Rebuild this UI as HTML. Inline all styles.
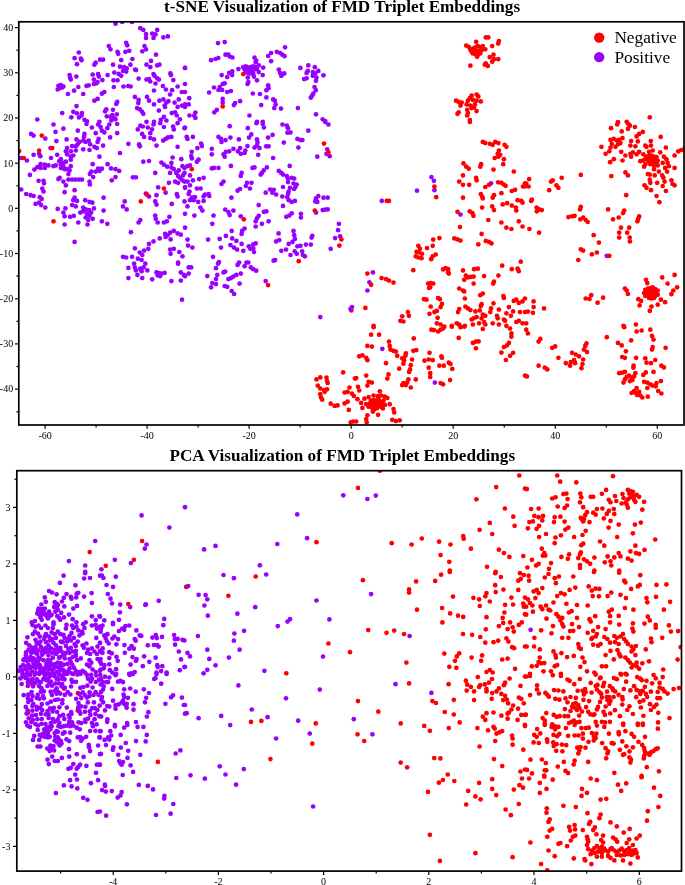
<!DOCTYPE html>
<html><head><meta charset="utf-8"><title>Embeddings</title>
<style>html,body{margin:0;padding:0;background:#fff}body{width:685px;height:885px;overflow:hidden}svg{display:block}text{font-family:"Liberation Serif",serif;fill:#000}.t{font-weight:bold;font-size:17.15px}.k{font-size:10px}.l{font-size:17.3px}</style></head><body>
<svg width="685" height="885" viewBox="0 0 685 885">
<rect width="685" height="885" fill="#fff"/>
<defs><clipPath id="ca"><rect x="18.8" y="21.8" width="665.2" height="403.2"/></clipPath><clipPath id="cb"><rect x="16.8" y="470.7" width="664.7" height="400.4"/></clipPath></defs>
<g clip-path="url(#ca)">
<g fill="#ff0000">
<circle cx="351.3" cy="310.4" r="2.35"/>
</g>
<g fill="#9800ff">
<circle cx="115.5" cy="23.7" r="2.35"/><circle cx="122.2" cy="22.0" r="2.35"/><circle cx="132.1" cy="22.0" r="2.35"/><circle cx="140.3" cy="28.2" r="2.35"/><circle cx="143.3" cy="29.9" r="2.35"/><circle cx="146.0" cy="34.1" r="2.35"/><circle cx="146.0" cy="37.9" r="2.35"/><circle cx="152.2" cy="33.6" r="2.35"/><circle cx="157.2" cy="29.9" r="2.35"/><circle cx="155.5" cy="34.4" r="2.35"/><circle cx="153.5" cy="37.9" r="2.35"/><circle cx="163.4" cy="37.4" r="2.35"/><circle cx="167.9" cy="36.4" r="2.35"/><circle cx="108.8" cy="46.1" r="2.35"/><circle cx="110.5" cy="49.3" r="2.35"/><circle cx="126.2" cy="42.8" r="2.35"/><circle cx="127.2" cy="45.3" r="2.35"/><circle cx="144.5" cy="46.1" r="2.35"/><circle cx="146.0" cy="49.3" r="2.35"/><circle cx="142.3" cy="51.3" r="2.35"/><circle cx="156.0" cy="54.7" r="2.35"/><circle cx="117.5" cy="51.8" r="2.35"/><circle cx="118.2" cy="53.8" r="2.35"/><circle cx="125.4" cy="51.8" r="2.35"/><circle cx="129.2" cy="50.8" r="2.35"/><circle cx="78.8" cy="52.5" r="2.35"/><circle cx="74.6" cy="58.2" r="2.35"/><circle cx="80.8" cy="58.5" r="2.35"/><circle cx="81.5" cy="60.2" r="2.35"/><circle cx="77.0" cy="64.2" r="2.35"/><circle cx="100.1" cy="59.7" r="2.35"/><circle cx="103.1" cy="59.7" r="2.35"/><circle cx="95.7" cy="62.7" r="2.35"/><circle cx="94.4" cy="64.7" r="2.35"/><circle cx="121.2" cy="60.2" r="2.35"/><circle cx="132.4" cy="59.0" r="2.35"/><circle cx="113.0" cy="64.7" r="2.35"/><circle cx="120.0" cy="66.7" r="2.35"/><circle cx="124.2" cy="67.2" r="2.35"/><circle cx="126.7" cy="68.4" r="2.35"/><circle cx="130.4" cy="64.7" r="2.35"/><circle cx="126.2" cy="71.6" r="2.35"/><circle cx="123.0" cy="70.9" r="2.35"/><circle cx="136.1" cy="70.1" r="2.35"/><circle cx="135.1" cy="69.6" r="2.35"/><circle cx="151.0" cy="60.9" r="2.35"/><circle cx="146.5" cy="64.7" r="2.35"/><circle cx="150.3" cy="67.2" r="2.35"/><circle cx="157.2" cy="65.4" r="2.35"/><circle cx="159.4" cy="64.7" r="2.35"/><circle cx="185.0" cy="67.9" r="2.35"/><circle cx="69.6" cy="75.1" r="2.35"/><circle cx="70.8" cy="79.6" r="2.35"/><circle cx="76.3" cy="76.6" r="2.35"/><circle cx="70.1" cy="77.6" r="2.35"/><circle cx="92.7" cy="74.6" r="2.35"/><circle cx="98.1" cy="74.1" r="2.35"/><circle cx="98.9" cy="76.6" r="2.35"/><circle cx="107.6" cy="75.1" r="2.35"/><circle cx="114.3" cy="72.6" r="2.35"/><circle cx="118.7" cy="73.9" r="2.35"/><circle cx="121.2" cy="75.8" r="2.35"/><circle cx="93.9" cy="79.6" r="2.35"/><circle cx="102.4" cy="80.1" r="2.35"/><circle cx="97.6" cy="82.0" r="2.35"/><circle cx="93.9" cy="84.0" r="2.35"/><circle cx="96.4" cy="83.3" r="2.35"/><circle cx="113.5" cy="80.3" r="2.35"/><circle cx="117.5" cy="80.3" r="2.35"/><circle cx="138.6" cy="78.6" r="2.35"/><circle cx="146.5" cy="79.6" r="2.35"/><circle cx="149.0" cy="79.1" r="2.35"/><circle cx="150.3" cy="81.5" r="2.35"/><circle cx="153.5" cy="74.1" r="2.35"/><circle cx="154.5" cy="75.8" r="2.35"/><circle cx="157.2" cy="78.3" r="2.35"/><circle cx="158.9" cy="79.6" r="2.35"/><circle cx="155.5" cy="83.5" r="2.35"/><circle cx="170.4" cy="73.4" r="2.35"/><circle cx="170.9" cy="75.1" r="2.35"/><circle cx="173.3" cy="80.1" r="2.35"/><circle cx="58.4" cy="85.8" r="2.35"/><circle cx="60.9" cy="85.0" r="2.35"/><circle cx="63.4" cy="86.5" r="2.35"/><circle cx="59.7" cy="88.2" r="2.35"/><circle cx="57.7" cy="89.5" r="2.35"/><circle cx="62.2" cy="87.5" r="2.35"/><circle cx="78.3" cy="87.0" r="2.35"/><circle cx="86.5" cy="85.8" r="2.35"/><circle cx="88.7" cy="85.3" r="2.35"/><circle cx="74.1" cy="90.7" r="2.35"/><circle cx="67.9" cy="94.0" r="2.35"/><circle cx="83.2" cy="94.0" r="2.35"/><circle cx="113.8" cy="87.0" r="2.35"/><circle cx="123.5" cy="86.5" r="2.35"/><circle cx="128.2" cy="86.0" r="2.35"/><circle cx="130.6" cy="86.5" r="2.35"/><circle cx="104.3" cy="92.0" r="2.35"/><circle cx="101.9" cy="93.7" r="2.35"/><circle cx="162.9" cy="86.0" r="2.35"/><circle cx="165.9" cy="89.5" r="2.35"/><circle cx="154.0" cy="90.5" r="2.35"/><circle cx="172.1" cy="90.2" r="2.35"/><circle cx="177.6" cy="86.5" r="2.35"/><circle cx="170.1" cy="94.5" r="2.35"/><circle cx="181.8" cy="92.0" r="2.35"/><circle cx="134.9" cy="96.9" r="2.35"/><circle cx="138.6" cy="99.9" r="2.35"/><circle cx="138.3" cy="103.1" r="2.35"/><circle cx="147.0" cy="96.9" r="2.35"/><circle cx="149.0" cy="100.7" r="2.35"/><circle cx="154.0" cy="104.4" r="2.35"/><circle cx="97.6" cy="98.9" r="2.35"/><circle cx="94.4" cy="100.7" r="2.35"/><circle cx="117.2" cy="101.9" r="2.35"/><circle cx="116.3" cy="103.9" r="2.35"/><circle cx="159.4" cy="100.7" r="2.35"/><circle cx="163.4" cy="99.4" r="2.35"/><circle cx="166.4" cy="102.6" r="2.35"/><circle cx="164.6" cy="105.6" r="2.35"/><circle cx="168.4" cy="101.2" r="2.35"/><circle cx="174.6" cy="102.6" r="2.35"/><circle cx="178.8" cy="99.4" r="2.35"/><circle cx="76.5" cy="106.1" r="2.35"/><circle cx="73.3" cy="111.8" r="2.35"/><circle cx="77.0" cy="113.3" r="2.35"/><circle cx="82.0" cy="113.1" r="2.35"/><circle cx="62.2" cy="113.1" r="2.35"/><circle cx="71.3" cy="117.3" r="2.35"/><circle cx="81.5" cy="115.5" r="2.35"/><circle cx="79.0" cy="117.5" r="2.35"/><circle cx="84.5" cy="119.8" r="2.35"/><circle cx="87.0" cy="121.3" r="2.35"/><circle cx="106.3" cy="109.3" r="2.35"/><circle cx="105.1" cy="111.3" r="2.35"/><circle cx="113.0" cy="109.8" r="2.35"/><circle cx="106.8" cy="116.3" r="2.35"/><circle cx="110.5" cy="116.8" r="2.35"/><circle cx="112.3" cy="115.1" r="2.35"/><circle cx="116.8" cy="114.3" r="2.35"/><circle cx="113.8" cy="118.0" r="2.35"/><circle cx="111.3" cy="120.5" r="2.35"/><circle cx="115.5" cy="119.3" r="2.35"/><circle cx="99.4" cy="121.8" r="2.35"/><circle cx="137.1" cy="108.1" r="2.35"/><circle cx="139.8" cy="109.3" r="2.35"/><circle cx="142.1" cy="111.8" r="2.35"/><circle cx="143.3" cy="113.8" r="2.35"/><circle cx="158.9" cy="110.6" r="2.35"/><circle cx="165.1" cy="106.9" r="2.35"/><circle cx="177.6" cy="106.9" r="2.35"/><circle cx="182.0" cy="105.6" r="2.35"/><circle cx="185.0" cy="104.4" r="2.35"/><circle cx="171.8" cy="113.1" r="2.35"/><circle cx="175.1" cy="112.3" r="2.35"/><circle cx="176.8" cy="115.5" r="2.35"/><circle cx="180.0" cy="119.3" r="2.35"/><circle cx="163.9" cy="116.8" r="2.35"/><circle cx="160.9" cy="119.8" r="2.35"/><circle cx="166.4" cy="120.5" r="2.35"/><circle cx="154.0" cy="121.8" r="2.35"/><circle cx="146.5" cy="121.8" r="2.35"/><circle cx="37.3" cy="119.5" r="2.35"/><circle cx="218.0" cy="43.1" r="2.35"/><circle cx="224.7" cy="42.1" r="2.35"/><circle cx="211.1" cy="60.2" r="2.35"/><circle cx="215.5" cy="59.0" r="2.35"/><circle cx="218.3" cy="58.0" r="2.35"/><circle cx="225.5" cy="54.7" r="2.35"/><circle cx="228.4" cy="54.7" r="2.35"/><circle cx="229.7" cy="56.5" r="2.35"/><circle cx="232.4" cy="57.5" r="2.35"/><circle cx="185.0" cy="67.9" r="2.35"/><circle cx="285.0" cy="47.3" r="2.35"/><circle cx="254.5" cy="57.7" r="2.35"/><circle cx="256.2" cy="60.5" r="2.35"/><circle cx="255.7" cy="62.2" r="2.35"/><circle cx="268.1" cy="56.0" r="2.35"/><circle cx="271.1" cy="53.0" r="2.35"/><circle cx="276.8" cy="51.8" r="2.35"/><circle cx="280.1" cy="53.0" r="2.35"/><circle cx="282.3" cy="54.7" r="2.35"/><circle cx="284.5" cy="56.2" r="2.35"/><circle cx="271.1" cy="61.2" r="2.35"/><circle cx="243.3" cy="67.2" r="2.35"/><circle cx="245.8" cy="66.4" r="2.35"/><circle cx="248.3" cy="67.6" r="2.35"/><circle cx="250.8" cy="67.2" r="2.35"/><circle cx="253.2" cy="66.4" r="2.35"/><circle cx="255.7" cy="67.2" r="2.35"/><circle cx="258.7" cy="65.4" r="2.35"/><circle cx="244.6" cy="69.6" r="2.35"/><circle cx="247.0" cy="70.9" r="2.35"/><circle cx="249.5" cy="71.6" r="2.35"/><circle cx="252.0" cy="70.9" r="2.35"/><circle cx="254.5" cy="69.6" r="2.35"/><circle cx="257.0" cy="68.9" r="2.35"/><circle cx="263.2" cy="67.6" r="2.35"/><circle cx="250.8" cy="73.4" r="2.35"/><circle cx="253.2" cy="73.4" r="2.35"/><circle cx="248.3" cy="73.4" r="2.35"/><circle cx="245.8" cy="72.1" r="2.35"/><circle cx="258.7" cy="72.1" r="2.35"/><circle cx="262.7" cy="75.1" r="2.35"/><circle cx="254.0" cy="76.6" r="2.35"/><circle cx="247.8" cy="77.6" r="2.35"/><circle cx="238.4" cy="69.1" r="2.35"/><circle cx="232.2" cy="71.4" r="2.35"/><circle cx="229.2" cy="72.9" r="2.35"/><circle cx="232.2" cy="75.1" r="2.35"/><circle cx="227.2" cy="77.1" r="2.35"/><circle cx="221.7" cy="75.1" r="2.35"/><circle cx="248.3" cy="82.0" r="2.35"/><circle cx="247.5" cy="84.0" r="2.35"/><circle cx="257.0" cy="80.3" r="2.35"/><circle cx="278.8" cy="69.6" r="2.35"/><circle cx="280.1" cy="72.9" r="2.35"/><circle cx="282.3" cy="74.6" r="2.35"/><circle cx="284.3" cy="73.4" r="2.35"/><circle cx="281.3" cy="75.8" r="2.35"/><circle cx="300.4" cy="67.9" r="2.35"/><circle cx="308.3" cy="65.4" r="2.35"/><circle cx="314.8" cy="67.2" r="2.35"/><circle cx="318.3" cy="70.9" r="2.35"/><circle cx="307.8" cy="70.9" r="2.35"/><circle cx="306.6" cy="72.9" r="2.35"/><circle cx="312.8" cy="72.1" r="2.35"/><circle cx="315.3" cy="73.4" r="2.35"/><circle cx="312.8" cy="75.8" r="2.35"/><circle cx="316.5" cy="77.6" r="2.35"/><circle cx="323.5" cy="75.3" r="2.35"/><circle cx="304.1" cy="79.1" r="2.35"/><circle cx="306.6" cy="78.3" r="2.35"/><circle cx="316.0" cy="80.8" r="2.35"/><circle cx="185.0" cy="84.0" r="2.35"/><circle cx="185.0" cy="92.0" r="2.35"/><circle cx="189.2" cy="98.2" r="2.35"/><circle cx="188.7" cy="104.4" r="2.35"/><circle cx="185.0" cy="106.9" r="2.35"/><circle cx="222.7" cy="84.0" r="2.35"/><circle cx="224.7" cy="83.3" r="2.35"/><circle cx="219.7" cy="87.0" r="2.35"/><circle cx="214.0" cy="87.5" r="2.35"/><circle cx="218.5" cy="90.0" r="2.35"/><circle cx="222.2" cy="90.0" r="2.35"/><circle cx="209.1" cy="92.5" r="2.35"/><circle cx="227.2" cy="92.0" r="2.35"/><circle cx="230.9" cy="91.0" r="2.35"/><circle cx="268.1" cy="85.3" r="2.35"/><circle cx="268.6" cy="88.2" r="2.35"/><circle cx="266.4" cy="90.2" r="2.35"/><circle cx="252.8" cy="93.5" r="2.35"/><circle cx="259.9" cy="94.0" r="2.35"/><circle cx="266.4" cy="97.4" r="2.35"/><circle cx="273.1" cy="99.4" r="2.35"/><circle cx="274.8" cy="100.7" r="2.35"/><circle cx="314.5" cy="87.0" r="2.35"/><circle cx="315.8" cy="90.2" r="2.35"/><circle cx="313.3" cy="93.7" r="2.35"/><circle cx="312.1" cy="95.7" r="2.35"/><circle cx="310.8" cy="97.7" r="2.35"/><circle cx="222.7" cy="98.9" r="2.35"/><circle cx="222.7" cy="102.6" r="2.35"/><circle cx="240.1" cy="101.2" r="2.35"/><circle cx="235.1" cy="103.1" r="2.35"/><circle cx="233.9" cy="105.1" r="2.35"/><circle cx="261.2" cy="105.1" r="2.35"/><circle cx="275.6" cy="104.4" r="2.35"/><circle cx="274.3" cy="108.1" r="2.35"/><circle cx="281.0" cy="108.6" r="2.35"/><circle cx="297.9" cy="108.1" r="2.35"/><circle cx="216.8" cy="109.8" r="2.35"/><circle cx="214.3" cy="112.3" r="2.35"/><circle cx="195.4" cy="112.6" r="2.35"/><circle cx="189.5" cy="115.5" r="2.35"/><circle cx="194.2" cy="115.5" r="2.35"/><circle cx="195.4" cy="118.0" r="2.35"/><circle cx="249.5" cy="115.5" r="2.35"/><circle cx="257.0" cy="121.8" r="2.35"/><circle cx="262.7" cy="121.8" r="2.35"/><circle cx="316.0" cy="114.3" r="2.35"/><circle cx="322.7" cy="119.3" r="2.35"/><circle cx="325.2" cy="121.0" r="2.35"/><circle cx="53.5" cy="124.5" r="2.35"/><circle cx="55.5" cy="131.9" r="2.35"/><circle cx="63.4" cy="128.7" r="2.35"/><circle cx="77.8" cy="130.7" r="2.35"/><circle cx="84.5" cy="133.9" r="2.35"/><circle cx="86.5" cy="124.0" r="2.35"/><circle cx="91.9" cy="127.5" r="2.35"/><circle cx="95.7" cy="133.2" r="2.35"/><circle cx="98.1" cy="124.5" r="2.35"/><circle cx="100.6" cy="127.0" r="2.35"/><circle cx="101.9" cy="130.7" r="2.35"/><circle cx="104.3" cy="132.4" r="2.35"/><circle cx="107.3" cy="128.2" r="2.35"/><circle cx="109.3" cy="124.5" r="2.35"/><circle cx="117.2" cy="124.0" r="2.35"/><circle cx="117.2" cy="133.2" r="2.35"/><circle cx="110.1" cy="137.4" r="2.35"/><circle cx="31.1" cy="133.9" r="2.35"/><circle cx="33.6" cy="135.6" r="2.35"/><circle cx="45.3" cy="138.6" r="2.35"/><circle cx="56.4" cy="141.1" r="2.35"/><circle cx="66.6" cy="139.4" r="2.35"/><circle cx="76.5" cy="139.4" r="2.35"/><circle cx="84.0" cy="136.9" r="2.35"/><circle cx="137.8" cy="129.4" r="2.35"/><circle cx="140.3" cy="125.7" r="2.35"/><circle cx="142.8" cy="126.5" r="2.35"/><circle cx="142.1" cy="133.9" r="2.35"/><circle cx="144.1" cy="136.9" r="2.35"/><circle cx="147.8" cy="127.5" r="2.35"/><circle cx="150.3" cy="133.2" r="2.35"/><circle cx="152.0" cy="129.4" r="2.35"/><circle cx="153.5" cy="124.5" r="2.35"/><circle cx="150.3" cy="138.1" r="2.35"/><circle cx="154.0" cy="139.4" r="2.35"/><circle cx="160.2" cy="123.2" r="2.35"/><circle cx="163.9" cy="127.0" r="2.35"/><circle cx="168.1" cy="137.4" r="2.35"/><circle cx="165.6" cy="138.9" r="2.35"/><circle cx="163.2" cy="140.6" r="2.35"/><circle cx="171.4" cy="136.9" r="2.35"/><circle cx="173.1" cy="126.5" r="2.35"/><circle cx="173.8" cy="129.4" r="2.35"/><circle cx="177.6" cy="123.2" r="2.35"/><circle cx="184.5" cy="128.2" r="2.35"/><circle cx="128.4" cy="143.8" r="2.35"/><circle cx="139.1" cy="144.3" r="2.35"/><circle cx="139.8" cy="146.3" r="2.35"/><circle cx="156.5" cy="145.6" r="2.35"/><circle cx="177.6" cy="146.8" r="2.35"/><circle cx="120.0" cy="153.0" r="2.35"/><circle cx="79.5" cy="141.9" r="2.35"/><circle cx="83.2" cy="140.6" r="2.35"/><circle cx="85.7" cy="141.9" r="2.35"/><circle cx="88.7" cy="140.6" r="2.35"/><circle cx="77.5" cy="144.3" r="2.35"/><circle cx="75.8" cy="146.3" r="2.35"/><circle cx="72.1" cy="146.1" r="2.35"/><circle cx="67.1" cy="148.1" r="2.35"/><circle cx="90.2" cy="144.3" r="2.35"/><circle cx="94.4" cy="146.8" r="2.35"/><circle cx="96.9" cy="148.1" r="2.35"/><circle cx="103.1" cy="145.6" r="2.35"/><circle cx="98.6" cy="138.9" r="2.35"/><circle cx="97.6" cy="141.9" r="2.35"/><circle cx="89.5" cy="150.0" r="2.35"/><circle cx="83.2" cy="149.3" r="2.35"/><circle cx="65.9" cy="151.3" r="2.35"/><circle cx="67.1" cy="154.3" r="2.35"/><circle cx="70.8" cy="151.3" r="2.35"/><circle cx="73.3" cy="155.5" r="2.35"/><circle cx="75.8" cy="150.5" r="2.35"/><circle cx="70.8" cy="156.7" r="2.35"/><circle cx="70.8" cy="159.7" r="2.35"/><circle cx="99.4" cy="156.7" r="2.35"/><circle cx="50.5" cy="148.1" r="2.35"/><circle cx="33.6" cy="154.8" r="2.35"/><circle cx="39.1" cy="153.8" r="2.35"/><circle cx="40.3" cy="156.2" r="2.35"/><circle cx="51.0" cy="158.0" r="2.35"/><circle cx="57.2" cy="154.8" r="2.35"/><circle cx="60.9" cy="159.2" r="2.35"/><circle cx="59.2" cy="161.2" r="2.35"/><circle cx="26.9" cy="160.5" r="2.35"/><circle cx="21.2" cy="158.0" r="2.35"/><circle cx="40.6" cy="164.2" r="2.35"/><circle cx="44.8" cy="164.7" r="2.35"/><circle cx="48.5" cy="165.4" r="2.35"/><circle cx="53.5" cy="166.2" r="2.35"/><circle cx="55.9" cy="165.4" r="2.35"/><circle cx="60.9" cy="164.2" r="2.35"/><circle cx="63.4" cy="162.9" r="2.35"/><circle cx="65.9" cy="161.7" r="2.35"/><circle cx="63.4" cy="166.7" r="2.35"/><circle cx="60.9" cy="167.9" r="2.35"/><circle cx="64.6" cy="169.2" r="2.35"/><circle cx="67.1" cy="169.2" r="2.35"/><circle cx="70.8" cy="166.2" r="2.35"/><circle cx="69.6" cy="170.4" r="2.35"/><circle cx="40.6" cy="167.9" r="2.35"/><circle cx="37.3" cy="167.2" r="2.35"/><circle cx="34.4" cy="169.6" r="2.35"/><circle cx="44.8" cy="167.9" r="2.35"/><circle cx="92.7" cy="164.2" r="2.35"/><circle cx="107.6" cy="164.2" r="2.35"/><circle cx="111.0" cy="168.4" r="2.35"/><circle cx="115.5" cy="169.2" r="2.35"/><circle cx="119.2" cy="170.9" r="2.35"/><circle cx="101.9" cy="168.7" r="2.35"/><circle cx="98.1" cy="168.7" r="2.35"/><circle cx="99.4" cy="170.9" r="2.35"/><circle cx="95.7" cy="171.6" r="2.35"/><circle cx="91.4" cy="171.6" r="2.35"/><circle cx="89.9" cy="174.1" r="2.35"/><circle cx="143.3" cy="161.7" r="2.35"/><circle cx="149.0" cy="161.0" r="2.35"/><circle cx="161.4" cy="162.5" r="2.35"/><circle cx="163.9" cy="164.7" r="2.35"/><circle cx="167.1" cy="166.7" r="2.35"/><circle cx="171.4" cy="167.4" r="2.35"/><circle cx="173.8" cy="169.2" r="2.35"/><circle cx="178.8" cy="170.4" r="2.35"/><circle cx="182.5" cy="166.2" r="2.35"/><circle cx="184.5" cy="167.9" r="2.35"/><circle cx="181.3" cy="159.2" r="2.35"/><circle cx="172.6" cy="157.5" r="2.35"/><circle cx="171.4" cy="162.9" r="2.35"/><circle cx="29.9" cy="174.9" r="2.35"/><circle cx="38.6" cy="180.8" r="2.35"/><circle cx="43.5" cy="180.8" r="2.35"/><circle cx="44.0" cy="183.3" r="2.35"/><circle cx="42.3" cy="188.5" r="2.35"/><circle cx="43.5" cy="191.5" r="2.35"/><circle cx="59.7" cy="177.8" r="2.35"/><circle cx="58.4" cy="179.1" r="2.35"/><circle cx="63.4" cy="181.6" r="2.35"/><circle cx="68.4" cy="174.1" r="2.35"/><circle cx="68.4" cy="179.6" r="2.35"/><circle cx="72.1" cy="179.6" r="2.35"/><circle cx="75.3" cy="179.6" r="2.35"/><circle cx="78.8" cy="179.6" r="2.35"/><circle cx="82.0" cy="179.6" r="2.35"/><circle cx="65.9" cy="185.3" r="2.35"/><circle cx="64.6" cy="192.2" r="2.35"/><circle cx="74.6" cy="190.2" r="2.35"/><circle cx="89.5" cy="181.6" r="2.35"/><circle cx="89.9" cy="184.5" r="2.35"/><circle cx="93.2" cy="177.1" r="2.35"/><circle cx="111.8" cy="180.3" r="2.35"/><circle cx="115.5" cy="177.1" r="2.35"/><circle cx="132.9" cy="177.3" r="2.35"/><circle cx="135.9" cy="177.3" r="2.35"/><circle cx="155.2" cy="172.9" r="2.35"/><circle cx="170.1" cy="172.9" r="2.35"/><circle cx="176.3" cy="172.9" r="2.35"/><circle cx="178.1" cy="176.1" r="2.35"/><circle cx="180.0" cy="177.8" r="2.35"/><circle cx="183.0" cy="175.4" r="2.35"/><circle cx="184.5" cy="172.9" r="2.35"/><circle cx="175.1" cy="181.6" r="2.35"/><circle cx="178.1" cy="182.8" r="2.35"/><circle cx="168.9" cy="182.8" r="2.35"/><circle cx="182.5" cy="180.3" r="2.35"/><circle cx="184.5" cy="181.6" r="2.35"/><circle cx="158.2" cy="187.3" r="2.35"/><circle cx="165.6" cy="192.7" r="2.35"/><circle cx="156.5" cy="195.2" r="2.35"/><circle cx="176.8" cy="194.0" r="2.35"/><circle cx="177.6" cy="196.5" r="2.35"/><circle cx="185.0" cy="187.8" r="2.35"/><circle cx="145.8" cy="193.5" r="2.35"/><circle cx="149.0" cy="196.5" r="2.35"/><circle cx="21.2" cy="189.5" r="2.35"/><circle cx="26.2" cy="194.0" r="2.35"/><circle cx="30.6" cy="195.2" r="2.35"/><circle cx="33.6" cy="196.0" r="2.35"/><circle cx="39.8" cy="197.2" r="2.35"/><circle cx="41.6" cy="198.9" r="2.35"/><circle cx="39.1" cy="202.7" r="2.35"/><circle cx="35.6" cy="203.9" r="2.35"/><circle cx="41.1" cy="205.1" r="2.35"/><circle cx="45.3" cy="207.6" r="2.35"/><circle cx="74.6" cy="197.7" r="2.35"/><circle cx="73.3" cy="200.2" r="2.35"/><circle cx="77.0" cy="200.9" r="2.35"/><circle cx="85.2" cy="200.2" r="2.35"/><circle cx="89.5" cy="201.9" r="2.35"/><circle cx="92.4" cy="202.7" r="2.35"/><circle cx="103.6" cy="197.7" r="2.35"/><circle cx="124.7" cy="201.4" r="2.35"/><circle cx="123.0" cy="206.4" r="2.35"/><circle cx="126.7" cy="209.4" r="2.35"/><circle cx="155.2" cy="201.4" r="2.35"/><circle cx="156.5" cy="204.6" r="2.35"/><circle cx="171.8" cy="203.9" r="2.35"/><circle cx="184.5" cy="201.4" r="2.35"/><circle cx="72.1" cy="205.1" r="2.35"/><circle cx="75.8" cy="206.4" r="2.35"/><circle cx="57.7" cy="208.9" r="2.35"/><circle cx="65.4" cy="208.4" r="2.35"/><circle cx="63.4" cy="212.6" r="2.35"/><circle cx="64.6" cy="216.3" r="2.35"/><circle cx="70.1" cy="216.8" r="2.35"/><circle cx="73.8" cy="215.8" r="2.35"/><circle cx="78.3" cy="222.5" r="2.35"/><circle cx="83.2" cy="207.6" r="2.35"/><circle cx="80.3" cy="212.6" r="2.35"/><circle cx="83.2" cy="211.3" r="2.35"/><circle cx="85.7" cy="209.4" r="2.35"/><circle cx="89.0" cy="210.1" r="2.35"/><circle cx="91.2" cy="212.6" r="2.35"/><circle cx="93.9" cy="208.4" r="2.35"/><circle cx="87.0" cy="213.8" r="2.35"/><circle cx="89.5" cy="215.8" r="2.35"/><circle cx="85.7" cy="217.5" r="2.35"/><circle cx="92.7" cy="218.8" r="2.35"/><circle cx="88.2" cy="220.0" r="2.35"/><circle cx="103.6" cy="210.6" r="2.35"/><circle cx="101.9" cy="221.3" r="2.35"/><circle cx="107.3" cy="223.8" r="2.35"/><circle cx="140.3" cy="220.0" r="2.35"/><circle cx="138.6" cy="222.5" r="2.35"/><circle cx="155.2" cy="215.6" r="2.35"/><circle cx="155.7" cy="218.8" r="2.35"/><circle cx="169.4" cy="216.8" r="2.35"/><circle cx="157.7" cy="222.5" r="2.35"/><circle cx="163.9" cy="222.5" r="2.35"/><circle cx="166.9" cy="221.3" r="2.35"/><circle cx="229.7" cy="126.2" r="2.35"/><circle cx="247.8" cy="128.2" r="2.35"/><circle cx="256.5" cy="123.2" r="2.35"/><circle cx="262.7" cy="124.0" r="2.35"/><circle cx="263.9" cy="127.5" r="2.35"/><circle cx="282.5" cy="124.5" r="2.35"/><circle cx="286.8" cy="125.7" r="2.35"/><circle cx="288.0" cy="128.2" r="2.35"/><circle cx="287.5" cy="132.7" r="2.35"/><circle cx="290.5" cy="132.4" r="2.35"/><circle cx="308.3" cy="130.7" r="2.35"/><circle cx="328.4" cy="124.5" r="2.35"/><circle cx="325.2" cy="122.0" r="2.35"/><circle cx="185.0" cy="127.5" r="2.35"/><circle cx="186.7" cy="136.9" r="2.35"/><circle cx="187.5" cy="138.9" r="2.35"/><circle cx="192.9" cy="136.9" r="2.35"/><circle cx="201.1" cy="143.6" r="2.35"/><circle cx="201.9" cy="146.1" r="2.35"/><circle cx="197.4" cy="148.1" r="2.35"/><circle cx="218.5" cy="136.9" r="2.35"/><circle cx="221.0" cy="138.9" r="2.35"/><circle cx="221.5" cy="141.9" r="2.35"/><circle cx="225.5" cy="140.1" r="2.35"/><circle cx="230.4" cy="137.6" r="2.35"/><circle cx="238.9" cy="139.4" r="2.35"/><circle cx="251.3" cy="134.4" r="2.35"/><circle cx="249.0" cy="137.6" r="2.35"/><circle cx="257.0" cy="139.4" r="2.35"/><circle cx="257.5" cy="142.4" r="2.35"/><circle cx="268.1" cy="137.6" r="2.35"/><circle cx="272.6" cy="134.9" r="2.35"/><circle cx="283.8" cy="142.6" r="2.35"/><circle cx="297.4" cy="138.9" r="2.35"/><circle cx="300.4" cy="140.1" r="2.35"/><circle cx="302.4" cy="140.1" r="2.35"/><circle cx="211.8" cy="148.8" r="2.35"/><circle cx="211.8" cy="154.3" r="2.35"/><circle cx="223.5" cy="154.3" r="2.35"/><circle cx="224.7" cy="156.7" r="2.35"/><circle cx="225.9" cy="151.8" r="2.35"/><circle cx="229.2" cy="151.3" r="2.35"/><circle cx="233.4" cy="148.8" r="2.35"/><circle cx="237.9" cy="151.3" r="2.35"/><circle cx="240.1" cy="148.1" r="2.35"/><circle cx="240.8" cy="153.8" r="2.35"/><circle cx="244.6" cy="153.0" r="2.35"/><circle cx="245.3" cy="150.5" r="2.35"/><circle cx="247.5" cy="146.1" r="2.35"/><circle cx="254.5" cy="147.6" r="2.35"/><circle cx="257.0" cy="145.6" r="2.35"/><circle cx="259.5" cy="148.1" r="2.35"/><circle cx="266.2" cy="146.3" r="2.35"/><circle cx="268.6" cy="146.3" r="2.35"/><circle cx="258.2" cy="154.8" r="2.35"/><circle cx="273.1" cy="158.0" r="2.35"/><circle cx="298.4" cy="147.6" r="2.35"/><circle cx="191.7" cy="151.8" r="2.35"/><circle cx="191.2" cy="156.0" r="2.35"/><circle cx="191.9" cy="158.5" r="2.35"/><circle cx="198.6" cy="159.7" r="2.35"/><circle cx="196.9" cy="161.7" r="2.35"/><circle cx="190.0" cy="165.4" r="2.35"/><circle cx="187.5" cy="166.2" r="2.35"/><circle cx="211.8" cy="168.4" r="2.35"/><circle cx="214.0" cy="167.9" r="2.35"/><circle cx="218.5" cy="167.9" r="2.35"/><circle cx="230.9" cy="165.9" r="2.35"/><circle cx="252.5" cy="167.9" r="2.35"/><circle cx="254.5" cy="167.4" r="2.35"/><circle cx="266.9" cy="167.4" r="2.35"/><circle cx="263.7" cy="170.4" r="2.35"/><circle cx="261.9" cy="172.9" r="2.35"/><circle cx="260.7" cy="174.6" r="2.35"/><circle cx="241.6" cy="172.9" r="2.35"/><circle cx="240.8" cy="175.9" r="2.35"/><circle cx="289.7" cy="165.9" r="2.35"/><circle cx="278.8" cy="170.9" r="2.35"/><circle cx="281.3" cy="172.9" r="2.35"/><circle cx="283.0" cy="174.6" r="2.35"/><circle cx="286.8" cy="176.1" r="2.35"/><circle cx="288.0" cy="178.6" r="2.35"/><circle cx="291.7" cy="177.8" r="2.35"/><circle cx="294.2" cy="178.6" r="2.35"/><circle cx="288.0" cy="182.1" r="2.35"/><circle cx="293.5" cy="183.5" r="2.35"/><circle cx="296.7" cy="184.5" r="2.35"/><circle cx="295.4" cy="187.0" r="2.35"/><circle cx="294.2" cy="189.0" r="2.35"/><circle cx="290.0" cy="187.8" r="2.35"/><circle cx="283.0" cy="187.0" r="2.35"/><circle cx="288.7" cy="191.5" r="2.35"/><circle cx="288.0" cy="194.0" r="2.35"/><circle cx="317.3" cy="156.7" r="2.35"/><circle cx="327.2" cy="149.3" r="2.35"/><circle cx="326.5" cy="153.8" r="2.35"/><circle cx="329.7" cy="156.2" r="2.35"/><circle cx="190.0" cy="175.4" r="2.35"/><circle cx="187.5" cy="181.6" r="2.35"/><circle cx="192.9" cy="180.3" r="2.35"/><circle cx="199.1" cy="179.1" r="2.35"/><circle cx="203.6" cy="177.8" r="2.35"/><circle cx="190.0" cy="185.3" r="2.35"/><circle cx="185.0" cy="187.0" r="2.35"/><circle cx="196.9" cy="188.5" r="2.35"/><circle cx="200.6" cy="188.5" r="2.35"/><circle cx="189.5" cy="191.5" r="2.35"/><circle cx="188.7" cy="194.0" r="2.35"/><circle cx="223.5" cy="181.6" r="2.35"/><circle cx="221.5" cy="184.0" r="2.35"/><circle cx="247.0" cy="182.8" r="2.35"/><circle cx="251.5" cy="182.8" r="2.35"/><circle cx="245.8" cy="186.0" r="2.35"/><circle cx="250.0" cy="188.5" r="2.35"/><circle cx="240.1" cy="189.0" r="2.35"/><circle cx="237.6" cy="190.7" r="2.35"/><circle cx="270.1" cy="189.5" r="2.35"/><circle cx="273.8" cy="189.8" r="2.35"/><circle cx="265.7" cy="192.7" r="2.35"/><circle cx="272.4" cy="192.7" r="2.35"/><circle cx="276.1" cy="194.5" r="2.35"/><circle cx="282.3" cy="196.5" r="2.35"/><circle cx="287.2" cy="197.2" r="2.35"/><circle cx="288.7" cy="200.2" r="2.35"/><circle cx="291.7" cy="201.9" r="2.35"/><circle cx="294.9" cy="200.9" r="2.35"/><circle cx="283.0" cy="205.9" r="2.35"/><circle cx="318.3" cy="196.0" r="2.35"/><circle cx="316.0" cy="198.4" r="2.35"/><circle cx="315.3" cy="201.4" r="2.35"/><circle cx="317.3" cy="201.9" r="2.35"/><circle cx="323.5" cy="197.7" r="2.35"/><circle cx="327.7" cy="197.7" r="2.35"/><circle cx="204.9" cy="194.7" r="2.35"/><circle cx="208.6" cy="194.0" r="2.35"/><circle cx="209.3" cy="196.0" r="2.35"/><circle cx="203.6" cy="196.5" r="2.35"/><circle cx="191.9" cy="197.7" r="2.35"/><circle cx="194.9" cy="197.2" r="2.35"/><circle cx="190.0" cy="200.2" r="2.35"/><circle cx="193.7" cy="200.2" r="2.35"/><circle cx="198.2" cy="201.9" r="2.35"/><circle cx="203.6" cy="200.9" r="2.35"/><circle cx="187.5" cy="206.4" r="2.35"/><circle cx="200.4" cy="207.6" r="2.35"/><circle cx="202.4" cy="210.6" r="2.35"/><circle cx="231.4" cy="197.7" r="2.35"/><circle cx="258.7" cy="205.1" r="2.35"/><circle cx="225.2" cy="209.6" r="2.35"/><circle cx="228.4" cy="212.1" r="2.35"/><circle cx="233.4" cy="210.6" r="2.35"/><circle cx="229.7" cy="215.1" r="2.35"/><circle cx="240.8" cy="216.3" r="2.35"/><circle cx="263.9" cy="211.8" r="2.35"/><circle cx="266.4" cy="211.3" r="2.35"/><circle cx="258.7" cy="215.8" r="2.35"/><circle cx="257.0" cy="218.3" r="2.35"/><circle cx="255.7" cy="221.3" r="2.35"/><circle cx="268.6" cy="221.3" r="2.35"/><circle cx="261.9" cy="223.8" r="2.35"/><circle cx="291.7" cy="213.3" r="2.35"/><circle cx="289.2" cy="215.6" r="2.35"/><circle cx="286.3" cy="216.8" r="2.35"/><circle cx="300.9" cy="213.8" r="2.35"/><circle cx="300.9" cy="217.5" r="2.35"/><circle cx="316.0" cy="212.6" r="2.35"/><circle cx="322.7" cy="210.1" r="2.35"/><circle cx="325.2" cy="209.6" r="2.35"/><circle cx="327.7" cy="209.4" r="2.35"/><circle cx="185.0" cy="213.8" r="2.35"/><circle cx="194.4" cy="215.6" r="2.35"/><circle cx="213.5" cy="215.6" r="2.35"/><circle cx="212.3" cy="223.8" r="2.35"/><circle cx="338.9" cy="223.8" r="2.35"/><circle cx="381.8" cy="200.9" r="2.35"/><circle cx="417.0" cy="190.7" r="2.35"/><circle cx="431.4" cy="177.1" r="2.35"/><circle cx="433.9" cy="180.8" r="2.35"/><circle cx="434.4" cy="190.2" r="2.35"/><circle cx="491.0" cy="183.3" r="2.35"/><circle cx="460.5" cy="214.6" r="2.35"/><circle cx="64.6" cy="224.5" r="2.35"/><circle cx="87.5" cy="224.5" r="2.35"/><circle cx="74.6" cy="241.9" r="2.35"/><circle cx="130.9" cy="232.2" r="2.35"/><circle cx="165.1" cy="233.9" r="2.35"/><circle cx="167.6" cy="235.2" r="2.35"/><circle cx="170.1" cy="232.7" r="2.35"/><circle cx="173.8" cy="230.9" r="2.35"/><circle cx="177.6" cy="233.4" r="2.35"/><circle cx="180.8" cy="234.7" r="2.35"/><circle cx="170.6" cy="239.4" r="2.35"/><circle cx="165.6" cy="236.9" r="2.35"/><circle cx="159.7" cy="238.4" r="2.35"/><circle cx="153.5" cy="241.4" r="2.35"/><circle cx="149.0" cy="243.9" r="2.35"/><circle cx="185.0" cy="227.7" r="2.35"/><circle cx="134.9" cy="248.3" r="2.35"/><circle cx="144.1" cy="250.6" r="2.35"/><circle cx="148.3" cy="248.8" r="2.35"/><circle cx="139.8" cy="252.5" r="2.35"/><circle cx="142.3" cy="255.0" r="2.35"/><circle cx="170.1" cy="249.6" r="2.35"/><circle cx="173.8" cy="248.8" r="2.35"/><circle cx="170.6" cy="253.8" r="2.35"/><circle cx="179.3" cy="252.0" r="2.35"/><circle cx="182.5" cy="256.3" r="2.35"/><circle cx="123.0" cy="256.8" r="2.35"/><circle cx="126.2" cy="257.5" r="2.35"/><circle cx="132.1" cy="256.8" r="2.35"/><circle cx="137.8" cy="258.7" r="2.35"/><circle cx="141.6" cy="260.0" r="2.35"/><circle cx="134.1" cy="263.7" r="2.35"/><circle cx="145.3" cy="263.7" r="2.35"/><circle cx="178.1" cy="262.5" r="2.35"/><circle cx="178.1" cy="263.7" r="2.35"/><circle cx="128.4" cy="267.9" r="2.35"/><circle cx="134.9" cy="267.4" r="2.35"/><circle cx="135.9" cy="270.4" r="2.35"/><circle cx="140.3" cy="268.7" r="2.35"/><circle cx="143.6" cy="267.4" r="2.35"/><circle cx="141.6" cy="271.2" r="2.35"/><circle cx="147.3" cy="270.4" r="2.35"/><circle cx="137.4" cy="274.9" r="2.35"/><circle cx="156.5" cy="272.4" r="2.35"/><circle cx="158.9" cy="273.1" r="2.35"/><circle cx="161.4" cy="273.6" r="2.35"/><circle cx="164.6" cy="272.9" r="2.35"/><circle cx="157.7" cy="275.4" r="2.35"/><circle cx="160.2" cy="276.1" r="2.35"/><circle cx="128.4" cy="278.1" r="2.35"/><circle cx="142.3" cy="278.1" r="2.35"/><circle cx="152.2" cy="279.3" r="2.35"/><circle cx="171.4" cy="281.1" r="2.35"/><circle cx="180.8" cy="272.4" r="2.35"/><circle cx="183.8" cy="274.9" r="2.35"/><circle cx="180.8" cy="280.6" r="2.35"/><circle cx="185.0" cy="276.1" r="2.35"/><circle cx="182.0" cy="299.7" r="2.35"/><circle cx="255.7" cy="226.5" r="2.35"/><circle cx="244.6" cy="228.5" r="2.35"/><circle cx="242.1" cy="230.9" r="2.35"/><circle cx="241.6" cy="233.9" r="2.35"/><circle cx="231.7" cy="230.9" r="2.35"/><circle cx="225.9" cy="235.9" r="2.35"/><circle cx="232.2" cy="238.4" r="2.35"/><circle cx="219.7" cy="238.9" r="2.35"/><circle cx="208.1" cy="239.6" r="2.35"/><circle cx="236.4" cy="240.9" r="2.35"/><circle cx="241.6" cy="243.9" r="2.35"/><circle cx="230.4" cy="245.1" r="2.35"/><circle cx="233.9" cy="247.6" r="2.35"/><circle cx="237.1" cy="249.6" r="2.35"/><circle cx="221.0" cy="247.6" r="2.35"/><circle cx="243.3" cy="250.8" r="2.35"/><circle cx="248.8" cy="246.3" r="2.35"/><circle cx="250.3" cy="248.8" r="2.35"/><circle cx="253.2" cy="244.4" r="2.35"/><circle cx="255.7" cy="243.4" r="2.35"/><circle cx="253.2" cy="248.3" r="2.35"/><circle cx="254.0" cy="252.0" r="2.35"/><circle cx="187.5" cy="239.6" r="2.35"/><circle cx="188.0" cy="245.6" r="2.35"/><circle cx="192.4" cy="247.6" r="2.35"/><circle cx="278.6" cy="233.4" r="2.35"/><circle cx="279.3" cy="240.1" r="2.35"/><circle cx="276.1" cy="241.4" r="2.35"/><circle cx="293.5" cy="230.9" r="2.35"/><circle cx="294.2" cy="235.2" r="2.35"/><circle cx="294.9" cy="238.9" r="2.35"/><circle cx="292.5" cy="241.9" r="2.35"/><circle cx="288.7" cy="243.9" r="2.35"/><circle cx="312.3" cy="235.9" r="2.35"/><circle cx="311.6" cy="237.6" r="2.35"/><circle cx="305.9" cy="244.6" r="2.35"/><circle cx="310.8" cy="244.6" r="2.35"/><circle cx="297.4" cy="246.3" r="2.35"/><circle cx="300.4" cy="245.8" r="2.35"/><circle cx="281.3" cy="250.8" r="2.35"/><circle cx="286.0" cy="249.6" r="2.35"/><circle cx="294.7" cy="251.3" r="2.35"/><circle cx="296.7" cy="253.8" r="2.35"/><circle cx="302.1" cy="251.3" r="2.35"/><circle cx="302.9" cy="255.0" r="2.35"/><circle cx="304.9" cy="256.3" r="2.35"/><circle cx="290.5" cy="255.0" r="2.35"/><circle cx="338.1" cy="230.2" r="2.35"/><circle cx="340.1" cy="236.4" r="2.35"/><circle cx="335.1" cy="238.1" r="2.35"/><circle cx="330.7" cy="248.8" r="2.35"/><circle cx="213.0" cy="256.8" r="2.35"/><circle cx="219.0" cy="262.0" r="2.35"/><circle cx="218.0" cy="263.7" r="2.35"/><circle cx="216.0" cy="268.2" r="2.35"/><circle cx="239.1" cy="262.5" r="2.35"/><circle cx="237.6" cy="264.9" r="2.35"/><circle cx="246.5" cy="262.5" r="2.35"/><circle cx="248.3" cy="262.5" r="2.35"/><circle cx="244.6" cy="266.2" r="2.35"/><circle cx="250.8" cy="267.4" r="2.35"/><circle cx="253.2" cy="269.2" r="2.35"/><circle cx="256.2" cy="270.7" r="2.35"/><circle cx="273.6" cy="260.7" r="2.35"/><circle cx="275.1" cy="260.0" r="2.35"/><circle cx="188.7" cy="267.4" r="2.35"/><circle cx="191.2" cy="267.4" r="2.35"/><circle cx="188.7" cy="273.6" r="2.35"/><circle cx="185.0" cy="276.1" r="2.35"/><circle cx="207.3" cy="276.1" r="2.35"/><circle cx="217.3" cy="274.9" r="2.35"/><circle cx="223.5" cy="272.4" r="2.35"/><circle cx="225.2" cy="271.6" r="2.35"/><circle cx="240.8" cy="273.6" r="2.35"/><circle cx="236.4" cy="274.9" r="2.35"/><circle cx="233.4" cy="276.6" r="2.35"/><circle cx="230.9" cy="278.1" r="2.35"/><circle cx="228.4" cy="279.1" r="2.35"/><circle cx="216.0" cy="279.1" r="2.35"/><circle cx="212.3" cy="283.1" r="2.35"/><circle cx="216.0" cy="284.1" r="2.35"/><circle cx="211.1" cy="287.3" r="2.35"/><circle cx="224.7" cy="286.0" r="2.35"/><circle cx="227.2" cy="286.8" r="2.35"/><circle cx="239.6" cy="283.6" r="2.35"/><circle cx="231.7" cy="291.0" r="2.35"/><circle cx="234.1" cy="294.0" r="2.35"/><circle cx="265.7" cy="281.1" r="2.35"/><circle cx="320.3" cy="317.1" r="2.35"/><circle cx="350.5" cy="308.9" r="2.35"/><circle cx="352.0" cy="307.1" r="2.35"/><circle cx="372.9" cy="272.4" r="2.35"/><circle cx="369.4" cy="282.3" r="2.35"/><circle cx="367.4" cy="290.5" r="2.35"/><circle cx="606.8" cy="255.8" r="2.35"/><circle cx="382.3" cy="348.8" r="2.35"/><circle cx="434.9" cy="382.6" r="2.35"/>
</g>
<g fill="#ff0000">
<circle cx="243.3" cy="74.1" r="2.35"/><circle cx="222.7" cy="106.4" r="2.35"/><circle cx="485.8" cy="37.4" r="2.35"/><circle cx="488.3" cy="37.4" r="2.35"/><circle cx="498.9" cy="41.1" r="2.35"/><circle cx="498.2" cy="43.6" r="2.35"/><circle cx="476.1" cy="41.8" r="2.35"/><circle cx="466.2" cy="45.6" r="2.35"/><circle cx="468.7" cy="46.8" r="2.35"/><circle cx="492.2" cy="46.1" r="2.35"/><circle cx="470.4" cy="49.8" r="2.35"/><circle cx="472.9" cy="48.5" r="2.35"/><circle cx="475.4" cy="47.3" r="2.35"/><circle cx="477.8" cy="46.1" r="2.35"/><circle cx="480.3" cy="47.3" r="2.35"/><circle cx="482.8" cy="46.1" r="2.35"/><circle cx="485.3" cy="49.3" r="2.35"/><circle cx="474.1" cy="51.0" r="2.35"/><circle cx="476.6" cy="51.0" r="2.35"/><circle cx="479.1" cy="51.0" r="2.35"/><circle cx="481.6" cy="50.3" r="2.35"/><circle cx="472.9" cy="53.5" r="2.35"/><circle cx="475.4" cy="54.2" r="2.35"/><circle cx="477.8" cy="54.7" r="2.35"/><circle cx="480.3" cy="53.5" r="2.35"/><circle cx="477.1" cy="56.7" r="2.35"/><circle cx="471.6" cy="51.8" r="2.35"/><circle cx="493.5" cy="54.7" r="2.35"/><circle cx="489.8" cy="57.2" r="2.35"/><circle cx="494.0" cy="59.2" r="2.35"/><circle cx="498.2" cy="59.2" r="2.35"/><circle cx="492.2" cy="61.7" r="2.35"/><circle cx="485.8" cy="63.4" r="2.35"/><circle cx="487.8" cy="65.9" r="2.35"/><circle cx="484.8" cy="64.7" r="2.35"/><circle cx="470.4" cy="65.7" r="2.35"/><circle cx="476.6" cy="94.5" r="2.35"/><circle cx="478.3" cy="96.4" r="2.35"/><circle cx="471.6" cy="95.7" r="2.35"/><circle cx="469.9" cy="98.2" r="2.35"/><circle cx="456.0" cy="100.7" r="2.35"/><circle cx="458.7" cy="101.9" r="2.35"/><circle cx="461.7" cy="102.6" r="2.35"/><circle cx="467.9" cy="100.7" r="2.35"/><circle cx="472.9" cy="99.9" r="2.35"/><circle cx="476.6" cy="100.7" r="2.35"/><circle cx="480.8" cy="101.4" r="2.35"/><circle cx="460.5" cy="105.6" r="2.35"/><circle cx="466.7" cy="104.4" r="2.35"/><circle cx="470.4" cy="105.6" r="2.35"/><circle cx="474.9" cy="104.4" r="2.35"/><circle cx="471.6" cy="108.1" r="2.35"/><circle cx="474.1" cy="107.4" r="2.35"/><circle cx="467.2" cy="109.8" r="2.35"/><circle cx="476.6" cy="111.1" r="2.35"/><circle cx="458.7" cy="112.3" r="2.35"/><circle cx="457.5" cy="113.8" r="2.35"/><circle cx="467.9" cy="113.1" r="2.35"/><circle cx="467.2" cy="115.5" r="2.35"/><circle cx="469.9" cy="120.0" r="2.35"/><circle cx="649.8" cy="117.3" r="2.35"/><circle cx="626.7" cy="121.8" r="2.35"/><circle cx="618.0" cy="122.2" r="2.35"/><circle cx="41.8" cy="135.6" r="2.35"/><circle cx="52.2" cy="148.1" r="2.35"/><circle cx="39.1" cy="150.5" r="2.35"/><circle cx="19.2" cy="151.0" r="2.35"/><circle cx="23.7" cy="158.0" r="2.35"/><circle cx="163.9" cy="188.5" r="2.35"/><circle cx="147.0" cy="194.7" r="2.35"/><circle cx="140.8" cy="201.4" r="2.35"/><circle cx="53.5" cy="221.3" r="2.35"/><circle cx="324.0" cy="143.6" r="2.35"/><circle cx="328.4" cy="152.3" r="2.35"/><circle cx="191.7" cy="169.2" r="2.35"/><circle cx="243.8" cy="219.3" r="2.35"/><circle cx="314.8" cy="210.6" r="2.35"/><circle cx="386.8" cy="200.9" r="2.35"/><circle cx="389.0" cy="200.9" r="2.35"/><circle cx="434.4" cy="186.5" r="2.35"/><circle cx="436.2" cy="197.2" r="2.35"/><circle cx="482.8" cy="141.9" r="2.35"/><circle cx="485.3" cy="143.1" r="2.35"/><circle cx="489.8" cy="143.8" r="2.35"/><circle cx="492.7" cy="144.8" r="2.35"/><circle cx="495.2" cy="141.9" r="2.35"/><circle cx="498.4" cy="143.1" r="2.35"/><circle cx="504.6" cy="144.8" r="2.35"/><circle cx="506.4" cy="146.8" r="2.35"/><circle cx="498.9" cy="150.5" r="2.35"/><circle cx="497.7" cy="153.8" r="2.35"/><circle cx="500.2" cy="154.8" r="2.35"/><circle cx="494.7" cy="158.0" r="2.35"/><circle cx="498.4" cy="156.7" r="2.35"/><circle cx="503.9" cy="159.2" r="2.35"/><circle cx="503.2" cy="164.2" r="2.35"/><circle cx="463.5" cy="163.4" r="2.35"/><circle cx="466.2" cy="166.7" r="2.35"/><circle cx="468.7" cy="168.7" r="2.35"/><circle cx="481.1" cy="164.2" r="2.35"/><circle cx="480.3" cy="166.7" r="2.35"/><circle cx="493.5" cy="169.6" r="2.35"/><circle cx="513.8" cy="171.6" r="2.35"/><circle cx="463.0" cy="175.4" r="2.35"/><circle cx="476.1" cy="177.8" r="2.35"/><circle cx="476.6" cy="180.3" r="2.35"/><circle cx="459.2" cy="181.6" r="2.35"/><circle cx="463.0" cy="184.8" r="2.35"/><circle cx="469.2" cy="184.8" r="2.35"/><circle cx="498.2" cy="182.3" r="2.35"/><circle cx="501.4" cy="182.8" r="2.35"/><circle cx="503.9" cy="184.5" r="2.35"/><circle cx="505.6" cy="185.8" r="2.35"/><circle cx="489.0" cy="184.8" r="2.35"/><circle cx="485.3" cy="187.0" r="2.35"/><circle cx="525.0" cy="183.3" r="2.35"/><circle cx="523.0" cy="186.5" r="2.35"/><circle cx="515.1" cy="189.8" r="2.35"/><circle cx="511.8" cy="191.0" r="2.35"/><circle cx="501.4" cy="193.2" r="2.35"/><circle cx="480.8" cy="194.0" r="2.35"/><circle cx="482.1" cy="196.5" r="2.35"/><circle cx="482.8" cy="198.4" r="2.35"/><circle cx="463.0" cy="197.7" r="2.35"/><circle cx="494.0" cy="195.2" r="2.35"/><circle cx="492.7" cy="197.7" r="2.35"/><circle cx="517.6" cy="200.2" r="2.35"/><circle cx="521.3" cy="200.9" r="2.35"/><circle cx="522.5" cy="202.7" r="2.35"/><circle cx="507.1" cy="203.2" r="2.35"/><circle cx="502.7" cy="204.4" r="2.35"/><circle cx="511.8" cy="205.6" r="2.35"/><circle cx="515.8" cy="207.6" r="2.35"/><circle cx="516.3" cy="210.6" r="2.35"/><circle cx="492.2" cy="206.4" r="2.35"/><circle cx="494.0" cy="210.1" r="2.35"/><circle cx="482.1" cy="207.6" r="2.35"/><circle cx="457.5" cy="211.8" r="2.35"/><circle cx="469.7" cy="211.3" r="2.35"/><circle cx="472.4" cy="213.1" r="2.35"/><circle cx="473.4" cy="215.8" r="2.35"/><circle cx="488.3" cy="220.0" r="2.35"/><circle cx="501.4" cy="222.5" r="2.35"/><circle cx="518.8" cy="221.3" r="2.35"/><circle cx="469.9" cy="122.0" r="2.35"/><circle cx="617.2" cy="124.5" r="2.35"/><circle cx="628.4" cy="124.0" r="2.35"/><circle cx="629.9" cy="125.7" r="2.35"/><circle cx="634.9" cy="127.0" r="2.35"/><circle cx="611.0" cy="128.2" r="2.35"/><circle cx="627.9" cy="128.9" r="2.35"/><circle cx="621.7" cy="131.4" r="2.35"/><circle cx="642.8" cy="131.9" r="2.35"/><circle cx="639.1" cy="133.9" r="2.35"/><circle cx="636.6" cy="136.4" r="2.35"/><circle cx="660.7" cy="136.9" r="2.35"/><circle cx="610.5" cy="139.9" r="2.35"/><circle cx="613.8" cy="138.9" r="2.35"/><circle cx="616.8" cy="140.6" r="2.35"/><circle cx="619.2" cy="139.9" r="2.35"/><circle cx="622.5" cy="138.1" r="2.35"/><circle cx="620.5" cy="143.1" r="2.35"/><circle cx="618.0" cy="144.3" r="2.35"/><circle cx="611.8" cy="143.8" r="2.35"/><circle cx="615.5" cy="146.8" r="2.35"/><circle cx="610.5" cy="147.6" r="2.35"/><circle cx="631.1" cy="141.1" r="2.35"/><circle cx="637.8" cy="141.4" r="2.35"/><circle cx="630.4" cy="145.6" r="2.35"/><circle cx="635.4" cy="146.3" r="2.35"/><circle cx="650.8" cy="141.1" r="2.35"/><circle cx="645.3" cy="145.6" r="2.35"/><circle cx="651.0" cy="145.6" r="2.35"/><circle cx="646.5" cy="146.8" r="2.35"/><circle cx="665.9" cy="147.6" r="2.35"/><circle cx="601.4" cy="146.8" r="2.35"/><circle cx="609.3" cy="151.3" r="2.35"/><circle cx="605.6" cy="153.8" r="2.35"/><circle cx="621.2" cy="151.8" r="2.35"/><circle cx="625.4" cy="155.5" r="2.35"/><circle cx="630.4" cy="153.8" r="2.35"/><circle cx="632.9" cy="152.3" r="2.35"/><circle cx="639.1" cy="151.8" r="2.35"/><circle cx="636.6" cy="154.3" r="2.35"/><circle cx="631.1" cy="156.7" r="2.35"/><circle cx="643.3" cy="154.3" r="2.35"/><circle cx="649.0" cy="151.8" r="2.35"/><circle cx="652.7" cy="150.5" r="2.35"/><circle cx="660.2" cy="152.3" r="2.35"/><circle cx="685.0" cy="147.6" r="2.35"/><circle cx="681.3" cy="150.0" r="2.35"/><circle cx="678.3" cy="151.3" r="2.35"/><circle cx="674.6" cy="155.5" r="2.35"/><circle cx="646.5" cy="156.7" r="2.35"/><circle cx="649.0" cy="156.2" r="2.35"/><circle cx="651.5" cy="155.5" r="2.35"/><circle cx="654.0" cy="156.7" r="2.35"/><circle cx="656.5" cy="157.2" r="2.35"/><circle cx="645.3" cy="159.2" r="2.35"/><circle cx="647.8" cy="159.7" r="2.35"/><circle cx="650.3" cy="159.2" r="2.35"/><circle cx="652.7" cy="159.7" r="2.35"/><circle cx="655.2" cy="159.2" r="2.35"/><circle cx="657.7" cy="160.5" r="2.35"/><circle cx="642.8" cy="160.5" r="2.35"/><circle cx="640.3" cy="161.2" r="2.35"/><circle cx="649.0" cy="161.7" r="2.35"/><circle cx="651.5" cy="162.2" r="2.35"/><circle cx="654.0" cy="161.7" r="2.35"/><circle cx="656.5" cy="162.9" r="2.35"/><circle cx="645.3" cy="164.2" r="2.35"/><circle cx="650.3" cy="164.2" r="2.35"/><circle cx="654.0" cy="165.4" r="2.35"/><circle cx="657.7" cy="165.4" r="2.35"/><circle cx="644.1" cy="166.7" r="2.35"/><circle cx="654.0" cy="169.2" r="2.35"/><circle cx="658.9" cy="171.6" r="2.35"/><circle cx="663.9" cy="156.7" r="2.35"/><circle cx="666.4" cy="159.2" r="2.35"/><circle cx="662.7" cy="162.9" r="2.35"/><circle cx="667.6" cy="162.9" r="2.35"/><circle cx="668.9" cy="166.2" r="2.35"/><circle cx="674.6" cy="167.9" r="2.35"/><circle cx="665.1" cy="167.9" r="2.35"/><circle cx="667.1" cy="171.6" r="2.35"/><circle cx="613.8" cy="159.2" r="2.35"/><circle cx="610.1" cy="162.2" r="2.35"/><circle cx="622.5" cy="160.5" r="2.35"/><circle cx="625.4" cy="172.4" r="2.35"/><circle cx="627.9" cy="175.4" r="2.35"/><circle cx="611.3" cy="176.1" r="2.35"/><circle cx="580.8" cy="174.9" r="2.35"/><circle cx="647.8" cy="174.1" r="2.35"/><circle cx="649.8" cy="174.6" r="2.35"/><circle cx="654.7" cy="175.4" r="2.35"/><circle cx="662.2" cy="175.4" r="2.35"/><circle cx="663.4" cy="177.8" r="2.35"/><circle cx="649.8" cy="179.6" r="2.35"/><circle cx="664.6" cy="181.6" r="2.35"/><circle cx="671.4" cy="180.3" r="2.35"/><circle cx="650.3" cy="182.8" r="2.35"/><circle cx="657.2" cy="182.8" r="2.35"/><circle cx="672.6" cy="184.0" r="2.35"/><circle cx="674.6" cy="185.3" r="2.35"/><circle cx="662.7" cy="186.0" r="2.35"/><circle cx="644.5" cy="185.3" r="2.35"/><circle cx="646.5" cy="187.8" r="2.35"/><circle cx="651.0" cy="190.2" r="2.35"/><circle cx="665.9" cy="191.0" r="2.35"/><circle cx="656.5" cy="196.0" r="2.35"/><circle cx="659.4" cy="202.2" r="2.35"/><circle cx="626.2" cy="195.2" r="2.35"/><circle cx="529.1" cy="179.1" r="2.35"/><circle cx="526.2" cy="183.5" r="2.35"/><circle cx="528.6" cy="186.5" r="2.35"/><circle cx="524.9" cy="186.5" r="2.35"/><circle cx="561.7" cy="177.8" r="2.35"/><circle cx="552.7" cy="180.3" r="2.35"/><circle cx="551.0" cy="181.6" r="2.35"/><circle cx="556.4" cy="185.3" r="2.35"/><circle cx="558.4" cy="187.8" r="2.35"/><circle cx="549.2" cy="190.2" r="2.35"/><circle cx="531.9" cy="199.7" r="2.35"/><circle cx="531.1" cy="200.9" r="2.35"/><circle cx="536.6" cy="207.6" r="2.35"/><circle cx="539.1" cy="209.4" r="2.35"/><circle cx="541.8" cy="210.1" r="2.35"/><circle cx="536.8" cy="211.3" r="2.35"/><circle cx="580.8" cy="206.9" r="2.35"/><circle cx="580.0" cy="209.4" r="2.35"/><circle cx="608.1" cy="209.4" r="2.35"/><circle cx="624.2" cy="210.6" r="2.35"/><circle cx="623.0" cy="213.1" r="2.35"/><circle cx="568.4" cy="217.1" r="2.35"/><circle cx="572.1" cy="216.3" r="2.35"/><circle cx="574.6" cy="215.8" r="2.35"/><circle cx="580.3" cy="219.3" r="2.35"/><circle cx="583.2" cy="217.5" r="2.35"/><circle cx="585.7" cy="220.0" r="2.35"/><circle cx="587.7" cy="222.0" r="2.35"/><circle cx="613.0" cy="219.3" r="2.35"/><circle cx="618.7" cy="217.5" r="2.35"/><circle cx="639.1" cy="216.3" r="2.35"/><circle cx="638.3" cy="218.8" r="2.35"/><circle cx="637.4" cy="221.3" r="2.35"/><circle cx="341.4" cy="239.4" r="2.35"/><circle cx="339.4" cy="245.6" r="2.35"/><circle cx="298.7" cy="261.2" r="2.35"/><circle cx="268.1" cy="285.1" r="2.35"/><circle cx="460.0" cy="227.0" r="2.35"/><circle cx="506.4" cy="227.7" r="2.35"/><circle cx="511.4" cy="229.0" r="2.35"/><circle cx="522.5" cy="226.5" r="2.35"/><circle cx="481.6" cy="233.9" r="2.35"/><circle cx="439.4" cy="238.1" r="2.35"/><circle cx="433.2" cy="239.6" r="2.35"/><circle cx="454.3" cy="238.4" r="2.35"/><circle cx="457.5" cy="239.4" r="2.35"/><circle cx="460.5" cy="240.6" r="2.35"/><circle cx="485.8" cy="240.9" r="2.35"/><circle cx="489.0" cy="241.9" r="2.35"/><circle cx="491.5" cy="243.4" r="2.35"/><circle cx="478.3" cy="244.4" r="2.35"/><circle cx="418.3" cy="245.8" r="2.35"/><circle cx="420.0" cy="248.8" r="2.35"/><circle cx="427.0" cy="248.1" r="2.35"/><circle cx="432.7" cy="245.8" r="2.35"/><circle cx="416.5" cy="251.8" r="2.35"/><circle cx="419.0" cy="252.5" r="2.35"/><circle cx="422.0" cy="253.8" r="2.35"/><circle cx="415.8" cy="256.3" r="2.35"/><circle cx="418.3" cy="257.5" r="2.35"/><circle cx="421.5" cy="258.2" r="2.35"/><circle cx="435.7" cy="254.5" r="2.35"/><circle cx="432.7" cy="256.3" r="2.35"/><circle cx="431.2" cy="259.2" r="2.35"/><circle cx="367.4" cy="273.6" r="2.35"/><circle cx="371.1" cy="284.8" r="2.35"/><circle cx="381.6" cy="278.1" r="2.35"/><circle cx="386.0" cy="279.1" r="2.35"/><circle cx="389.0" cy="280.6" r="2.35"/><circle cx="393.5" cy="282.6" r="2.35"/><circle cx="413.3" cy="270.2" r="2.35"/><circle cx="365.4" cy="307.9" r="2.35"/><circle cx="443.1" cy="269.4" r="2.35"/><circle cx="445.6" cy="268.2" r="2.35"/><circle cx="448.1" cy="269.2" r="2.35"/><circle cx="448.1" cy="272.4" r="2.35"/><circle cx="448.8" cy="273.6" r="2.35"/><circle cx="463.0" cy="270.4" r="2.35"/><circle cx="474.1" cy="269.2" r="2.35"/><circle cx="477.8" cy="268.7" r="2.35"/><circle cx="484.1" cy="276.1" r="2.35"/><circle cx="502.2" cy="265.7" r="2.35"/><circle cx="511.8" cy="269.2" r="2.35"/><circle cx="517.6" cy="268.7" r="2.35"/><circle cx="518.8" cy="271.2" r="2.35"/><circle cx="520.8" cy="261.7" r="2.35"/><circle cx="498.4" cy="275.6" r="2.35"/><circle cx="465.9" cy="275.6" r="2.35"/><circle cx="467.9" cy="277.4" r="2.35"/><circle cx="470.4" cy="276.9" r="2.35"/><circle cx="473.6" cy="276.6" r="2.35"/><circle cx="464.2" cy="279.8" r="2.35"/><circle cx="473.6" cy="283.6" r="2.35"/><circle cx="494.0" cy="281.6" r="2.35"/><circle cx="493.2" cy="283.6" r="2.35"/><circle cx="428.2" cy="283.6" r="2.35"/><circle cx="430.7" cy="283.1" r="2.35"/><circle cx="433.2" cy="283.6" r="2.35"/><circle cx="430.2" cy="287.3" r="2.35"/><circle cx="429.0" cy="288.0" r="2.35"/><circle cx="459.2" cy="288.5" r="2.35"/><circle cx="463.0" cy="290.5" r="2.35"/><circle cx="464.2" cy="291.5" r="2.35"/><circle cx="464.9" cy="298.5" r="2.35"/><circle cx="482.8" cy="293.5" r="2.35"/><circle cx="480.3" cy="295.2" r="2.35"/><circle cx="503.4" cy="296.0" r="2.35"/><circle cx="503.9" cy="298.0" r="2.35"/><circle cx="424.0" cy="299.2" r="2.35"/><circle cx="426.5" cy="299.7" r="2.35"/><circle cx="438.1" cy="298.0" r="2.35"/><circle cx="439.9" cy="299.2" r="2.35"/><circle cx="441.9" cy="303.9" r="2.35"/><circle cx="440.6" cy="307.1" r="2.35"/><circle cx="430.7" cy="306.6" r="2.35"/><circle cx="436.9" cy="310.9" r="2.35"/><circle cx="434.4" cy="312.1" r="2.35"/><circle cx="429.5" cy="313.8" r="2.35"/><circle cx="437.6" cy="317.8" r="2.35"/><circle cx="516.3" cy="299.7" r="2.35"/><circle cx="513.8" cy="300.9" r="2.35"/><circle cx="518.8" cy="302.9" r="2.35"/><circle cx="522.5" cy="301.4" r="2.35"/><circle cx="508.9" cy="307.1" r="2.35"/><circle cx="525.0" cy="298.5" r="2.35"/><circle cx="481.6" cy="304.2" r="2.35"/><circle cx="480.8" cy="305.9" r="2.35"/><circle cx="493.5" cy="303.4" r="2.35"/><circle cx="491.0" cy="308.4" r="2.35"/><circle cx="498.9" cy="309.6" r="2.35"/><circle cx="490.3" cy="312.1" r="2.35"/><circle cx="459.2" cy="309.1" r="2.35"/><circle cx="458.0" cy="312.1" r="2.35"/><circle cx="465.4" cy="306.6" r="2.35"/><circle cx="467.9" cy="308.4" r="2.35"/><circle cx="470.4" cy="310.1" r="2.35"/><circle cx="475.4" cy="311.4" r="2.35"/><circle cx="479.8" cy="310.4" r="2.35"/><circle cx="513.1" cy="311.4" r="2.35"/><circle cx="520.0" cy="312.1" r="2.35"/><circle cx="506.4" cy="313.3" r="2.35"/><circle cx="510.9" cy="315.8" r="2.35"/><circle cx="525.0" cy="312.1" r="2.35"/><circle cx="407.9" cy="312.1" r="2.35"/><circle cx="408.9" cy="315.8" r="2.35"/><circle cx="402.2" cy="316.3" r="2.35"/><circle cx="400.4" cy="320.8" r="2.35"/><circle cx="403.4" cy="321.5" r="2.35"/><circle cx="482.8" cy="314.6" r="2.35"/><circle cx="485.3" cy="315.8" r="2.35"/><circle cx="481.6" cy="318.3" r="2.35"/><circle cx="476.6" cy="317.1" r="2.35"/><circle cx="473.6" cy="318.3" r="2.35"/><circle cx="471.6" cy="319.5" r="2.35"/><circle cx="497.0" cy="315.8" r="2.35"/><circle cx="497.7" cy="318.3" r="2.35"/><circle cx="503.9" cy="319.5" r="2.35"/><circle cx="505.1" cy="320.8" r="2.35"/><circle cx="373.6" cy="325.8" r="2.35"/><circle cx="436.9" cy="323.3" r="2.35"/><circle cx="440.6" cy="324.5" r="2.35"/><circle cx="451.8" cy="325.8" r="2.35"/><circle cx="456.8" cy="323.3" r="2.35"/><circle cx="459.2" cy="324.5" r="2.35"/><circle cx="464.9" cy="325.8" r="2.35"/><circle cx="472.9" cy="324.5" r="2.35"/><circle cx="479.1" cy="323.3" r="2.35"/><circle cx="484.1" cy="322.0" r="2.35"/><circle cx="485.3" cy="324.5" r="2.35"/><circle cx="492.7" cy="323.3" r="2.35"/><circle cx="498.9" cy="324.5" r="2.35"/><circle cx="506.4" cy="325.8" r="2.35"/><circle cx="516.3" cy="322.0" r="2.35"/><circle cx="518.8" cy="320.8" r="2.35"/><circle cx="522.5" cy="323.3" r="2.35"/><circle cx="529.4" cy="229.0" r="2.35"/><circle cx="539.1" cy="232.7" r="2.35"/><circle cx="593.7" cy="235.2" r="2.35"/><circle cx="598.9" cy="242.6" r="2.35"/><circle cx="621.0" cy="227.7" r="2.35"/><circle cx="629.2" cy="227.7" r="2.35"/><circle cx="619.2" cy="232.7" r="2.35"/><circle cx="627.2" cy="232.7" r="2.35"/><circle cx="619.2" cy="237.6" r="2.35"/><circle cx="629.7" cy="237.6" r="2.35"/><circle cx="629.9" cy="241.4" r="2.35"/><circle cx="580.8" cy="249.3" r="2.35"/><circle cx="583.2" cy="250.6" r="2.35"/><circle cx="591.9" cy="254.3" r="2.35"/><circle cx="596.9" cy="252.5" r="2.35"/><circle cx="578.3" cy="260.0" r="2.35"/><circle cx="609.3" cy="255.8" r="2.35"/><circle cx="533.6" cy="301.4" r="2.35"/><circle cx="533.6" cy="307.1" r="2.35"/><circle cx="544.0" cy="308.4" r="2.35"/><circle cx="527.9" cy="311.6" r="2.35"/><circle cx="532.9" cy="312.8" r="2.35"/><circle cx="526.2" cy="323.3" r="2.35"/><circle cx="591.2" cy="295.2" r="2.35"/><circle cx="585.7" cy="298.5" r="2.35"/><circle cx="589.5" cy="298.9" r="2.35"/><circle cx="603.1" cy="297.7" r="2.35"/><circle cx="597.6" cy="302.7" r="2.35"/><circle cx="624.9" cy="288.5" r="2.35"/><circle cx="626.7" cy="290.5" r="2.35"/><circle cx="627.9" cy="294.0" r="2.35"/><circle cx="646.0" cy="279.8" r="2.35"/><circle cx="647.3" cy="283.1" r="2.35"/><circle cx="662.2" cy="277.4" r="2.35"/><circle cx="674.6" cy="274.9" r="2.35"/><circle cx="667.6" cy="283.6" r="2.35"/><circle cx="677.1" cy="287.3" r="2.35"/><circle cx="673.3" cy="290.5" r="2.35"/><circle cx="671.4" cy="294.2" r="2.35"/><circle cx="645.3" cy="289.8" r="2.35"/><circle cx="647.8" cy="288.5" r="2.35"/><circle cx="650.3" cy="288.0" r="2.35"/><circle cx="652.7" cy="287.3" r="2.35"/><circle cx="655.2" cy="289.0" r="2.35"/><circle cx="657.7" cy="290.5" r="2.35"/><circle cx="644.1" cy="293.0" r="2.35"/><circle cx="646.5" cy="292.2" r="2.35"/><circle cx="649.0" cy="291.5" r="2.35"/><circle cx="651.5" cy="291.0" r="2.35"/><circle cx="654.0" cy="292.2" r="2.35"/><circle cx="656.5" cy="293.5" r="2.35"/><circle cx="645.3" cy="296.0" r="2.35"/><circle cx="647.8" cy="295.5" r="2.35"/><circle cx="650.3" cy="294.7" r="2.35"/><circle cx="652.7" cy="295.5" r="2.35"/><circle cx="655.2" cy="296.0" r="2.35"/><circle cx="657.7" cy="294.7" r="2.35"/><circle cx="649.0" cy="298.0" r="2.35"/><circle cx="651.5" cy="298.5" r="2.35"/><circle cx="654.0" cy="298.0" r="2.35"/><circle cx="638.3" cy="299.2" r="2.35"/><circle cx="641.1" cy="300.9" r="2.35"/><circle cx="639.6" cy="305.4" r="2.35"/><circle cx="660.9" cy="299.7" r="2.35"/><circle cx="665.1" cy="302.2" r="2.35"/><circle cx="657.7" cy="304.7" r="2.35"/><circle cx="651.5" cy="306.6" r="2.35"/><circle cx="649.8" cy="310.9" r="2.35"/><circle cx="623.5" cy="325.8" r="2.35"/><circle cx="635.9" cy="324.5" r="2.35"/><circle cx="343.1" cy="372.4" r="2.35"/><circle cx="320.3" cy="377.4" r="2.35"/><circle cx="326.5" cy="377.6" r="2.35"/><circle cx="316.5" cy="379.4" r="2.35"/><circle cx="327.0" cy="381.1" r="2.35"/><circle cx="327.7" cy="383.1" r="2.35"/><circle cx="317.8" cy="385.6" r="2.35"/><circle cx="320.3" cy="388.5" r="2.35"/><circle cx="324.0" cy="390.0" r="2.35"/><circle cx="327.0" cy="389.3" r="2.35"/><circle cx="324.7" cy="391.8" r="2.35"/><circle cx="320.3" cy="394.2" r="2.35"/><circle cx="321.0" cy="397.5" r="2.35"/><circle cx="322.2" cy="399.7" r="2.35"/><circle cx="330.7" cy="403.7" r="2.35"/><circle cx="334.6" cy="405.9" r="2.35"/><circle cx="337.6" cy="405.4" r="2.35"/><circle cx="344.6" cy="403.4" r="2.35"/><circle cx="347.6" cy="401.7" r="2.35"/><circle cx="348.8" cy="409.9" r="2.35"/><circle cx="349.5" cy="387.5" r="2.35"/><circle cx="347.6" cy="391.8" r="2.35"/><circle cx="344.6" cy="392.5" r="2.35"/><circle cx="351.8" cy="393.5" r="2.35"/><circle cx="353.8" cy="396.0" r="2.35"/><circle cx="355.0" cy="378.6" r="2.35"/><circle cx="350.8" cy="422.3" r="2.35"/><circle cx="353.3" cy="421.5" r="2.35"/><circle cx="373.6" cy="327.2" r="2.35"/><circle cx="371.1" cy="334.7" r="2.35"/><circle cx="379.1" cy="334.7" r="2.35"/><circle cx="413.8" cy="338.4" r="2.35"/><circle cx="389.0" cy="341.6" r="2.35"/><circle cx="389.7" cy="345.9" r="2.35"/><circle cx="367.4" cy="345.9" r="2.35"/><circle cx="371.9" cy="346.6" r="2.35"/><circle cx="390.5" cy="349.6" r="2.35"/><circle cx="393.5" cy="350.8" r="2.35"/><circle cx="395.9" cy="351.6" r="2.35"/><circle cx="397.2" cy="355.8" r="2.35"/><circle cx="386.0" cy="363.2" r="2.35"/><circle cx="431.4" cy="329.7" r="2.35"/><circle cx="433.9" cy="330.2" r="2.35"/><circle cx="438.1" cy="331.5" r="2.35"/><circle cx="440.6" cy="329.7" r="2.35"/><circle cx="443.1" cy="328.5" r="2.35"/><circle cx="444.3" cy="326.7" r="2.35"/><circle cx="451.8" cy="326.7" r="2.35"/><circle cx="460.5" cy="327.2" r="2.35"/><circle cx="464.2" cy="326.7" r="2.35"/><circle cx="482.8" cy="329.0" r="2.35"/><circle cx="458.7" cy="337.9" r="2.35"/><circle cx="510.1" cy="328.5" r="2.35"/><circle cx="511.4" cy="333.4" r="2.35"/><circle cx="511.4" cy="336.7" r="2.35"/><circle cx="508.9" cy="342.9" r="2.35"/><circle cx="506.9" cy="345.4" r="2.35"/><circle cx="503.9" cy="347.1" r="2.35"/><circle cx="501.4" cy="352.6" r="2.35"/><circle cx="513.1" cy="352.8" r="2.35"/><circle cx="510.1" cy="355.8" r="2.35"/><circle cx="505.9" cy="360.0" r="2.35"/><circle cx="472.9" cy="342.9" r="2.35"/><circle cx="475.9" cy="341.6" r="2.35"/><circle cx="478.6" cy="341.4" r="2.35"/><circle cx="475.9" cy="348.3" r="2.35"/><circle cx="359.2" cy="356.3" r="2.35"/><circle cx="362.4" cy="355.3" r="2.35"/><circle cx="366.2" cy="357.8" r="2.35"/><circle cx="367.4" cy="360.2" r="2.35"/><circle cx="413.3" cy="350.8" r="2.35"/><circle cx="416.3" cy="350.1" r="2.35"/><circle cx="405.9" cy="353.3" r="2.35"/><circle cx="405.4" cy="355.8" r="2.35"/><circle cx="412.1" cy="359.5" r="2.35"/><circle cx="402.2" cy="358.3" r="2.35"/><circle cx="404.1" cy="360.2" r="2.35"/><circle cx="403.4" cy="363.7" r="2.35"/><circle cx="410.8" cy="365.2" r="2.35"/><circle cx="399.2" cy="368.7" r="2.35"/><circle cx="410.1" cy="369.4" r="2.35"/><circle cx="409.1" cy="371.9" r="2.35"/><circle cx="429.5" cy="352.8" r="2.35"/><circle cx="424.5" cy="360.7" r="2.35"/><circle cx="428.7" cy="359.5" r="2.35"/><circle cx="432.7" cy="360.2" r="2.35"/><circle cx="441.4" cy="356.3" r="2.35"/><circle cx="441.9" cy="357.8" r="2.35"/><circle cx="439.4" cy="365.7" r="2.35"/><circle cx="443.8" cy="365.7" r="2.35"/><circle cx="448.8" cy="362.7" r="2.35"/><circle cx="450.5" cy="364.0" r="2.35"/><circle cx="452.3" cy="368.9" r="2.35"/><circle cx="428.7" cy="367.7" r="2.35"/><circle cx="430.2" cy="373.2" r="2.35"/><circle cx="430.2" cy="376.9" r="2.35"/><circle cx="450.1" cy="380.1" r="2.35"/><circle cx="440.6" cy="383.1" r="2.35"/><circle cx="443.1" cy="384.3" r="2.35"/><circle cx="356.2" cy="378.1" r="2.35"/><circle cx="366.2" cy="375.6" r="2.35"/><circle cx="388.5" cy="374.4" r="2.35"/><circle cx="387.3" cy="378.6" r="2.35"/><circle cx="415.8" cy="379.4" r="2.35"/><circle cx="408.4" cy="379.4" r="2.35"/><circle cx="407.1" cy="382.6" r="2.35"/><circle cx="403.4" cy="383.1" r="2.35"/><circle cx="402.2" cy="385.1" r="2.35"/><circle cx="405.9" cy="385.1" r="2.35"/><circle cx="410.8" cy="387.5" r="2.35"/><circle cx="368.6" cy="381.8" r="2.35"/><circle cx="371.9" cy="382.6" r="2.35"/><circle cx="367.4" cy="385.6" r="2.35"/><circle cx="358.0" cy="386.8" r="2.35"/><circle cx="359.2" cy="390.5" r="2.35"/><circle cx="379.8" cy="391.3" r="2.35"/><circle cx="373.6" cy="395.5" r="2.35"/><circle cx="377.8" cy="396.2" r="2.35"/><circle cx="368.6" cy="397.2" r="2.35"/><circle cx="364.4" cy="398.7" r="2.35"/><circle cx="357.5" cy="399.2" r="2.35"/><circle cx="381.1" cy="395.5" r="2.35"/><circle cx="384.8" cy="396.7" r="2.35"/><circle cx="387.3" cy="398.0" r="2.35"/><circle cx="383.5" cy="400.5" r="2.35"/><circle cx="371.1" cy="400.5" r="2.35"/><circle cx="373.6" cy="400.0" r="2.35"/><circle cx="376.1" cy="400.5" r="2.35"/><circle cx="378.6" cy="399.2" r="2.35"/><circle cx="369.9" cy="403.4" r="2.35"/><circle cx="372.4" cy="402.9" r="2.35"/><circle cx="374.9" cy="402.4" r="2.35"/><circle cx="377.3" cy="401.7" r="2.35"/><circle cx="379.8" cy="402.4" r="2.35"/><circle cx="382.3" cy="403.4" r="2.35"/><circle cx="371.1" cy="405.9" r="2.35"/><circle cx="373.6" cy="405.4" r="2.35"/><circle cx="376.1" cy="404.9" r="2.35"/><circle cx="378.6" cy="405.9" r="2.35"/><circle cx="381.1" cy="406.7" r="2.35"/><circle cx="368.6" cy="406.7" r="2.35"/><circle cx="372.4" cy="408.4" r="2.35"/><circle cx="374.9" cy="409.1" r="2.35"/><circle cx="377.3" cy="407.9" r="2.35"/><circle cx="384.8" cy="404.9" r="2.35"/><circle cx="389.7" cy="404.2" r="2.35"/><circle cx="361.2" cy="402.9" r="2.35"/><circle cx="366.2" cy="404.2" r="2.35"/><circle cx="362.4" cy="407.9" r="2.35"/><circle cx="382.8" cy="408.4" r="2.35"/><circle cx="372.9" cy="411.6" r="2.35"/><circle cx="378.1" cy="414.8" r="2.35"/><circle cx="393.5" cy="409.1" r="2.35"/><circle cx="394.2" cy="412.4" r="2.35"/><circle cx="367.4" cy="415.3" r="2.35"/><circle cx="366.2" cy="419.1" r="2.35"/><circle cx="366.7" cy="422.3" r="2.35"/><circle cx="356.2" cy="421.5" r="2.35"/><circle cx="392.2" cy="419.8" r="2.35"/><circle cx="395.9" cy="421.1" r="2.35"/><circle cx="399.7" cy="420.3" r="2.35"/><circle cx="525.0" cy="375.6" r="2.35"/><circle cx="526.2" cy="329.7" r="2.35"/><circle cx="527.9" cy="333.4" r="2.35"/><circle cx="540.3" cy="338.9" r="2.35"/><circle cx="538.6" cy="341.6" r="2.35"/><circle cx="555.2" cy="346.4" r="2.35"/><circle cx="552.2" cy="347.8" r="2.35"/><circle cx="558.4" cy="357.8" r="2.35"/><circle cx="538.6" cy="365.7" r="2.35"/><circle cx="544.8" cy="367.7" r="2.35"/><circle cx="547.3" cy="369.4" r="2.35"/><circle cx="526.9" cy="376.4" r="2.35"/><circle cx="586.5" cy="343.4" r="2.35"/><circle cx="585.2" cy="345.9" r="2.35"/><circle cx="584.0" cy="349.6" r="2.35"/><circle cx="587.0" cy="352.1" r="2.35"/><circle cx="572.1" cy="352.8" r="2.35"/><circle cx="575.8" cy="354.5" r="2.35"/><circle cx="579.0" cy="356.3" r="2.35"/><circle cx="583.2" cy="359.5" r="2.35"/><circle cx="574.1" cy="360.2" r="2.35"/><circle cx="570.8" cy="362.0" r="2.35"/><circle cx="565.9" cy="363.2" r="2.35"/><circle cx="575.1" cy="363.2" r="2.35"/><circle cx="570.1" cy="365.7" r="2.35"/><circle cx="582.5" cy="364.0" r="2.35"/><circle cx="581.5" cy="368.2" r="2.35"/><circle cx="606.8" cy="337.2" r="2.35"/><circle cx="618.0" cy="342.9" r="2.35"/><circle cx="621.7" cy="345.4" r="2.35"/><circle cx="625.9" cy="351.3" r="2.35"/><circle cx="622.2" cy="357.0" r="2.35"/><circle cx="624.9" cy="357.8" r="2.35"/><circle cx="624.2" cy="327.2" r="2.35"/><circle cx="636.6" cy="331.5" r="2.35"/><circle cx="641.6" cy="330.5" r="2.35"/><circle cx="650.3" cy="329.7" r="2.35"/><circle cx="652.0" cy="335.9" r="2.35"/><circle cx="653.5" cy="339.6" r="2.35"/><circle cx="631.1" cy="340.4" r="2.35"/><circle cx="652.7" cy="347.1" r="2.35"/><circle cx="652.0" cy="349.6" r="2.35"/><circle cx="665.6" cy="347.8" r="2.35"/><circle cx="636.1" cy="357.8" r="2.35"/><circle cx="645.3" cy="358.3" r="2.35"/><circle cx="655.2" cy="360.0" r="2.35"/><circle cx="646.5" cy="362.7" r="2.35"/><circle cx="651.0" cy="363.2" r="2.35"/><circle cx="633.6" cy="365.7" r="2.35"/><circle cx="633.4" cy="367.7" r="2.35"/><circle cx="653.5" cy="371.9" r="2.35"/><circle cx="661.4" cy="365.7" r="2.35"/><circle cx="663.9" cy="367.4" r="2.35"/><circle cx="619.2" cy="373.2" r="2.35"/><circle cx="622.2" cy="372.7" r="2.35"/><circle cx="624.9" cy="371.9" r="2.35"/><circle cx="635.4" cy="373.2" r="2.35"/><circle cx="643.3" cy="374.9" r="2.35"/><circle cx="645.8" cy="372.4" r="2.35"/><circle cx="626.7" cy="376.9" r="2.35"/><circle cx="629.2" cy="375.6" r="2.35"/><circle cx="631.6" cy="377.6" r="2.35"/><circle cx="634.1" cy="376.4" r="2.35"/><circle cx="624.9" cy="379.4" r="2.35"/><circle cx="629.9" cy="381.1" r="2.35"/><circle cx="632.4" cy="380.1" r="2.35"/><circle cx="623.5" cy="382.6" r="2.35"/><circle cx="644.1" cy="381.8" r="2.35"/><circle cx="647.3" cy="382.6" r="2.35"/><circle cx="650.3" cy="384.3" r="2.35"/><circle cx="652.7" cy="385.6" r="2.35"/><circle cx="656.5" cy="383.1" r="2.35"/><circle cx="660.9" cy="381.1" r="2.35"/><circle cx="655.7" cy="386.3" r="2.35"/><circle cx="647.3" cy="388.0" r="2.35"/><circle cx="658.2" cy="391.0" r="2.35"/><circle cx="661.4" cy="393.5" r="2.35"/><circle cx="636.6" cy="388.0" r="2.35"/><circle cx="634.1" cy="391.0" r="2.35"/><circle cx="631.6" cy="393.0" r="2.35"/><circle cx="635.9" cy="393.0" r="2.35"/><circle cx="639.1" cy="391.8" r="2.35"/><circle cx="637.1" cy="395.0" r="2.35"/><circle cx="640.3" cy="395.5" r="2.35"/><circle cx="642.3" cy="397.5" r="2.35"/><circle cx="647.8" cy="396.7" r="2.35"/>
</g>
</g>
<g clip-path="url(#cb)">
<g fill="#ff0000">
<circle cx="186.2" cy="586.9" r="2.35"/><circle cx="32.4" cy="684.5" r="2.35"/><circle cx="64.0" cy="688.6" r="2.35"/><circle cx="78.0" cy="693.2" r="2.35"/><circle cx="28.0" cy="713.1" r="2.35"/><circle cx="77.7" cy="710.6" r="2.35"/>
</g>
<g fill="#9800ff">
<circle cx="185.0" cy="507.2" r="2.35"/><circle cx="141.6" cy="515.4" r="2.35"/><circle cx="169.4" cy="527.6" r="2.35"/><circle cx="95.2" cy="541.0" r="2.35"/><circle cx="146.5" cy="544.5" r="2.35"/><circle cx="144.8" cy="548.7" r="2.35"/><circle cx="68.9" cy="561.1" r="2.35"/><circle cx="114.8" cy="559.8" r="2.35"/><circle cx="130.9" cy="563.1" r="2.35"/><circle cx="85.2" cy="565.5" r="2.35"/><circle cx="101.4" cy="569.3" r="2.35"/><circle cx="85.2" cy="571.8" r="2.35"/><circle cx="343.3" cy="495.3" r="2.35"/><circle cx="297.2" cy="514.4" r="2.35"/><circle cx="307.1" cy="538.2" r="2.35"/><circle cx="277.3" cy="544.0" r="2.35"/><circle cx="215.5" cy="545.9" r="2.35"/><circle cx="204.1" cy="549.4" r="2.35"/><circle cx="259.9" cy="565.3" r="2.35"/><circle cx="375.8" cy="495.6" r="2.35"/><circle cx="367.4" cy="499.0" r="2.35"/><circle cx="63.6" cy="575.7" r="2.35"/><circle cx="85.1" cy="573.2" r="2.35"/><circle cx="84.1" cy="578.5" r="2.35"/><circle cx="90.1" cy="578.0" r="2.35"/><circle cx="100.0" cy="575.7" r="2.35"/><circle cx="59.9" cy="582.9" r="2.35"/><circle cx="75.4" cy="585.3" r="2.35"/><circle cx="49.1" cy="591.0" r="2.35"/><circle cx="51.9" cy="592.5" r="2.35"/><circle cx="56.6" cy="594.3" r="2.35"/><circle cx="44.8" cy="597.4" r="2.35"/><circle cx="45.8" cy="601.8" r="2.35"/><circle cx="41.4" cy="604.5" r="2.35"/><circle cx="66.5" cy="594.1" r="2.35"/><circle cx="63.8" cy="597.8" r="2.35"/><circle cx="61.9" cy="601.5" r="2.35"/><circle cx="70.8" cy="596.8" r="2.35"/><circle cx="71.5" cy="598.7" r="2.35"/><circle cx="76.7" cy="593.7" r="2.35"/><circle cx="78.3" cy="592.8" r="2.35"/><circle cx="76.2" cy="597.4" r="2.35"/><circle cx="84.1" cy="596.6" r="2.35"/><circle cx="91.6" cy="593.1" r="2.35"/><circle cx="91.9" cy="603.0" r="2.35"/><circle cx="54.7" cy="602.2" r="2.35"/><circle cx="56.6" cy="603.6" r="2.35"/><circle cx="57.8" cy="604.9" r="2.35"/><circle cx="55.3" cy="605.8" r="2.35"/><circle cx="54.1" cy="607.1" r="2.35"/><circle cx="56.9" cy="608.0" r="2.35"/><circle cx="57.8" cy="609.8" r="2.35"/><circle cx="55.3" cy="611.7" r="2.35"/><circle cx="64.3" cy="606.4" r="2.35"/><circle cx="73.3" cy="608.6" r="2.35"/><circle cx="77.0" cy="605.9" r="2.35"/><circle cx="38.6" cy="608.6" r="2.35"/><circle cx="39.8" cy="609.8" r="2.35"/><circle cx="41.7" cy="609.2" r="2.35"/><circle cx="44.8" cy="608.6" r="2.35"/><circle cx="38.0" cy="611.1" r="2.35"/><circle cx="39.8" cy="611.7" r="2.35"/><circle cx="41.7" cy="612.3" r="2.35"/><circle cx="43.5" cy="611.1" r="2.35"/><circle cx="37.3" cy="613.6" r="2.35"/><circle cx="39.2" cy="614.2" r="2.35"/><circle cx="41.7" cy="614.8" r="2.35"/><circle cx="44.8" cy="614.2" r="2.35"/><circle cx="49.1" cy="611.5" r="2.35"/><circle cx="48.3" cy="613.6" r="2.35"/><circle cx="51.6" cy="614.8" r="2.35"/><circle cx="49.7" cy="616.1" r="2.35"/><circle cx="46.6" cy="616.1" r="2.35"/><circle cx="47.9" cy="618.5" r="2.35"/><circle cx="40.4" cy="617.3" r="2.35"/><circle cx="41.7" cy="619.8" r="2.35"/><circle cx="61.2" cy="612.9" r="2.35"/><circle cx="57.2" cy="616.1" r="2.35"/><circle cx="59.1" cy="617.9" r="2.35"/><circle cx="60.3" cy="619.8" r="2.35"/><circle cx="64.0" cy="617.3" r="2.35"/><circle cx="69.0" cy="614.6" r="2.35"/><circle cx="72.7" cy="619.2" r="2.35"/><circle cx="34.9" cy="621.0" r="2.35"/><circle cx="31.8" cy="622.3" r="2.35"/><circle cx="53.5" cy="622.3" r="2.35"/><circle cx="91.9" cy="616.3" r="2.35"/><circle cx="99.4" cy="616.1" r="2.35"/><circle cx="95.7" cy="620.1" r="2.35"/><circle cx="76.4" cy="622.3" r="2.35"/><circle cx="85.7" cy="622.3" r="2.35"/><circle cx="101.9" cy="575.7" r="2.35"/><circle cx="103.4" cy="578.0" r="2.35"/><circle cx="115.8" cy="576.7" r="2.35"/><circle cx="106.5" cy="585.0" r="2.35"/><circle cx="113.0" cy="586.9" r="2.35"/><circle cx="107.8" cy="594.0" r="2.35"/><circle cx="110.5" cy="598.7" r="2.35"/><circle cx="112.0" cy="603.4" r="2.35"/><circle cx="120.2" cy="604.6" r="2.35"/><circle cx="130.2" cy="607.1" r="2.35"/><circle cx="145.3" cy="604.9" r="2.35"/><circle cx="145.9" cy="604.3" r="2.35"/><circle cx="158.7" cy="600.8" r="2.35"/><circle cx="119.9" cy="612.3" r="2.35"/><circle cx="100.0" cy="616.7" r="2.35"/><circle cx="104.3" cy="620.4" r="2.35"/><circle cx="118.9" cy="619.8" r="2.35"/><circle cx="164.2" cy="618.9" r="2.35"/><circle cx="113.0" cy="622.9" r="2.35"/><circle cx="32.4" cy="624.9" r="2.35"/><circle cx="35.5" cy="626.7" r="2.35"/><circle cx="38.6" cy="625.5" r="2.35"/><circle cx="41.1" cy="628.0" r="2.35"/><circle cx="47.9" cy="628.0" r="2.35"/><circle cx="53.5" cy="624.2" r="2.35"/><circle cx="52.8" cy="628.0" r="2.35"/><circle cx="66.5" cy="624.9" r="2.35"/><circle cx="65.9" cy="628.6" r="2.35"/><circle cx="72.1" cy="625.5" r="2.35"/><circle cx="73.3" cy="628.0" r="2.35"/><circle cx="76.4" cy="626.7" r="2.35"/><circle cx="83.2" cy="624.2" r="2.35"/><circle cx="84.5" cy="628.0" r="2.35"/><circle cx="82.0" cy="631.7" r="2.35"/><circle cx="95.7" cy="624.9" r="2.35"/><circle cx="96.9" cy="628.6" r="2.35"/><circle cx="100.0" cy="626.7" r="2.35"/><circle cx="34.9" cy="631.7" r="2.35"/><circle cx="33.0" cy="634.2" r="2.35"/><circle cx="38.0" cy="633.5" r="2.35"/><circle cx="46.0" cy="634.2" r="2.35"/><circle cx="44.8" cy="636.6" r="2.35"/><circle cx="51.6" cy="632.3" r="2.35"/><circle cx="54.7" cy="634.2" r="2.35"/><circle cx="57.8" cy="631.7" r="2.35"/><circle cx="60.3" cy="634.2" r="2.35"/><circle cx="63.4" cy="634.8" r="2.35"/><circle cx="71.5" cy="632.9" r="2.35"/><circle cx="69.6" cy="636.0" r="2.35"/><circle cx="79.5" cy="635.4" r="2.35"/><circle cx="82.6" cy="633.5" r="2.35"/><circle cx="27.4" cy="637.3" r="2.35"/><circle cx="96.3" cy="637.9" r="2.35"/><circle cx="26.2" cy="642.9" r="2.35"/><circle cx="29.3" cy="645.3" r="2.35"/><circle cx="35.5" cy="639.8" r="2.35"/><circle cx="36.7" cy="642.9" r="2.35"/><circle cx="40.4" cy="641.6" r="2.35"/><circle cx="44.2" cy="639.1" r="2.35"/><circle cx="46.0" cy="642.2" r="2.35"/><circle cx="49.7" cy="640.4" r="2.35"/><circle cx="52.2" cy="639.1" r="2.35"/><circle cx="53.5" cy="642.9" r="2.35"/><circle cx="55.9" cy="645.3" r="2.35"/><circle cx="60.9" cy="641.6" r="2.35"/><circle cx="62.8" cy="642.2" r="2.35"/><circle cx="68.4" cy="638.5" r="2.35"/><circle cx="67.1" cy="641.6" r="2.35"/><circle cx="70.8" cy="640.4" r="2.35"/><circle cx="77.7" cy="641.6" r="2.35"/><circle cx="74.6" cy="644.1" r="2.35"/><circle cx="75.8" cy="646.0" r="2.35"/><circle cx="86.4" cy="643.5" r="2.35"/><circle cx="82.6" cy="645.3" r="2.35"/><circle cx="83.9" cy="647.8" r="2.35"/><circle cx="100.0" cy="642.9" r="2.35"/><circle cx="97.5" cy="646.6" r="2.35"/><circle cx="28.6" cy="649.7" r="2.35"/><circle cx="32.4" cy="647.8" r="2.35"/><circle cx="35.5" cy="647.2" r="2.35"/><circle cx="33.6" cy="652.2" r="2.35"/><circle cx="38.0" cy="650.3" r="2.35"/><circle cx="41.1" cy="647.2" r="2.35"/><circle cx="42.9" cy="649.7" r="2.35"/><circle cx="46.0" cy="647.8" r="2.35"/><circle cx="45.4" cy="652.2" r="2.35"/><circle cx="48.5" cy="650.9" r="2.35"/><circle cx="51.0" cy="648.4" r="2.35"/><circle cx="52.2" cy="652.8" r="2.35"/><circle cx="54.7" cy="649.7" r="2.35"/><circle cx="57.8" cy="648.4" r="2.35"/><circle cx="60.3" cy="647.8" r="2.35"/><circle cx="61.5" cy="651.5" r="2.35"/><circle cx="65.9" cy="646.0" r="2.35"/><circle cx="68.4" cy="649.1" r="2.35"/><circle cx="70.8" cy="647.8" r="2.35"/><circle cx="65.9" cy="652.8" r="2.35"/><circle cx="69.6" cy="652.8" r="2.35"/><circle cx="72.7" cy="651.5" r="2.35"/><circle cx="75.8" cy="650.9" r="2.35"/><circle cx="75.8" cy="654.6" r="2.35"/><circle cx="37.3" cy="654.0" r="2.35"/><circle cx="42.3" cy="654.6" r="2.35"/><circle cx="48.5" cy="655.3" r="2.35"/><circle cx="55.9" cy="654.0" r="2.35"/><circle cx="88.2" cy="649.7" r="2.35"/><circle cx="91.9" cy="648.4" r="2.35"/><circle cx="94.4" cy="651.5" r="2.35"/><circle cx="87.0" cy="652.8" r="2.35"/><circle cx="90.1" cy="654.0" r="2.35"/><circle cx="96.9" cy="654.0" r="2.35"/><circle cx="100.0" cy="650.9" r="2.35"/><circle cx="26.2" cy="657.1" r="2.35"/><circle cx="30.5" cy="657.1" r="2.35"/><circle cx="23.7" cy="660.2" r="2.35"/><circle cx="27.4" cy="661.5" r="2.35"/><circle cx="31.1" cy="660.2" r="2.35"/><circle cx="34.2" cy="659.0" r="2.35"/><circle cx="36.7" cy="661.5" r="2.35"/><circle cx="33.6" cy="663.3" r="2.35"/><circle cx="43.5" cy="660.2" r="2.35"/><circle cx="47.9" cy="660.2" r="2.35"/><circle cx="46.6" cy="663.3" r="2.35"/><circle cx="50.4" cy="662.7" r="2.35"/><circle cx="59.1" cy="657.7" r="2.35"/><circle cx="57.8" cy="662.7" r="2.35"/><circle cx="60.9" cy="663.3" r="2.35"/><circle cx="64.0" cy="664.6" r="2.35"/><circle cx="69.6" cy="659.0" r="2.35"/><circle cx="72.7" cy="657.1" r="2.35"/><circle cx="70.8" cy="662.1" r="2.35"/><circle cx="67.7" cy="663.9" r="2.35"/><circle cx="72.1" cy="664.6" r="2.35"/><circle cx="77.0" cy="660.2" r="2.35"/><circle cx="80.8" cy="658.4" r="2.35"/><circle cx="75.8" cy="655.9" r="2.35"/><circle cx="89.5" cy="660.2" r="2.35"/><circle cx="91.3" cy="662.7" r="2.35"/><circle cx="87.0" cy="664.6" r="2.35"/><circle cx="97.5" cy="659.0" r="2.35"/><circle cx="100.0" cy="661.5" r="2.35"/><circle cx="20.6" cy="667.1" r="2.35"/><circle cx="23.1" cy="665.2" r="2.35"/><circle cx="25.5" cy="666.4" r="2.35"/><circle cx="28.6" cy="665.2" r="2.35"/><circle cx="18.7" cy="670.8" r="2.35"/><circle cx="22.4" cy="670.2" r="2.35"/><circle cx="26.2" cy="669.5" r="2.35"/><circle cx="29.9" cy="668.3" r="2.35"/><circle cx="33.0" cy="666.4" r="2.35"/><circle cx="35.5" cy="668.3" r="2.35"/><circle cx="31.8" cy="671.4" r="2.35"/><circle cx="39.8" cy="665.2" r="2.35"/><circle cx="41.7" cy="668.3" r="2.35"/><circle cx="39.8" cy="672.0" r="2.35"/><circle cx="44.2" cy="670.2" r="2.35"/><circle cx="46.0" cy="666.4" r="2.35"/><circle cx="49.7" cy="666.4" r="2.35"/><circle cx="52.2" cy="665.2" r="2.35"/><circle cx="48.5" cy="669.5" r="2.35"/><circle cx="52.2" cy="670.2" r="2.35"/><circle cx="54.7" cy="667.7" r="2.35"/><circle cx="57.8" cy="667.1" r="2.35"/><circle cx="60.9" cy="667.7" r="2.35"/><circle cx="59.7" cy="670.8" r="2.35"/><circle cx="56.6" cy="672.0" r="2.35"/><circle cx="63.4" cy="670.2" r="2.35"/><circle cx="69.6" cy="668.3" r="2.35"/><circle cx="68.4" cy="670.8" r="2.35"/><circle cx="73.9" cy="667.7" r="2.35"/><circle cx="75.8" cy="670.8" r="2.35"/><circle cx="79.5" cy="672.0" r="2.35"/><circle cx="82.6" cy="670.8" r="2.35"/><circle cx="85.1" cy="672.6" r="2.35"/><circle cx="89.5" cy="666.4" r="2.35"/><circle cx="92.6" cy="669.5" r="2.35"/><circle cx="95.7" cy="672.0" r="2.35"/><circle cx="100.0" cy="670.8" r="2.35"/><circle cx="27.4" cy="672.6" r="2.35"/><circle cx="35.5" cy="672.6" r="2.35"/><circle cx="47.3" cy="673.3" r="2.35"/><circle cx="52.8" cy="673.3" r="2.35"/><circle cx="64.6" cy="673.3" r="2.35"/><circle cx="71.5" cy="673.3" r="2.35"/><circle cx="39.2" cy="644.1" r="2.35"/><circle cx="48.5" cy="645.3" r="2.35"/><circle cx="57.2" cy="652.2" r="2.35"/><circle cx="62.8" cy="655.3" r="2.35"/><circle cx="52.8" cy="657.7" r="2.35"/><circle cx="39.8" cy="658.4" r="2.35"/><circle cx="31.1" cy="652.8" r="2.35"/><circle cx="41.7" cy="651.5" r="2.35"/><circle cx="64.6" cy="637.9" r="2.35"/><circle cx="55.9" cy="637.9" r="2.35"/><circle cx="39.8" cy="636.6" r="2.35"/><circle cx="49.1" cy="636.6" r="2.35"/><circle cx="73.9" cy="637.9" r="2.35"/><circle cx="78.3" cy="630.4" r="2.35"/><circle cx="91.9" cy="625.5" r="2.35"/><circle cx="45.4" cy="625.5" r="2.35"/><circle cx="102.5" cy="625.5" r="2.35"/><circle cx="101.0" cy="628.6" r="2.35"/><circle cx="100.6" cy="631.7" r="2.35"/><circle cx="113.0" cy="624.2" r="2.35"/><circle cx="118.9" cy="631.1" r="2.35"/><circle cx="122.3" cy="628.6" r="2.35"/><circle cx="124.2" cy="629.8" r="2.35"/><circle cx="125.4" cy="626.1" r="2.35"/><circle cx="129.2" cy="625.5" r="2.35"/><circle cx="136.4" cy="630.4" r="2.35"/><circle cx="163.3" cy="625.2" r="2.35"/><circle cx="104.3" cy="635.4" r="2.35"/><circle cx="107.4" cy="634.2" r="2.35"/><circle cx="105.6" cy="637.9" r="2.35"/><circle cx="106.8" cy="641.0" r="2.35"/><circle cx="108.7" cy="643.5" r="2.35"/><circle cx="112.4" cy="638.5" r="2.35"/><circle cx="114.3" cy="636.6" r="2.35"/><circle cx="118.0" cy="639.1" r="2.35"/><circle cx="116.4" cy="644.3" r="2.35"/><circle cx="139.7" cy="635.4" r="2.35"/><circle cx="141.3" cy="636.0" r="2.35"/><circle cx="134.7" cy="639.1" r="2.35"/><circle cx="135.7" cy="640.7" r="2.35"/><circle cx="124.4" cy="645.1" r="2.35"/><circle cx="131.6" cy="646.0" r="2.35"/><circle cx="129.4" cy="648.7" r="2.35"/><circle cx="133.8" cy="648.7" r="2.35"/><circle cx="124.8" cy="652.8" r="2.35"/><circle cx="152.4" cy="637.6" r="2.35"/><circle cx="155.8" cy="635.0" r="2.35"/><circle cx="156.8" cy="638.1" r="2.35"/><circle cx="162.0" cy="636.9" r="2.35"/><circle cx="147.8" cy="645.3" r="2.35"/><circle cx="154.0" cy="645.0" r="2.35"/><circle cx="157.1" cy="645.1" r="2.35"/><circle cx="158.7" cy="646.6" r="2.35"/><circle cx="174.1" cy="635.0" r="2.35"/><circle cx="174.8" cy="639.1" r="2.35"/><circle cx="177.6" cy="638.9" r="2.35"/><circle cx="182.5" cy="639.8" r="2.35"/><circle cx="184.4" cy="640.4" r="2.35"/><circle cx="175.1" cy="644.7" r="2.35"/><circle cx="178.8" cy="651.5" r="2.35"/><circle cx="181.0" cy="659.4" r="2.35"/><circle cx="184.4" cy="667.1" r="2.35"/><circle cx="179.8" cy="670.2" r="2.35"/><circle cx="100.0" cy="642.9" r="2.35"/><circle cx="102.7" cy="648.4" r="2.35"/><circle cx="101.2" cy="652.2" r="2.35"/><circle cx="102.5" cy="652.8" r="2.35"/><circle cx="109.3" cy="652.2" r="2.35"/><circle cx="111.8" cy="653.4" r="2.35"/><circle cx="109.3" cy="658.1" r="2.35"/><circle cx="100.6" cy="659.0" r="2.35"/><circle cx="116.5" cy="656.9" r="2.35"/><circle cx="117.7" cy="660.8" r="2.35"/><circle cx="132.5" cy="657.1" r="2.35"/><circle cx="136.6" cy="659.0" r="2.35"/><circle cx="136.0" cy="660.8" r="2.35"/><circle cx="144.1" cy="656.3" r="2.35"/><circle cx="155.6" cy="657.7" r="2.35"/><circle cx="149.3" cy="661.8" r="2.35"/><circle cx="130.6" cy="664.6" r="2.35"/><circle cx="142.8" cy="666.2" r="2.35"/><circle cx="157.3" cy="665.2" r="2.35"/><circle cx="157.7" cy="667.1" r="2.35"/><circle cx="162.3" cy="666.2" r="2.35"/><circle cx="161.1" cy="671.1" r="2.35"/><circle cx="156.5" cy="672.6" r="2.35"/><circle cx="166.6" cy="672.6" r="2.35"/><circle cx="101.2" cy="663.9" r="2.35"/><circle cx="104.3" cy="665.2" r="2.35"/><circle cx="103.7" cy="668.3" r="2.35"/><circle cx="100.6" cy="669.5" r="2.35"/><circle cx="109.3" cy="664.3" r="2.35"/><circle cx="109.9" cy="670.2" r="2.35"/><circle cx="116.1" cy="669.2" r="2.35"/><circle cx="112.4" cy="672.6" r="2.35"/><circle cx="134.7" cy="672.0" r="2.35"/><circle cx="131.6" cy="673.3" r="2.35"/><circle cx="129.2" cy="673.9" r="2.35"/><circle cx="116.1" cy="673.9" r="2.35"/><circle cx="223.5" cy="575.0" r="2.35"/><circle cx="233.9" cy="578.2" r="2.35"/><circle cx="266.2" cy="574.5" r="2.35"/><circle cx="188.2" cy="586.1" r="2.35"/><circle cx="198.6" cy="594.8" r="2.35"/><circle cx="205.6" cy="595.1" r="2.35"/><circle cx="207.3" cy="599.3" r="2.35"/><circle cx="204.4" cy="605.5" r="2.35"/><circle cx="207.8" cy="615.7" r="2.35"/><circle cx="255.2" cy="607.2" r="2.35"/><circle cx="237.4" cy="613.7" r="2.35"/><circle cx="316.5" cy="600.5" r="2.35"/><circle cx="329.4" cy="619.4" r="2.35"/><circle cx="290.0" cy="619.2" r="2.35"/><circle cx="287.5" cy="621.6" r="2.35"/><circle cx="277.8" cy="626.1" r="2.35"/><circle cx="244.1" cy="630.8" r="2.35"/><circle cx="234.4" cy="633.5" r="2.35"/><circle cx="233.9" cy="640.7" r="2.35"/><circle cx="197.9" cy="636.0" r="2.35"/><circle cx="239.6" cy="649.7" r="2.35"/><circle cx="207.3" cy="649.7" r="2.35"/><circle cx="187.5" cy="652.9" r="2.35"/><circle cx="190.0" cy="656.4" r="2.35"/><circle cx="209.3" cy="658.9" r="2.35"/><circle cx="228.9" cy="657.6" r="2.35"/><circle cx="215.5" cy="665.3" r="2.35"/><circle cx="207.3" cy="669.8" r="2.35"/><circle cx="203.6" cy="673.3" r="2.35"/><circle cx="185.0" cy="666.8" r="2.35"/><circle cx="264.4" cy="670.8" r="2.35"/><circle cx="323.0" cy="656.6" r="2.35"/><circle cx="371.1" cy="594.1" r="2.35"/><circle cx="409.6" cy="636.0" r="2.35"/><circle cx="530.6" cy="629.8" r="2.35"/><circle cx="101.2" cy="679.0" r="2.35"/><circle cx="105.0" cy="676.7" r="2.35"/><circle cx="109.3" cy="677.5" r="2.35"/><circle cx="115.5" cy="675.2" r="2.35"/><circle cx="102.5" cy="682.1" r="2.35"/><circle cx="106.2" cy="682.1" r="2.35"/><circle cx="108.1" cy="682.1" r="2.35"/><circle cx="100.6" cy="684.5" r="2.35"/><circle cx="103.7" cy="686.4" r="2.35"/><circle cx="103.1" cy="689.5" r="2.35"/><circle cx="129.8" cy="675.0" r="2.35"/><circle cx="132.9" cy="674.0" r="2.35"/><circle cx="156.5" cy="674.0" r="2.35"/><circle cx="166.6" cy="674.0" r="2.35"/><circle cx="118.0" cy="681.7" r="2.35"/><circle cx="120.5" cy="680.8" r="2.35"/><circle cx="123.0" cy="682.1" r="2.35"/><circle cx="112.2" cy="688.9" r="2.35"/><circle cx="124.2" cy="689.3" r="2.35"/><circle cx="130.2" cy="688.5" r="2.35"/><circle cx="135.7" cy="691.7" r="2.35"/><circle cx="143.8" cy="689.3" r="2.35"/><circle cx="149.0" cy="693.0" r="2.35"/><circle cx="154.2" cy="679.0" r="2.35"/><circle cx="155.5" cy="678.1" r="2.35"/><circle cx="161.2" cy="683.7" r="2.35"/><circle cx="101.9" cy="697.0" r="2.35"/><circle cx="103.1" cy="702.3" r="2.35"/><circle cx="113.0" cy="700.7" r="2.35"/><circle cx="123.6" cy="694.5" r="2.35"/><circle cx="124.2" cy="697.0" r="2.35"/><circle cx="127.9" cy="697.8" r="2.35"/><circle cx="123.0" cy="700.7" r="2.35"/><circle cx="121.7" cy="702.5" r="2.35"/><circle cx="126.7" cy="703.8" r="2.35"/><circle cx="118.6" cy="704.4" r="2.35"/><circle cx="115.5" cy="705.0" r="2.35"/><circle cx="124.2" cy="703.8" r="2.35"/><circle cx="126.1" cy="705.6" r="2.35"/><circle cx="126.7" cy="707.8" r="2.35"/><circle cx="115.5" cy="708.7" r="2.35"/><circle cx="107.2" cy="706.0" r="2.35"/><circle cx="109.3" cy="706.6" r="2.35"/><circle cx="105.0" cy="710.4" r="2.35"/><circle cx="133.5" cy="704.2" r="2.35"/><circle cx="133.5" cy="709.7" r="2.35"/><circle cx="146.2" cy="697.8" r="2.35"/><circle cx="145.0" cy="702.3" r="2.35"/><circle cx="173.0" cy="695.3" r="2.35"/><circle cx="171.1" cy="697.3" r="2.35"/><circle cx="165.4" cy="703.8" r="2.35"/><circle cx="181.9" cy="697.6" r="2.35"/><circle cx="183.8" cy="705.0" r="2.35"/><circle cx="148.4" cy="712.2" r="2.35"/><circle cx="146.9" cy="716.6" r="2.35"/><circle cx="101.2" cy="716.6" r="2.35"/><circle cx="107.4" cy="719.3" r="2.35"/><circle cx="107.2" cy="721.8" r="2.35"/><circle cx="127.1" cy="723.0" r="2.35"/><circle cx="136.0" cy="722.0" r="2.35"/><circle cx="114.9" cy="724.9" r="2.35"/><circle cx="185.0" cy="713.7" r="2.35"/><circle cx="27.4" cy="725.6" r="2.35"/><circle cx="29.9" cy="726.9" r="2.35"/><circle cx="38.0" cy="725.6" r="2.35"/><circle cx="37.7" cy="730.0" r="2.35"/><circle cx="34.2" cy="735.9" r="2.35"/><circle cx="33.0" cy="739.9" r="2.35"/><circle cx="39.8" cy="734.9" r="2.35"/><circle cx="39.2" cy="739.9" r="2.35"/><circle cx="37.7" cy="746.5" r="2.35"/><circle cx="40.4" cy="746.5" r="2.35"/><circle cx="44.2" cy="729.3" r="2.35"/><circle cx="46.6" cy="727.5" r="2.35"/><circle cx="49.1" cy="726.9" r="2.35"/><circle cx="51.6" cy="726.2" r="2.35"/><circle cx="46.0" cy="731.2" r="2.35"/><circle cx="48.5" cy="730.6" r="2.35"/><circle cx="50.4" cy="729.3" r="2.35"/><circle cx="42.9" cy="733.7" r="2.35"/><circle cx="45.4" cy="734.3" r="2.35"/><circle cx="47.9" cy="733.7" r="2.35"/><circle cx="41.7" cy="736.2" r="2.35"/><circle cx="44.8" cy="736.8" r="2.35"/><circle cx="47.9" cy="737.4" r="2.35"/><circle cx="49.7" cy="736.8" r="2.35"/><circle cx="58.4" cy="726.2" r="2.35"/><circle cx="60.9" cy="726.9" r="2.35"/><circle cx="64.0" cy="726.2" r="2.35"/><circle cx="67.1" cy="725.6" r="2.35"/><circle cx="70.2" cy="726.2" r="2.35"/><circle cx="73.3" cy="725.6" r="2.35"/><circle cx="56.6" cy="731.2" r="2.35"/><circle cx="54.7" cy="733.1" r="2.35"/><circle cx="57.8" cy="731.8" r="2.35"/><circle cx="62.8" cy="733.7" r="2.35"/><circle cx="64.6" cy="732.4" r="2.35"/><circle cx="70.2" cy="732.7" r="2.35"/><circle cx="55.3" cy="736.8" r="2.35"/><circle cx="57.8" cy="737.4" r="2.35"/><circle cx="54.7" cy="740.5" r="2.35"/><circle cx="56.6" cy="741.8" r="2.35"/><circle cx="59.1" cy="739.9" r="2.35"/><circle cx="60.9" cy="741.1" r="2.35"/><circle cx="58.4" cy="743.6" r="2.35"/><circle cx="61.5" cy="743.6" r="2.35"/><circle cx="59.7" cy="745.5" r="2.35"/><circle cx="66.5" cy="739.3" r="2.35"/><circle cx="69.2" cy="741.1" r="2.35"/><circle cx="76.7" cy="727.7" r="2.35"/><circle cx="79.8" cy="729.3" r="2.35"/><circle cx="90.1" cy="731.0" r="2.35"/><circle cx="95.4" cy="730.8" r="2.35"/><circle cx="100.0" cy="731.2" r="2.35"/><circle cx="92.9" cy="726.2" r="2.35"/><circle cx="77.7" cy="737.4" r="2.35"/><circle cx="80.1" cy="737.0" r="2.35"/><circle cx="82.6" cy="738.6" r="2.35"/><circle cx="81.1" cy="740.8" r="2.35"/><circle cx="86.1" cy="736.8" r="2.35"/><circle cx="99.4" cy="737.4" r="2.35"/><circle cx="50.4" cy="745.5" r="2.35"/><circle cx="53.5" cy="746.1" r="2.35"/><circle cx="47.3" cy="748.6" r="2.35"/><circle cx="49.7" cy="751.1" r="2.35"/><circle cx="51.0" cy="748.6" r="2.35"/><circle cx="54.1" cy="750.4" r="2.35"/><circle cx="69.0" cy="749.2" r="2.35"/><circle cx="69.2" cy="756.6" r="2.35"/><circle cx="76.8" cy="754.2" r="2.35"/><circle cx="83.6" cy="756.9" r="2.35"/><circle cx="88.8" cy="744.9" r="2.35"/><circle cx="89.1" cy="747.3" r="2.35"/><circle cx="90.1" cy="751.1" r="2.35"/><circle cx="98.1" cy="745.5" r="2.35"/><circle cx="100.0" cy="754.2" r="2.35"/><circle cx="52.2" cy="756.6" r="2.35"/><circle cx="47.5" cy="759.7" r="2.35"/><circle cx="48.8" cy="764.1" r="2.35"/><circle cx="54.7" cy="761.0" r="2.35"/><circle cx="57.8" cy="761.0" r="2.35"/><circle cx="61.9" cy="757.9" r="2.35"/><circle cx="73.3" cy="764.1" r="2.35"/><circle cx="70.8" cy="767.8" r="2.35"/><circle cx="68.4" cy="768.8" r="2.35"/><circle cx="80.1" cy="764.7" r="2.35"/><circle cx="78.3" cy="766.9" r="2.35"/><circle cx="76.7" cy="768.7" r="2.35"/><circle cx="86.4" cy="765.9" r="2.35"/><circle cx="96.9" cy="764.7" r="2.35"/><circle cx="99.4" cy="764.7" r="2.35"/><circle cx="96.0" cy="772.8" r="2.35"/><circle cx="75.2" cy="774.6" r="2.35"/><circle cx="114.9" cy="726.5" r="2.35"/><circle cx="124.2" cy="727.7" r="2.35"/><circle cx="127.3" cy="725.0" r="2.35"/><circle cx="137.6" cy="726.9" r="2.35"/><circle cx="143.4" cy="726.9" r="2.35"/><circle cx="100.6" cy="731.2" r="2.35"/><circle cx="110.3" cy="731.2" r="2.35"/><circle cx="111.2" cy="735.5" r="2.35"/><circle cx="108.1" cy="737.4" r="2.35"/><circle cx="109.3" cy="739.6" r="2.35"/><circle cx="104.6" cy="739.9" r="2.35"/><circle cx="100.0" cy="737.4" r="2.35"/><circle cx="120.7" cy="734.9" r="2.35"/><circle cx="146.8" cy="734.9" r="2.35"/><circle cx="136.0" cy="741.1" r="2.35"/><circle cx="145.7" cy="741.4" r="2.35"/><circle cx="125.8" cy="743.0" r="2.35"/><circle cx="106.0" cy="745.1" r="2.35"/><circle cx="113.4" cy="747.3" r="2.35"/><circle cx="112.8" cy="749.8" r="2.35"/><circle cx="120.8" cy="747.6" r="2.35"/><circle cx="128.2" cy="750.8" r="2.35"/><circle cx="101.0" cy="753.9" r="2.35"/><circle cx="118.2" cy="754.8" r="2.35"/><circle cx="140.3" cy="754.8" r="2.35"/><circle cx="127.5" cy="757.9" r="2.35"/><circle cx="119.2" cy="761.0" r="2.35"/><circle cx="123.0" cy="762.0" r="2.35"/><circle cx="120.5" cy="763.5" r="2.35"/><circle cx="121.7" cy="764.7" r="2.35"/><circle cx="130.6" cy="765.3" r="2.35"/><circle cx="133.1" cy="771.9" r="2.35"/><circle cx="122.7" cy="775.0" r="2.35"/><circle cx="175.7" cy="753.5" r="2.35"/><circle cx="180.4" cy="750.4" r="2.35"/><circle cx="100.0" cy="764.7" r="2.35"/><circle cx="238.4" cy="685.4" r="2.35"/><circle cx="319.8" cy="689.6" r="2.35"/><circle cx="286.0" cy="698.3" r="2.35"/><circle cx="185.0" cy="705.0" r="2.35"/><circle cx="186.7" cy="713.2" r="2.35"/><circle cx="198.6" cy="718.2" r="2.35"/><circle cx="221.2" cy="715.9" r="2.35"/><circle cx="230.2" cy="725.1" r="2.35"/><circle cx="251.8" cy="709.5" r="2.35"/><circle cx="267.6" cy="717.2" r="2.35"/><circle cx="298.2" cy="720.7" r="2.35"/><circle cx="353.8" cy="719.2" r="2.35"/><circle cx="309.8" cy="733.6" r="2.35"/><circle cx="276.1" cy="738.5" r="2.35"/><circle cx="219.7" cy="766.3" r="2.35"/><circle cx="243.8" cy="769.1" r="2.35"/><circle cx="225.5" cy="774.5" r="2.35"/><circle cx="190.5" cy="775.3" r="2.35"/><circle cx="395.5" cy="684.2" r="2.35"/><circle cx="431.4" cy="692.9" r="2.35"/><circle cx="372.4" cy="734.3" r="2.35"/><circle cx="70.1" cy="780.2" r="2.35"/><circle cx="77.0" cy="779.5" r="2.35"/><circle cx="63.9" cy="785.4" r="2.35"/><circle cx="71.6" cy="786.4" r="2.35"/><circle cx="77.3" cy="788.4" r="2.35"/><circle cx="55.9" cy="793.1" r="2.35"/><circle cx="90.9" cy="783.2" r="2.35"/><circle cx="98.1" cy="780.2" r="2.35"/><circle cx="104.8" cy="784.7" r="2.35"/><circle cx="105.1" cy="785.9" r="2.35"/><circle cx="102.1" cy="790.1" r="2.35"/><circle cx="105.8" cy="791.6" r="2.35"/><circle cx="111.8" cy="791.1" r="2.35"/><circle cx="121.7" cy="792.1" r="2.35"/><circle cx="120.5" cy="795.4" r="2.35"/><circle cx="117.7" cy="797.6" r="2.35"/><circle cx="83.2" cy="797.8" r="2.35"/><circle cx="87.5" cy="799.8" r="2.35"/><circle cx="126.9" cy="804.3" r="2.35"/><circle cx="97.6" cy="812.0" r="2.35"/><circle cx="99.9" cy="811.5" r="2.35"/><circle cx="106.1" cy="815.7" r="2.35"/><circle cx="138.8" cy="784.9" r="2.35"/><circle cx="147.8" cy="785.9" r="2.35"/><circle cx="153.0" cy="789.4" r="2.35"/><circle cx="164.4" cy="795.9" r="2.35"/><circle cx="164.2" cy="798.6" r="2.35"/><circle cx="173.3" cy="804.0" r="2.35"/><circle cx="170.6" cy="813.7" r="2.35"/><circle cx="156.0" cy="815.0" r="2.35"/><circle cx="176.3" cy="778.0" r="2.35"/><circle cx="204.9" cy="778.7" r="2.35"/><circle cx="236.1" cy="784.7" r="2.35"/><circle cx="313.1" cy="806.5" r="2.35"/><circle cx="22.5" cy="673.8" r="2.35"/><circle cx="26.8" cy="674.6" r="2.35"/><circle cx="30.0" cy="675.0" r="2.35"/><circle cx="34.6" cy="674.8" r="2.35"/><circle cx="39.3" cy="673.9" r="2.35"/><circle cx="44.8" cy="675.9" r="2.35"/><circle cx="48.6" cy="674.2" r="2.35"/><circle cx="54.6" cy="676.2" r="2.35"/><circle cx="59.0" cy="674.7" r="2.35"/><circle cx="62.2" cy="676.0" r="2.35"/><circle cx="67.0" cy="673.9" r="2.35"/><circle cx="73.4" cy="674.1" r="2.35"/><circle cx="77.5" cy="674.6" r="2.35"/><circle cx="80.6" cy="673.8" r="2.35"/><circle cx="86.8" cy="674.8" r="2.35"/><circle cx="91.2" cy="674.9" r="2.35"/><circle cx="96.3" cy="675.5" r="2.35"/><circle cx="100.3" cy="675.1" r="2.35"/><circle cx="20.4" cy="678.4" r="2.35"/><circle cx="25.7" cy="677.9" r="2.35"/><circle cx="28.7" cy="679.7" r="2.35"/><circle cx="32.6" cy="679.0" r="2.35"/><circle cx="36.9" cy="679.4" r="2.35"/><circle cx="43.5" cy="679.2" r="2.35"/><circle cx="48.3" cy="678.5" r="2.35"/><circle cx="56.7" cy="678.9" r="2.35"/><circle cx="62.3" cy="678.9" r="2.35"/><circle cx="64.5" cy="679.5" r="2.35"/><circle cx="71.6" cy="679.9" r="2.35"/><circle cx="88.0" cy="678.7" r="2.35"/><circle cx="92.1" cy="678.8" r="2.35"/><circle cx="98.9" cy="679.9" r="2.35"/><circle cx="21.7" cy="684.0" r="2.35"/><circle cx="27.9" cy="682.0" r="2.35"/><circle cx="30.4" cy="682.2" r="2.35"/><circle cx="35.1" cy="682.9" r="2.35"/><circle cx="40.7" cy="682.3" r="2.35"/><circle cx="49.3" cy="683.2" r="2.35"/><circle cx="55.4" cy="683.5" r="2.35"/><circle cx="58.8" cy="683.3" r="2.35"/><circle cx="62.2" cy="684.1" r="2.35"/><circle cx="72.3" cy="681.9" r="2.35"/><circle cx="76.0" cy="681.8" r="2.35"/><circle cx="90.6" cy="681.7" r="2.35"/><circle cx="95.8" cy="682.0" r="2.35"/><circle cx="27.8" cy="685.9" r="2.35"/><circle cx="33.1" cy="686.3" r="2.35"/><circle cx="39.0" cy="686.1" r="2.35"/><circle cx="41.4" cy="688.2" r="2.35"/><circle cx="47.4" cy="686.0" r="2.35"/><circle cx="52.0" cy="685.7" r="2.35"/><circle cx="56.6" cy="688.3" r="2.35"/><circle cx="61.6" cy="686.3" r="2.35"/><circle cx="64.8" cy="687.7" r="2.35"/><circle cx="71.0" cy="686.5" r="2.35"/><circle cx="80.3" cy="687.8" r="2.35"/><circle cx="83.3" cy="687.0" r="2.35"/><circle cx="87.4" cy="685.7" r="2.35"/><circle cx="92.6" cy="687.5" r="2.35"/><circle cx="31.6" cy="692.1" r="2.35"/><circle cx="40.9" cy="691.8" r="2.35"/><circle cx="43.9" cy="691.4" r="2.35"/><circle cx="50.7" cy="691.7" r="2.35"/><circle cx="54.9" cy="690.9" r="2.35"/><circle cx="57.9" cy="691.8" r="2.35"/><circle cx="67.7" cy="692.2" r="2.35"/><circle cx="82.7" cy="692.3" r="2.35"/><circle cx="89.6" cy="692.3" r="2.35"/><circle cx="95.6" cy="692.2" r="2.35"/><circle cx="101.1" cy="691.9" r="2.35"/><circle cx="23.7" cy="695.2" r="2.35"/><circle cx="28.3" cy="694.7" r="2.35"/><circle cx="32.5" cy="696.1" r="2.35"/><circle cx="37.7" cy="694.9" r="2.35"/><circle cx="43.0" cy="696.1" r="2.35"/><circle cx="51.9" cy="695.1" r="2.35"/><circle cx="56.6" cy="693.7" r="2.35"/><circle cx="60.2" cy="693.6" r="2.35"/><circle cx="64.8" cy="694.9" r="2.35"/><circle cx="70.4" cy="694.5" r="2.35"/><circle cx="79.6" cy="694.3" r="2.35"/><circle cx="84.8" cy="695.0" r="2.35"/><circle cx="89.4" cy="696.1" r="2.35"/><circle cx="93.5" cy="695.0" r="2.35"/><circle cx="98.4" cy="694.8" r="2.35"/><circle cx="27.9" cy="698.3" r="2.35"/><circle cx="31.4" cy="700.2" r="2.35"/><circle cx="36.8" cy="698.0" r="2.35"/><circle cx="39.4" cy="698.8" r="2.35"/><circle cx="43.9" cy="698.3" r="2.35"/><circle cx="55.0" cy="700.0" r="2.35"/><circle cx="57.9" cy="699.5" r="2.35"/><circle cx="62.4" cy="700.0" r="2.35"/><circle cx="76.2" cy="698.8" r="2.35"/><circle cx="81.3" cy="698.1" r="2.35"/><circle cx="87.0" cy="697.6" r="2.35"/><circle cx="101.4" cy="699.7" r="2.35"/><circle cx="28.3" cy="701.9" r="2.35"/><circle cx="33.3" cy="704.1" r="2.35"/><circle cx="41.8" cy="704.1" r="2.35"/><circle cx="47.5" cy="703.5" r="2.35"/><circle cx="50.8" cy="701.7" r="2.35"/><circle cx="62.3" cy="703.3" r="2.35"/><circle cx="78.5" cy="703.0" r="2.35"/><circle cx="87.8" cy="702.4" r="2.35"/><circle cx="93.9" cy="702.4" r="2.35"/><circle cx="25.8" cy="706.9" r="2.35"/><circle cx="32.4" cy="705.9" r="2.35"/><circle cx="36.7" cy="706.8" r="2.35"/><circle cx="40.4" cy="707.9" r="2.35"/><circle cx="50.1" cy="708.3" r="2.35"/><circle cx="53.8" cy="707.9" r="2.35"/><circle cx="59.4" cy="707.3" r="2.35"/><circle cx="66.8" cy="707.6" r="2.35"/><circle cx="78.2" cy="707.4" r="2.35"/><circle cx="81.1" cy="706.4" r="2.35"/><circle cx="85.4" cy="706.8" r="2.35"/><circle cx="92.2" cy="708.2" r="2.35"/><circle cx="94.8" cy="708.2" r="2.35"/><circle cx="99.7" cy="705.6" r="2.35"/><circle cx="27.6" cy="710.3" r="2.35"/><circle cx="32.4" cy="710.7" r="2.35"/><circle cx="36.9" cy="709.6" r="2.35"/><circle cx="42.2" cy="710.2" r="2.35"/><circle cx="47.6" cy="711.0" r="2.35"/><circle cx="52.6" cy="711.4" r="2.35"/><circle cx="57.1" cy="712.0" r="2.35"/><circle cx="71.2" cy="712.0" r="2.35"/><circle cx="79.5" cy="711.0" r="2.35"/><circle cx="84.9" cy="711.8" r="2.35"/><circle cx="89.7" cy="711.4" r="2.35"/><circle cx="97.4" cy="709.9" r="2.35"/><circle cx="26.6" cy="713.6" r="2.35"/><circle cx="32.1" cy="715.6" r="2.35"/><circle cx="35.9" cy="715.0" r="2.35"/><circle cx="40.9" cy="713.8" r="2.35"/><circle cx="45.7" cy="714.3" r="2.35"/><circle cx="48.5" cy="714.3" r="2.35"/><circle cx="59.5" cy="716.2" r="2.35"/><circle cx="63.1" cy="714.9" r="2.35"/><circle cx="68.7" cy="715.3" r="2.35"/><circle cx="71.4" cy="714.0" r="2.35"/><circle cx="80.4" cy="713.7" r="2.35"/><circle cx="90.4" cy="715.0" r="2.35"/><circle cx="95.4" cy="713.9" r="2.35"/><circle cx="99.3" cy="716.2" r="2.35"/><circle cx="28.8" cy="718.3" r="2.35"/><circle cx="32.8" cy="720.1" r="2.35"/><circle cx="37.4" cy="719.2" r="2.35"/><circle cx="41.8" cy="719.0" r="2.35"/><circle cx="48.6" cy="717.9" r="2.35"/><circle cx="52.8" cy="719.0" r="2.35"/><circle cx="57.6" cy="719.5" r="2.35"/><circle cx="64.3" cy="718.9" r="2.35"/><circle cx="69.7" cy="718.0" r="2.35"/><circle cx="85.2" cy="719.5" r="2.35"/><circle cx="88.1" cy="718.6" r="2.35"/><circle cx="94.6" cy="719.2" r="2.35"/><circle cx="26.0" cy="722.3" r="2.35"/><circle cx="31.3" cy="722.1" r="2.35"/><circle cx="35.5" cy="724.2" r="2.35"/><circle cx="41.5" cy="723.8" r="2.35"/><circle cx="45.4" cy="724.1" r="2.35"/><circle cx="50.8" cy="723.1" r="2.35"/><circle cx="54.8" cy="721.7" r="2.35"/><circle cx="59.4" cy="722.8" r="2.35"/><circle cx="69.2" cy="721.9" r="2.35"/><circle cx="72.1" cy="722.4" r="2.35"/><circle cx="78.5" cy="722.3" r="2.35"/><circle cx="81.2" cy="723.1" r="2.35"/><circle cx="85.4" cy="722.0" r="2.35"/><circle cx="92.0" cy="722.9" r="2.35"/><circle cx="96.6" cy="724.3" r="2.35"/><circle cx="36.4" cy="653.1" r="2.35"/><circle cx="31.8" cy="658.8" r="2.35"/><circle cx="46.6" cy="680.2" r="2.35"/><circle cx="54.7" cy="664.0" r="2.35"/><circle cx="39.6" cy="667.8" r="2.35"/><circle cx="38.0" cy="661.5" r="2.35"/><circle cx="23.8" cy="659.4" r="2.35"/><circle cx="64.5" cy="654.3" r="2.35"/><circle cx="43.7" cy="671.4" r="2.35"/><circle cx="59.8" cy="657.3" r="2.35"/><circle cx="33.2" cy="658.4" r="2.35"/><circle cx="39.0" cy="665.2" r="2.35"/><circle cx="63.9" cy="678.9" r="2.35"/><circle cx="60.3" cy="650.7" r="2.35"/><circle cx="22.5" cy="674.1" r="2.35"/><circle cx="61.3" cy="666.1" r="2.35"/><circle cx="47.4" cy="650.0" r="2.35"/><circle cx="38.6" cy="681.5" r="2.35"/><circle cx="58.2" cy="679.1" r="2.35"/><circle cx="64.8" cy="658.4" r="2.35"/><circle cx="25.9" cy="655.2" r="2.35"/><circle cx="44.5" cy="673.2" r="2.35"/><circle cx="63.4" cy="674.5" r="2.35"/><circle cx="50.1" cy="676.0" r="2.35"/><circle cx="41.6" cy="668.8" r="2.35"/><circle cx="22.8" cy="676.6" r="2.35"/><circle cx="31.5" cy="681.3" r="2.35"/><circle cx="50.0" cy="660.3" r="2.35"/><circle cx="26.8" cy="658.6" r="2.35"/><circle cx="49.6" cy="673.8" r="2.35"/><circle cx="26.0" cy="652.4" r="2.35"/><circle cx="44.6" cy="669.8" r="2.35"/><circle cx="38.5" cy="657.6" r="2.35"/><circle cx="48.0" cy="650.4" r="2.35"/><circle cx="34.6" cy="665.7" r="2.35"/><circle cx="64.2" cy="671.9" r="2.35"/><circle cx="60.8" cy="666.2" r="2.35"/><circle cx="31.6" cy="658.4" r="2.35"/><circle cx="64.2" cy="674.0" r="2.35"/><circle cx="34.8" cy="650.7" r="2.35"/><circle cx="43.4" cy="672.9" r="2.35"/><circle cx="39.9" cy="658.7" r="2.35"/><circle cx="51.0" cy="681.5" r="2.35"/><circle cx="31.2" cy="651.2" r="2.35"/><circle cx="36.2" cy="664.3" r="2.35"/>
</g>
<g fill="#ff0000">
<circle cx="142.1" cy="541.0" r="2.35"/><circle cx="89.7" cy="552.1" r="2.35"/><circle cx="133.9" cy="559.8" r="2.35"/><circle cx="105.8" cy="565.8" r="2.35"/><circle cx="316.5" cy="542.2" r="2.35"/><circle cx="379.8" cy="470.7" r="2.35"/><circle cx="358.0" cy="487.9" r="2.35"/><circle cx="519.3" cy="475.5" r="2.35"/><circle cx="496.2" cy="487.1" r="2.35"/><circle cx="476.4" cy="499.3" r="2.35"/><circle cx="504.9" cy="508.5" r="2.35"/><circle cx="513.3" cy="516.7" r="2.35"/><circle cx="489.8" cy="522.9" r="2.35"/><circle cx="514.6" cy="525.8" r="2.35"/><circle cx="479.6" cy="529.8" r="2.35"/><circle cx="492.2" cy="534.0" r="2.35"/><circle cx="463.2" cy="536.0" r="2.35"/><circle cx="463.7" cy="538.7" r="2.35"/><circle cx="421.8" cy="538.5" r="2.35"/><circle cx="391.7" cy="543.2" r="2.35"/><circle cx="411.6" cy="544.5" r="2.35"/><circle cx="439.1" cy="541.7" r="2.35"/><circle cx="450.5" cy="544.5" r="2.35"/><circle cx="470.9" cy="548.7" r="2.35"/><circle cx="498.9" cy="549.7" r="2.35"/><circle cx="503.9" cy="553.1" r="2.35"/><circle cx="509.4" cy="556.9" r="2.35"/><circle cx="440.6" cy="555.1" r="2.35"/><circle cx="449.3" cy="561.8" r="2.35"/><circle cx="487.0" cy="566.8" r="2.35"/><circle cx="449.8" cy="570.5" r="2.35"/><circle cx="523.3" cy="556.1" r="2.35"/><circle cx="495.7" cy="571.8" r="2.35"/><circle cx="525.0" cy="488.6" r="2.35"/><circle cx="557.2" cy="475.5" r="2.35"/><circle cx="560.2" cy="481.7" r="2.35"/><circle cx="576.3" cy="482.4" r="2.35"/><circle cx="613.0" cy="476.2" r="2.35"/><circle cx="526.9" cy="489.1" r="2.35"/><circle cx="606.1" cy="489.9" r="2.35"/><circle cx="601.9" cy="493.8" r="2.35"/><circle cx="563.4" cy="494.1" r="2.35"/><circle cx="566.4" cy="493.6" r="2.35"/><circle cx="580.3" cy="493.6" r="2.35"/><circle cx="552.2" cy="498.5" r="2.35"/><circle cx="555.5" cy="497.3" r="2.35"/><circle cx="567.6" cy="499.0" r="2.35"/><circle cx="581.3" cy="497.3" r="2.35"/><circle cx="590.7" cy="496.8" r="2.35"/><circle cx="593.2" cy="496.8" r="2.35"/><circle cx="580.0" cy="502.3" r="2.35"/><circle cx="583.2" cy="507.2" r="2.35"/><circle cx="557.7" cy="506.5" r="2.35"/><circle cx="567.1" cy="505.5" r="2.35"/><circle cx="564.6" cy="508.0" r="2.35"/><circle cx="615.0" cy="496.1" r="2.35"/><circle cx="622.5" cy="494.1" r="2.35"/><circle cx="608.8" cy="499.8" r="2.35"/><circle cx="610.5" cy="502.3" r="2.35"/><circle cx="616.3" cy="501.0" r="2.35"/><circle cx="623.5" cy="498.0" r="2.35"/><circle cx="621.7" cy="503.5" r="2.35"/><circle cx="625.9" cy="502.3" r="2.35"/><circle cx="627.9" cy="489.9" r="2.35"/><circle cx="630.4" cy="491.1" r="2.35"/><circle cx="632.9" cy="491.8" r="2.35"/><circle cx="629.2" cy="493.6" r="2.35"/><circle cx="631.6" cy="494.8" r="2.35"/><circle cx="634.1" cy="496.1" r="2.35"/><circle cx="636.6" cy="494.8" r="2.35"/><circle cx="639.1" cy="496.8" r="2.35"/><circle cx="630.4" cy="497.3" r="2.35"/><circle cx="627.9" cy="499.3" r="2.35"/><circle cx="634.1" cy="499.8" r="2.35"/><circle cx="635.4" cy="501.8" r="2.35"/><circle cx="644.1" cy="501.8" r="2.35"/><circle cx="626.7" cy="504.7" r="2.35"/><circle cx="627.9" cy="507.7" r="2.35"/><circle cx="642.3" cy="509.7" r="2.35"/><circle cx="531.1" cy="509.0" r="2.35"/><circle cx="538.6" cy="508.5" r="2.35"/><circle cx="596.9" cy="509.0" r="2.35"/><circle cx="602.4" cy="508.5" r="2.35"/><circle cx="613.8" cy="509.0" r="2.35"/><circle cx="608.8" cy="510.9" r="2.35"/><circle cx="606.8" cy="513.9" r="2.35"/><circle cx="614.3" cy="513.9" r="2.35"/><circle cx="593.2" cy="512.7" r="2.35"/><circle cx="595.7" cy="514.7" r="2.35"/><circle cx="587.0" cy="512.2" r="2.35"/><circle cx="585.2" cy="515.2" r="2.35"/><circle cx="534.4" cy="515.9" r="2.35"/><circle cx="538.6" cy="517.2" r="2.35"/><circle cx="543.0" cy="515.9" r="2.35"/><circle cx="542.3" cy="520.4" r="2.35"/><circle cx="554.7" cy="517.2" r="2.35"/><circle cx="560.4" cy="516.7" r="2.35"/><circle cx="554.0" cy="522.1" r="2.35"/><circle cx="564.6" cy="521.6" r="2.35"/><circle cx="529.4" cy="522.1" r="2.35"/><circle cx="532.9" cy="521.4" r="2.35"/><circle cx="580.8" cy="517.9" r="2.35"/><circle cx="582.0" cy="519.6" r="2.35"/><circle cx="584.0" cy="518.9" r="2.35"/><circle cx="583.2" cy="521.4" r="2.35"/><circle cx="589.5" cy="522.1" r="2.35"/><circle cx="603.8" cy="518.4" r="2.35"/><circle cx="610.5" cy="520.9" r="2.35"/><circle cx="618.7" cy="524.6" r="2.35"/><circle cx="608.6" cy="527.6" r="2.35"/><circle cx="640.8" cy="522.6" r="2.35"/><circle cx="634.9" cy="524.6" r="2.35"/><circle cx="539.1" cy="525.8" r="2.35"/><circle cx="536.6" cy="528.8" r="2.35"/><circle cx="527.9" cy="528.3" r="2.35"/><circle cx="568.4" cy="527.6" r="2.35"/><circle cx="565.4" cy="529.6" r="2.35"/><circle cx="585.7" cy="530.8" r="2.35"/><circle cx="582.5" cy="535.0" r="2.35"/><circle cx="574.1" cy="537.0" r="2.35"/><circle cx="560.9" cy="535.3" r="2.35"/><circle cx="555.5" cy="537.5" r="2.35"/><circle cx="546.0" cy="534.0" r="2.35"/><circle cx="539.1" cy="537.0" r="2.35"/><circle cx="632.9" cy="533.3" r="2.35"/><circle cx="617.2" cy="537.0" r="2.35"/><circle cx="655.2" cy="539.5" r="2.35"/><circle cx="600.1" cy="541.5" r="2.35"/><circle cx="604.3" cy="545.7" r="2.35"/><circle cx="554.7" cy="543.2" r="2.35"/><circle cx="583.2" cy="543.7" r="2.35"/><circle cx="581.3" cy="545.2" r="2.35"/><circle cx="635.4" cy="545.7" r="2.35"/><circle cx="644.5" cy="549.9" r="2.35"/><circle cx="630.4" cy="551.4" r="2.35"/><circle cx="635.9" cy="553.1" r="2.35"/><circle cx="639.1" cy="553.9" r="2.35"/><circle cx="618.7" cy="553.1" r="2.35"/><circle cx="620.5" cy="556.4" r="2.35"/><circle cx="627.9" cy="558.6" r="2.35"/><circle cx="631.6" cy="560.6" r="2.35"/><circle cx="614.3" cy="557.4" r="2.35"/><circle cx="607.6" cy="556.4" r="2.35"/><circle cx="610.5" cy="561.3" r="2.35"/><circle cx="604.8" cy="562.3" r="2.35"/><circle cx="611.3" cy="565.5" r="2.35"/><circle cx="541.8" cy="548.7" r="2.35"/><circle cx="544.3" cy="553.1" r="2.35"/><circle cx="542.8" cy="555.6" r="2.35"/><circle cx="545.3" cy="555.6" r="2.35"/><circle cx="531.9" cy="559.8" r="2.35"/><circle cx="538.6" cy="563.8" r="2.35"/><circle cx="536.1" cy="565.5" r="2.35"/><circle cx="527.4" cy="567.5" r="2.35"/><circle cx="551.0" cy="563.1" r="2.35"/><circle cx="549.0" cy="568.8" r="2.35"/><circle cx="561.4" cy="556.9" r="2.35"/><circle cx="569.1" cy="554.4" r="2.35"/><circle cx="567.9" cy="558.8" r="2.35"/><circle cx="580.8" cy="552.4" r="2.35"/><circle cx="580.0" cy="554.4" r="2.35"/><circle cx="578.3" cy="558.1" r="2.35"/><circle cx="584.0" cy="559.3" r="2.35"/><circle cx="587.0" cy="561.3" r="2.35"/><circle cx="590.2" cy="563.8" r="2.35"/><circle cx="594.4" cy="557.6" r="2.35"/><circle cx="580.0" cy="565.1" r="2.35"/><circle cx="580.0" cy="568.0" r="2.35"/><circle cx="594.4" cy="570.5" r="2.35"/><circle cx="619.2" cy="570.5" r="2.35"/><circle cx="128.3" cy="604.0" r="2.35"/><circle cx="255.7" cy="576.5" r="2.35"/><circle cx="228.4" cy="595.8" r="2.35"/><circle cx="328.4" cy="643.5" r="2.35"/><circle cx="350.0" cy="652.2" r="2.35"/><circle cx="286.3" cy="673.3" r="2.35"/><circle cx="362.9" cy="580.2" r="2.35"/><circle cx="416.1" cy="581.4" r="2.35"/><circle cx="435.2" cy="580.9" r="2.35"/><circle cx="441.1" cy="574.7" r="2.35"/><circle cx="449.8" cy="572.0" r="2.35"/><circle cx="409.1" cy="589.4" r="2.35"/><circle cx="409.1" cy="592.6" r="2.35"/><circle cx="453.0" cy="596.6" r="2.35"/><circle cx="417.0" cy="609.7" r="2.35"/><circle cx="442.1" cy="608.0" r="2.35"/><circle cx="450.1" cy="613.4" r="2.35"/><circle cx="458.0" cy="615.7" r="2.35"/><circle cx="463.2" cy="616.9" r="2.35"/><circle cx="442.4" cy="622.4" r="2.35"/><circle cx="368.2" cy="630.1" r="2.35"/><circle cx="386.5" cy="632.8" r="2.35"/><circle cx="394.2" cy="630.6" r="2.35"/><circle cx="404.1" cy="634.0" r="2.35"/><circle cx="406.4" cy="662.6" r="2.35"/><circle cx="495.2" cy="573.2" r="2.35"/><circle cx="500.9" cy="577.0" r="2.35"/><circle cx="495.2" cy="585.2" r="2.35"/><circle cx="503.4" cy="589.6" r="2.35"/><circle cx="495.7" cy="592.1" r="2.35"/><circle cx="486.5" cy="593.1" r="2.35"/><circle cx="485.3" cy="596.3" r="2.35"/><circle cx="473.4" cy="597.8" r="2.35"/><circle cx="479.1" cy="599.3" r="2.35"/><circle cx="489.8" cy="601.5" r="2.35"/><circle cx="479.8" cy="606.0" r="2.35"/><circle cx="520.0" cy="573.2" r="2.35"/><circle cx="523.8" cy="575.0" r="2.35"/><circle cx="520.8" cy="578.9" r="2.35"/><circle cx="518.3" cy="580.7" r="2.35"/><circle cx="518.3" cy="589.9" r="2.35"/><circle cx="511.4" cy="597.6" r="2.35"/><circle cx="525.0" cy="597.6" r="2.35"/><circle cx="505.1" cy="604.8" r="2.35"/><circle cx="513.1" cy="604.5" r="2.35"/><circle cx="523.3" cy="603.5" r="2.35"/><circle cx="523.8" cy="606.7" r="2.35"/><circle cx="504.4" cy="612.5" r="2.35"/><circle cx="502.7" cy="617.9" r="2.35"/><circle cx="486.5" cy="617.2" r="2.35"/><circle cx="503.2" cy="622.9" r="2.35"/><circle cx="510.1" cy="622.4" r="2.35"/><circle cx="498.9" cy="626.1" r="2.35"/><circle cx="507.6" cy="629.1" r="2.35"/><circle cx="512.6" cy="627.3" r="2.35"/><circle cx="513.8" cy="631.6" r="2.35"/><circle cx="518.8" cy="624.9" r="2.35"/><circle cx="521.8" cy="622.4" r="2.35"/><circle cx="525.0" cy="614.2" r="2.35"/><circle cx="485.8" cy="629.3" r="2.35"/><circle cx="463.0" cy="634.0" r="2.35"/><circle cx="472.1" cy="634.8" r="2.35"/><circle cx="480.3" cy="637.0" r="2.35"/><circle cx="485.3" cy="642.7" r="2.35"/><circle cx="493.5" cy="642.2" r="2.35"/><circle cx="498.2" cy="640.7" r="2.35"/><circle cx="506.4" cy="638.3" r="2.35"/><circle cx="508.4" cy="641.5" r="2.35"/><circle cx="512.1" cy="647.2" r="2.35"/><circle cx="514.1" cy="648.2" r="2.35"/><circle cx="525.0" cy="646.5" r="2.35"/><circle cx="444.3" cy="653.6" r="2.35"/><circle cx="459.2" cy="653.4" r="2.35"/><circle cx="456.8" cy="656.4" r="2.35"/><circle cx="455.0" cy="660.8" r="2.35"/><circle cx="471.6" cy="657.6" r="2.35"/><circle cx="482.1" cy="655.4" r="2.35"/><circle cx="481.1" cy="660.8" r="2.35"/><circle cx="502.2" cy="659.6" r="2.35"/><circle cx="507.6" cy="658.6" r="2.35"/><circle cx="449.3" cy="666.8" r="2.35"/><circle cx="456.3" cy="667.8" r="2.35"/><circle cx="489.8" cy="670.0" r="2.35"/><circle cx="486.5" cy="672.0" r="2.35"/><circle cx="492.7" cy="672.5" r="2.35"/><circle cx="515.1" cy="668.8" r="2.35"/><circle cx="528.6" cy="575.7" r="2.35"/><circle cx="529.1" cy="580.7" r="2.35"/><circle cx="544.8" cy="577.5" r="2.35"/><circle cx="548.5" cy="574.0" r="2.35"/><circle cx="554.7" cy="578.2" r="2.35"/><circle cx="558.9" cy="576.5" r="2.35"/><circle cx="555.9" cy="583.2" r="2.35"/><circle cx="573.3" cy="576.5" r="2.35"/><circle cx="593.9" cy="572.0" r="2.35"/><circle cx="619.2" cy="572.7" r="2.35"/><circle cx="640.3" cy="575.2" r="2.35"/><circle cx="624.2" cy="580.7" r="2.35"/><circle cx="625.4" cy="582.4" r="2.35"/><circle cx="639.8" cy="584.9" r="2.35"/><circle cx="637.8" cy="586.4" r="2.35"/><circle cx="656.5" cy="584.9" r="2.35"/><circle cx="666.4" cy="584.4" r="2.35"/><circle cx="542.3" cy="588.1" r="2.35"/><circle cx="533.6" cy="591.4" r="2.35"/><circle cx="536.8" cy="589.9" r="2.35"/><circle cx="538.6" cy="593.1" r="2.35"/><circle cx="535.4" cy="598.1" r="2.35"/><circle cx="527.9" cy="599.3" r="2.35"/><circle cx="529.9" cy="603.0" r="2.35"/><circle cx="569.6" cy="589.9" r="2.35"/><circle cx="575.3" cy="587.6" r="2.35"/><circle cx="560.9" cy="593.1" r="2.35"/><circle cx="564.6" cy="594.3" r="2.35"/><circle cx="557.2" cy="596.1" r="2.35"/><circle cx="588.7" cy="586.4" r="2.35"/><circle cx="591.9" cy="590.6" r="2.35"/><circle cx="595.7" cy="588.6" r="2.35"/><circle cx="599.4" cy="588.9" r="2.35"/><circle cx="592.7" cy="596.1" r="2.35"/><circle cx="598.9" cy="596.3" r="2.35"/><circle cx="611.3" cy="592.6" r="2.35"/><circle cx="607.6" cy="596.1" r="2.35"/><circle cx="620.5" cy="594.8" r="2.35"/><circle cx="625.9" cy="598.1" r="2.35"/><circle cx="631.1" cy="588.9" r="2.35"/><circle cx="646.5" cy="598.1" r="2.35"/><circle cx="656.0" cy="596.8" r="2.35"/><circle cx="647.3" cy="602.3" r="2.35"/><circle cx="670.1" cy="601.8" r="2.35"/><circle cx="526.2" cy="606.7" r="2.35"/><circle cx="532.4" cy="605.5" r="2.35"/><circle cx="540.6" cy="606.7" r="2.35"/><circle cx="542.3" cy="609.2" r="2.35"/><circle cx="546.0" cy="605.5" r="2.35"/><circle cx="548.5" cy="609.7" r="2.35"/><circle cx="550.2" cy="610.5" r="2.35"/><circle cx="553.5" cy="602.5" r="2.35"/><circle cx="566.4" cy="603.8" r="2.35"/><circle cx="577.0" cy="605.0" r="2.35"/><circle cx="587.7" cy="605.5" r="2.35"/><circle cx="532.9" cy="611.7" r="2.35"/><circle cx="526.2" cy="614.7" r="2.35"/><circle cx="556.4" cy="614.2" r="2.35"/><circle cx="558.4" cy="616.7" r="2.35"/><circle cx="562.2" cy="617.9" r="2.35"/><circle cx="568.9" cy="612.5" r="2.35"/><circle cx="571.6" cy="611.2" r="2.35"/><circle cx="577.0" cy="617.9" r="2.35"/><circle cx="608.8" cy="611.7" r="2.35"/><circle cx="611.8" cy="609.7" r="2.35"/><circle cx="610.1" cy="616.2" r="2.35"/><circle cx="624.9" cy="608.0" r="2.35"/><circle cx="633.4" cy="609.7" r="2.35"/><circle cx="618.7" cy="615.9" r="2.35"/><circle cx="595.2" cy="616.2" r="2.35"/><circle cx="589.5" cy="619.2" r="2.35"/><circle cx="590.7" cy="621.6" r="2.35"/><circle cx="647.8" cy="616.7" r="2.35"/><circle cx="649.8" cy="620.4" r="2.35"/><circle cx="663.9" cy="609.7" r="2.35"/><circle cx="546.5" cy="618.7" r="2.35"/><circle cx="560.4" cy="620.4" r="2.35"/><circle cx="562.2" cy="624.1" r="2.35"/><circle cx="563.4" cy="626.6" r="2.35"/><circle cx="553.0" cy="626.1" r="2.35"/><circle cx="572.1" cy="624.1" r="2.35"/><circle cx="579.0" cy="627.1" r="2.35"/><circle cx="541.1" cy="630.3" r="2.35"/><circle cx="551.5" cy="633.3" r="2.35"/><circle cx="570.1" cy="631.1" r="2.35"/><circle cx="573.3" cy="630.8" r="2.35"/><circle cx="610.1" cy="622.4" r="2.35"/><circle cx="598.1" cy="627.1" r="2.35"/><circle cx="605.6" cy="629.1" r="2.35"/><circle cx="619.2" cy="624.6" r="2.35"/><circle cx="632.9" cy="623.4" r="2.35"/><circle cx="632.4" cy="628.6" r="2.35"/><circle cx="633.4" cy="631.6" r="2.35"/><circle cx="644.5" cy="623.6" r="2.35"/><circle cx="655.7" cy="624.9" r="2.35"/><circle cx="655.7" cy="627.8" r="2.35"/><circle cx="668.9" cy="625.4" r="2.35"/><circle cx="670.9" cy="631.6" r="2.35"/><circle cx="678.1" cy="631.1" r="2.35"/><circle cx="587.7" cy="632.8" r="2.35"/><circle cx="593.2" cy="630.8" r="2.35"/><circle cx="596.9" cy="634.0" r="2.35"/><circle cx="595.7" cy="636.5" r="2.35"/><circle cx="592.4" cy="637.8" r="2.35"/><circle cx="591.4" cy="639.0" r="2.35"/><circle cx="534.4" cy="637.8" r="2.35"/><circle cx="562.2" cy="637.8" r="2.35"/><circle cx="568.4" cy="637.8" r="2.35"/><circle cx="604.3" cy="637.0" r="2.35"/><circle cx="607.3" cy="639.0" r="2.35"/><circle cx="610.1" cy="642.7" r="2.35"/><circle cx="614.3" cy="636.0" r="2.35"/><circle cx="615.0" cy="642.2" r="2.35"/><circle cx="616.8" cy="637.8" r="2.35"/><circle cx="620.5" cy="636.5" r="2.35"/><circle cx="623.0" cy="634.0" r="2.35"/><circle cx="624.2" cy="639.0" r="2.35"/><circle cx="618.7" cy="644.0" r="2.35"/><circle cx="626.2" cy="641.5" r="2.35"/><circle cx="627.9" cy="644.0" r="2.35"/><circle cx="651.0" cy="638.5" r="2.35"/><circle cx="651.5" cy="642.2" r="2.35"/><circle cx="662.2" cy="637.8" r="2.35"/><circle cx="578.3" cy="644.0" r="2.35"/><circle cx="579.0" cy="647.7" r="2.35"/><circle cx="580.8" cy="648.9" r="2.35"/><circle cx="593.2" cy="644.7" r="2.35"/><circle cx="598.1" cy="645.7" r="2.35"/><circle cx="600.6" cy="644.0" r="2.35"/><circle cx="526.7" cy="646.5" r="2.35"/><circle cx="534.1" cy="646.5" r="2.35"/><circle cx="539.8" cy="649.4" r="2.35"/><circle cx="553.5" cy="651.4" r="2.35"/><circle cx="555.5" cy="655.1" r="2.35"/><circle cx="561.4" cy="653.2" r="2.35"/><circle cx="631.6" cy="646.5" r="2.35"/><circle cx="635.9" cy="646.0" r="2.35"/><circle cx="633.4" cy="649.4" r="2.35"/><circle cx="631.6" cy="651.4" r="2.35"/><circle cx="645.8" cy="649.4" r="2.35"/><circle cx="680.8" cy="647.2" r="2.35"/><circle cx="617.5" cy="650.2" r="2.35"/><circle cx="619.2" cy="653.9" r="2.35"/><circle cx="610.5" cy="650.9" r="2.35"/><circle cx="605.6" cy="655.1" r="2.35"/><circle cx="539.8" cy="657.6" r="2.35"/><circle cx="538.6" cy="662.1" r="2.35"/><circle cx="541.1" cy="663.3" r="2.35"/><circle cx="544.3" cy="663.1" r="2.35"/><circle cx="531.9" cy="666.3" r="2.35"/><circle cx="536.8" cy="665.8" r="2.35"/><circle cx="555.9" cy="657.6" r="2.35"/><circle cx="567.1" cy="657.1" r="2.35"/><circle cx="573.8" cy="655.9" r="2.35"/><circle cx="582.5" cy="657.6" r="2.35"/><circle cx="584.5" cy="662.1" r="2.35"/><circle cx="580.3" cy="666.8" r="2.35"/><circle cx="557.2" cy="665.1" r="2.35"/><circle cx="554.7" cy="666.3" r="2.35"/><circle cx="543.5" cy="671.3" r="2.35"/><circle cx="551.0" cy="671.3" r="2.35"/><circle cx="560.9" cy="673.8" r="2.35"/><circle cx="587.0" cy="671.3" r="2.35"/><circle cx="594.4" cy="672.5" r="2.35"/><circle cx="601.9" cy="666.3" r="2.35"/><circle cx="606.1" cy="666.3" r="2.35"/><circle cx="613.8" cy="659.4" r="2.35"/><circle cx="620.5" cy="656.4" r="2.35"/><circle cx="625.4" cy="657.6" r="2.35"/><circle cx="627.9" cy="660.1" r="2.35"/><circle cx="629.9" cy="662.6" r="2.35"/><circle cx="635.4" cy="655.1" r="2.35"/><circle cx="636.6" cy="662.6" r="2.35"/><circle cx="632.9" cy="665.1" r="2.35"/><circle cx="631.6" cy="667.5" r="2.35"/><circle cx="636.6" cy="666.3" r="2.35"/><circle cx="639.1" cy="668.8" r="2.35"/><circle cx="642.3" cy="663.3" r="2.35"/><circle cx="649.0" cy="661.3" r="2.35"/><circle cx="677.6" cy="659.6" r="2.35"/><circle cx="663.2" cy="669.5" r="2.35"/><circle cx="620.5" cy="673.8" r="2.35"/><circle cx="625.4" cy="673.8" r="2.35"/><circle cx="529.9" cy="673.8" r="2.35"/><circle cx="157.9" cy="761.9" r="2.35"/><circle cx="251.0" cy="721.9" r="2.35"/><circle cx="261.4" cy="720.9" r="2.35"/><circle cx="315.8" cy="723.4" r="2.35"/><circle cx="312.3" cy="743.7" r="2.35"/><circle cx="270.4" cy="759.1" r="2.35"/><circle cx="409.1" cy="683.4" r="2.35"/><circle cx="448.6" cy="684.2" r="2.35"/><circle cx="358.0" cy="701.1" r="2.35"/><circle cx="378.3" cy="711.7" r="2.35"/><circle cx="357.5" cy="734.3" r="2.35"/><circle cx="364.2" cy="741.0" r="2.35"/><circle cx="400.7" cy="723.4" r="2.35"/><circle cx="424.2" cy="725.9" r="2.35"/><circle cx="429.9" cy="730.8" r="2.35"/><circle cx="432.4" cy="701.1" r="2.35"/><circle cx="435.9" cy="703.0" r="2.35"/><circle cx="453.8" cy="699.8" r="2.35"/><circle cx="444.8" cy="712.0" r="2.35"/><circle cx="453.8" cy="714.5" r="2.35"/><circle cx="459.7" cy="722.4" r="2.35"/><circle cx="448.8" cy="728.1" r="2.35"/><circle cx="434.2" cy="758.1" r="2.35"/><circle cx="440.4" cy="758.4" r="2.35"/><circle cx="400.7" cy="762.6" r="2.35"/><circle cx="407.1" cy="767.3" r="2.35"/><circle cx="447.8" cy="774.5" r="2.35"/><circle cx="477.8" cy="677.0" r="2.35"/><circle cx="465.9" cy="680.7" r="2.35"/><circle cx="467.2" cy="684.7" r="2.35"/><circle cx="470.9" cy="686.9" r="2.35"/><circle cx="466.7" cy="690.6" r="2.35"/><circle cx="474.1" cy="691.4" r="2.35"/><circle cx="479.1" cy="686.9" r="2.35"/><circle cx="480.3" cy="685.2" r="2.35"/><circle cx="484.8" cy="684.4" r="2.35"/><circle cx="489.0" cy="682.7" r="2.35"/><circle cx="492.0" cy="679.0" r="2.35"/><circle cx="486.5" cy="688.9" r="2.35"/><circle cx="486.5" cy="691.4" r="2.35"/><circle cx="492.2" cy="693.1" r="2.35"/><circle cx="496.5" cy="691.4" r="2.35"/><circle cx="498.9" cy="688.4" r="2.35"/><circle cx="503.9" cy="685.2" r="2.35"/><circle cx="505.1" cy="682.7" r="2.35"/><circle cx="509.6" cy="678.5" r="2.35"/><circle cx="520.5" cy="685.9" r="2.35"/><circle cx="525.0" cy="676.5" r="2.35"/><circle cx="501.4" cy="693.9" r="2.35"/><circle cx="505.1" cy="695.8" r="2.35"/><circle cx="503.2" cy="700.1" r="2.35"/><circle cx="506.9" cy="699.6" r="2.35"/><circle cx="508.1" cy="703.3" r="2.35"/><circle cx="513.1" cy="705.5" r="2.35"/><circle cx="511.4" cy="709.5" r="2.35"/><circle cx="508.9" cy="712.5" r="2.35"/><circle cx="507.6" cy="713.7" r="2.35"/><circle cx="518.1" cy="708.7" r="2.35"/><circle cx="518.8" cy="697.6" r="2.35"/><circle cx="521.3" cy="698.8" r="2.35"/><circle cx="523.8" cy="703.3" r="2.35"/><circle cx="491.7" cy="698.8" r="2.35"/><circle cx="474.1" cy="700.1" r="2.35"/><circle cx="486.5" cy="713.2" r="2.35"/><circle cx="493.5" cy="712.5" r="2.35"/><circle cx="482.8" cy="716.7" r="2.35"/><circle cx="485.3" cy="719.9" r="2.35"/><circle cx="501.4" cy="715.7" r="2.35"/><circle cx="507.6" cy="718.7" r="2.35"/><circle cx="517.6" cy="719.9" r="2.35"/><circle cx="521.3" cy="714.9" r="2.35"/><circle cx="525.0" cy="714.9" r="2.35"/><circle cx="525.0" cy="726.1" r="2.35"/><circle cx="477.4" cy="728.1" r="2.35"/><circle cx="488.0" cy="730.3" r="2.35"/><circle cx="493.5" cy="726.9" r="2.35"/><circle cx="494.7" cy="728.6" r="2.35"/><circle cx="496.5" cy="733.6" r="2.35"/><circle cx="499.4" cy="732.3" r="2.35"/><circle cx="502.2" cy="731.1" r="2.35"/><circle cx="512.1" cy="735.5" r="2.35"/><circle cx="512.6" cy="738.5" r="2.35"/><circle cx="512.6" cy="744.7" r="2.35"/><circle cx="495.2" cy="741.0" r="2.35"/><circle cx="479.6" cy="746.5" r="2.35"/><circle cx="523.3" cy="749.7" r="2.35"/><circle cx="494.0" cy="759.1" r="2.35"/><circle cx="502.2" cy="766.1" r="2.35"/><circle cx="520.5" cy="771.5" r="2.35"/><circle cx="525.0" cy="769.5" r="2.35"/><circle cx="526.2" cy="676.5" r="2.35"/><circle cx="529.9" cy="675.9" r="2.35"/><circle cx="552.8" cy="675.2" r="2.35"/><circle cx="560.9" cy="675.9" r="2.35"/><circle cx="567.5" cy="679.6" r="2.35"/><circle cx="569.6" cy="680.8" r="2.35"/><circle cx="579.8" cy="679.0" r="2.35"/><circle cx="574.2" cy="684.2" r="2.35"/><circle cx="590.7" cy="682.9" r="2.35"/><circle cx="600.0" cy="678.3" r="2.35"/><circle cx="595.7" cy="674.6" r="2.35"/><circle cx="537.1" cy="685.4" r="2.35"/><circle cx="537.0" cy="689.5" r="2.35"/><circle cx="538.9" cy="693.5" r="2.35"/><circle cx="530.1" cy="695.1" r="2.35"/><circle cx="545.4" cy="692.9" r="2.35"/><circle cx="547.0" cy="694.5" r="2.35"/><circle cx="548.8" cy="696.7" r="2.35"/><circle cx="554.1" cy="690.1" r="2.35"/><circle cx="558.4" cy="690.5" r="2.35"/><circle cx="563.4" cy="691.4" r="2.35"/><circle cx="555.3" cy="698.8" r="2.35"/><circle cx="559.4" cy="699.7" r="2.35"/><circle cx="565.5" cy="698.4" r="2.35"/><circle cx="567.5" cy="702.3" r="2.35"/><circle cx="570.5" cy="697.0" r="2.35"/><circle cx="575.8" cy="697.9" r="2.35"/><circle cx="577.7" cy="690.8" r="2.35"/><circle cx="582.6" cy="690.8" r="2.35"/><circle cx="585.1" cy="689.1" r="2.35"/><circle cx="585.7" cy="692.0" r="2.35"/><circle cx="583.9" cy="694.5" r="2.35"/><circle cx="583.5" cy="699.8" r="2.35"/><circle cx="591.6" cy="692.6" r="2.35"/><circle cx="589.1" cy="701.1" r="2.35"/><circle cx="595.7" cy="686.0" r="2.35"/><circle cx="597.5" cy="684.9" r="2.35"/><circle cx="596.9" cy="689.5" r="2.35"/><circle cx="599.4" cy="692.0" r="2.35"/><circle cx="573.3" cy="704.2" r="2.35"/><circle cx="575.8" cy="703.2" r="2.35"/><circle cx="578.3" cy="705.0" r="2.35"/><circle cx="572.1" cy="706.9" r="2.35"/><circle cx="575.2" cy="708.1" r="2.35"/><circle cx="577.0" cy="710.0" r="2.35"/><circle cx="579.5" cy="708.1" r="2.35"/><circle cx="582.0" cy="711.6" r="2.35"/><circle cx="570.5" cy="711.0" r="2.35"/><circle cx="564.9" cy="709.1" r="2.35"/><circle cx="586.1" cy="707.1" r="2.35"/><circle cx="588.2" cy="711.8" r="2.35"/><circle cx="590.4" cy="714.3" r="2.35"/><circle cx="593.2" cy="714.9" r="2.35"/><circle cx="525.9" cy="714.7" r="2.35"/><circle cx="546.3" cy="713.1" r="2.35"/><circle cx="542.7" cy="718.1" r="2.35"/><circle cx="544.8" cy="720.5" r="2.35"/><circle cx="553.7" cy="714.9" r="2.35"/><circle cx="556.6" cy="716.8" r="2.35"/><circle cx="559.7" cy="716.2" r="2.35"/><circle cx="564.6" cy="716.2" r="2.35"/><circle cx="568.1" cy="716.2" r="2.35"/><circle cx="579.2" cy="715.6" r="2.35"/><circle cx="552.2" cy="724.3" r="2.35"/><circle cx="544.8" cy="723.6" r="2.35"/><circle cx="571.5" cy="721.8" r="2.35"/><circle cx="573.9" cy="720.5" r="2.35"/><circle cx="576.4" cy="722.4" r="2.35"/><circle cx="579.5" cy="721.8" r="2.35"/><circle cx="569.0" cy="723.0" r="2.35"/><circle cx="596.9" cy="709.4" r="2.35"/><circle cx="598.1" cy="706.9" r="2.35"/><circle cx="600.0" cy="701.9" r="2.35"/><circle cx="595.7" cy="721.8" r="2.35"/><circle cx="594.4" cy="714.3" r="2.35"/><circle cx="524.9" cy="724.9" r="2.35"/><circle cx="600.6" cy="677.7" r="2.35"/><circle cx="613.9" cy="678.1" r="2.35"/><circle cx="616.8" cy="679.2" r="2.35"/><circle cx="621.1" cy="674.6" r="2.35"/><circle cx="626.7" cy="674.6" r="2.35"/><circle cx="626.1" cy="681.7" r="2.35"/><circle cx="637.2" cy="677.1" r="2.35"/><circle cx="640.3" cy="678.7" r="2.35"/><circle cx="641.8" cy="680.2" r="2.35"/><circle cx="646.5" cy="680.8" r="2.35"/><circle cx="653.6" cy="675.0" r="2.35"/><circle cx="655.8" cy="678.3" r="2.35"/><circle cx="662.7" cy="677.1" r="2.35"/><circle cx="652.1" cy="683.3" r="2.35"/><circle cx="659.6" cy="682.9" r="2.35"/><circle cx="604.1" cy="682.9" r="2.35"/><circle cx="603.1" cy="686.2" r="2.35"/><circle cx="609.9" cy="686.2" r="2.35"/><circle cx="612.4" cy="688.3" r="2.35"/><circle cx="613.0" cy="690.1" r="2.35"/><circle cx="615.1" cy="691.4" r="2.35"/><circle cx="607.1" cy="691.7" r="2.35"/><circle cx="618.6" cy="694.8" r="2.35"/><circle cx="601.2" cy="693.9" r="2.35"/><circle cx="601.9" cy="697.6" r="2.35"/><circle cx="623.8" cy="689.1" r="2.35"/><circle cx="630.4" cy="690.4" r="2.35"/><circle cx="634.1" cy="686.2" r="2.35"/><circle cx="636.6" cy="689.9" r="2.35"/><circle cx="644.9" cy="686.8" r="2.35"/><circle cx="639.7" cy="691.4" r="2.35"/><circle cx="642.8" cy="690.8" r="2.35"/><circle cx="640.3" cy="693.9" r="2.35"/><circle cx="645.9" cy="693.9" r="2.35"/><circle cx="647.2" cy="697.0" r="2.35"/><circle cx="636.2" cy="697.2" r="2.35"/><circle cx="650.9" cy="691.7" r="2.35"/><circle cx="659.6" cy="687.6" r="2.35"/><circle cx="662.7" cy="688.9" r="2.35"/><circle cx="657.7" cy="692.0" r="2.35"/><circle cx="664.5" cy="691.4" r="2.35"/><circle cx="667.6" cy="693.6" r="2.35"/><circle cx="673.6" cy="689.1" r="2.35"/><circle cx="679.0" cy="688.0" r="2.35"/><circle cx="657.5" cy="698.2" r="2.35"/><circle cx="659.9" cy="698.2" r="2.35"/><circle cx="606.8" cy="697.0" r="2.35"/><circle cx="609.3" cy="697.0" r="2.35"/><circle cx="613.6" cy="697.0" r="2.35"/><circle cx="607.4" cy="700.1" r="2.35"/><circle cx="610.5" cy="700.7" r="2.35"/><circle cx="609.3" cy="703.8" r="2.35"/><circle cx="605.6" cy="706.5" r="2.35"/><circle cx="622.3" cy="697.0" r="2.35"/><circle cx="622.6" cy="699.4" r="2.35"/><circle cx="622.3" cy="704.6" r="2.35"/><circle cx="643.4" cy="700.4" r="2.35"/><circle cx="639.7" cy="701.9" r="2.35"/><circle cx="640.9" cy="707.5" r="2.35"/><circle cx="650.0" cy="704.2" r="2.35"/><circle cx="656.5" cy="704.6" r="2.35"/><circle cx="654.0" cy="706.9" r="2.35"/><circle cx="650.9" cy="710.0" r="2.35"/><circle cx="629.4" cy="706.3" r="2.35"/><circle cx="627.3" cy="710.0" r="2.35"/><circle cx="614.9" cy="710.2" r="2.35"/><circle cx="603.5" cy="711.8" r="2.35"/><circle cx="605.0" cy="714.9" r="2.35"/><circle cx="610.2" cy="713.5" r="2.35"/><circle cx="619.9" cy="716.2" r="2.35"/><circle cx="632.9" cy="714.0" r="2.35"/><circle cx="643.4" cy="715.8" r="2.35"/><circle cx="658.3" cy="712.8" r="2.35"/><circle cx="669.5" cy="718.1" r="2.35"/><circle cx="601.9" cy="721.8" r="2.35"/><circle cx="605.0" cy="722.4" r="2.35"/><circle cx="609.9" cy="721.8" r="2.35"/><circle cx="623.2" cy="723.6" r="2.35"/><circle cx="637.8" cy="723.6" r="2.35"/><circle cx="642.8" cy="723.6" r="2.35"/><circle cx="658.1" cy="722.4" r="2.35"/><circle cx="537.1" cy="729.0" r="2.35"/><circle cx="540.2" cy="733.4" r="2.35"/><circle cx="534.2" cy="734.9" r="2.35"/><circle cx="536.7" cy="736.8" r="2.35"/><circle cx="533.6" cy="742.4" r="2.35"/><circle cx="538.8" cy="743.0" r="2.35"/><circle cx="547.0" cy="739.3" r="2.35"/><circle cx="547.3" cy="741.8" r="2.35"/><circle cx="544.8" cy="725.0" r="2.35"/><circle cx="551.6" cy="726.9" r="2.35"/><circle cx="554.7" cy="726.2" r="2.35"/><circle cx="558.4" cy="726.9" r="2.35"/><circle cx="555.1" cy="729.3" r="2.35"/><circle cx="565.9" cy="728.1" r="2.35"/><circle cx="574.6" cy="725.0" r="2.35"/><circle cx="581.4" cy="728.1" r="2.35"/><circle cx="585.7" cy="728.1" r="2.35"/><circle cx="588.8" cy="727.7" r="2.35"/><circle cx="596.9" cy="725.6" r="2.35"/><circle cx="553.5" cy="734.9" r="2.35"/><circle cx="557.2" cy="736.2" r="2.35"/><circle cx="559.4" cy="733.9" r="2.35"/><circle cx="568.1" cy="735.8" r="2.35"/><circle cx="574.6" cy="735.5" r="2.35"/><circle cx="578.5" cy="735.5" r="2.35"/><circle cx="582.9" cy="733.7" r="2.35"/><circle cx="582.9" cy="738.6" r="2.35"/><circle cx="591.9" cy="733.1" r="2.35"/><circle cx="596.3" cy="733.7" r="2.35"/><circle cx="593.8" cy="736.8" r="2.35"/><circle cx="595.7" cy="738.0" r="2.35"/><circle cx="593.8" cy="740.5" r="2.35"/><circle cx="588.5" cy="741.8" r="2.35"/><circle cx="553.2" cy="742.4" r="2.35"/><circle cx="556.6" cy="744.2" r="2.35"/><circle cx="553.7" cy="746.1" r="2.35"/><circle cx="561.9" cy="744.6" r="2.35"/><circle cx="566.2" cy="745.2" r="2.35"/><circle cx="556.2" cy="750.8" r="2.35"/><circle cx="562.4" cy="751.3" r="2.35"/><circle cx="577.3" cy="747.7" r="2.35"/><circle cx="580.5" cy="747.0" r="2.35"/><circle cx="585.5" cy="747.7" r="2.35"/><circle cx="579.3" cy="750.4" r="2.35"/><circle cx="578.3" cy="753.5" r="2.35"/><circle cx="530.5" cy="759.7" r="2.35"/><circle cx="541.9" cy="759.5" r="2.35"/><circle cx="545.8" cy="763.1" r="2.35"/><circle cx="563.8" cy="761.9" r="2.35"/><circle cx="574.6" cy="760.7" r="2.35"/><circle cx="573.7" cy="764.5" r="2.35"/><circle cx="588.2" cy="761.9" r="2.35"/><circle cx="557.8" cy="766.6" r="2.35"/><circle cx="527.0" cy="769.9" r="2.35"/><circle cx="532.0" cy="773.4" r="2.35"/><circle cx="544.8" cy="770.3" r="2.35"/><circle cx="546.3" cy="770.3" r="2.35"/><circle cx="565.5" cy="770.9" r="2.35"/><circle cx="568.1" cy="773.1" r="2.35"/><circle cx="544.2" cy="775.6" r="2.35"/><circle cx="604.3" cy="726.9" r="2.35"/><circle cx="623.2" cy="725.0" r="2.35"/><circle cx="637.8" cy="725.0" r="2.35"/><circle cx="642.8" cy="725.0" r="2.35"/><circle cx="657.9" cy="728.7" r="2.35"/><circle cx="608.9" cy="733.7" r="2.35"/><circle cx="618.6" cy="732.2" r="2.35"/><circle cx="618.9" cy="734.3" r="2.35"/><circle cx="625.4" cy="731.2" r="2.35"/><circle cx="631.6" cy="733.9" r="2.35"/><circle cx="634.1" cy="736.8" r="2.35"/><circle cx="645.0" cy="736.8" r="2.35"/><circle cx="602.2" cy="743.0" r="2.35"/><circle cx="611.8" cy="743.2" r="2.35"/><circle cx="613.6" cy="743.6" r="2.35"/><circle cx="622.3" cy="741.4" r="2.35"/><circle cx="638.5" cy="741.8" r="2.35"/><circle cx="642.2" cy="744.9" r="2.35"/><circle cx="644.1" cy="748.0" r="2.35"/><circle cx="626.4" cy="746.3" r="2.35"/><circle cx="632.9" cy="747.3" r="2.35"/><circle cx="619.9" cy="749.8" r="2.35"/><circle cx="629.5" cy="751.4" r="2.35"/><circle cx="605.6" cy="748.2" r="2.35"/><circle cx="608.1" cy="751.4" r="2.35"/><circle cx="607.4" cy="753.5" r="2.35"/><circle cx="606.2" cy="758.3" r="2.35"/><circle cx="623.0" cy="754.8" r="2.35"/><circle cx="624.2" cy="754.2" r="2.35"/><circle cx="629.4" cy="757.3" r="2.35"/><circle cx="631.0" cy="759.7" r="2.35"/><circle cx="630.4" cy="762.6" r="2.35"/><circle cx="644.7" cy="751.1" r="2.35"/><circle cx="645.3" cy="753.5" r="2.35"/><circle cx="644.1" cy="756.0" r="2.35"/><circle cx="643.8" cy="758.5" r="2.35"/><circle cx="647.8" cy="753.5" r="2.35"/><circle cx="649.6" cy="754.8" r="2.35"/><circle cx="650.9" cy="752.3" r="2.35"/><circle cx="653.4" cy="751.1" r="2.35"/><circle cx="655.8" cy="749.2" r="2.35"/><circle cx="657.7" cy="748.3" r="2.35"/><circle cx="646.8" cy="767.2" r="2.35"/><circle cx="614.3" cy="772.8" r="2.35"/><circle cx="658.9" cy="771.3" r="2.35"/><circle cx="641.6" cy="775.9" r="2.35"/><circle cx="438.9" cy="782.7" r="2.35"/><circle cx="442.9" cy="780.0" r="2.35"/><circle cx="454.3" cy="781.0" r="2.35"/><circle cx="428.0" cy="791.9" r="2.35"/><circle cx="468.2" cy="790.9" r="2.35"/><circle cx="479.1" cy="782.9" r="2.35"/><circle cx="492.2" cy="779.2" r="2.35"/><circle cx="492.2" cy="788.9" r="2.35"/><circle cx="496.2" cy="795.1" r="2.35"/><circle cx="475.4" cy="796.4" r="2.35"/><circle cx="480.6" cy="799.3" r="2.35"/><circle cx="466.2" cy="804.5" r="2.35"/><circle cx="513.8" cy="789.6" r="2.35"/><circle cx="519.5" cy="785.2" r="2.35"/><circle cx="523.0" cy="787.7" r="2.35"/><circle cx="522.0" cy="778.5" r="2.35"/><circle cx="518.8" cy="804.0" r="2.35"/><circle cx="505.6" cy="809.5" r="2.35"/><circle cx="510.9" cy="815.2" r="2.35"/><circle cx="429.9" cy="834.8" r="2.35"/><circle cx="475.4" cy="853.2" r="2.35"/><circle cx="439.9" cy="860.9" r="2.35"/><circle cx="512.6" cy="857.2" r="2.35"/><circle cx="529.1" cy="778.5" r="2.35"/><circle cx="539.8" cy="782.9" r="2.35"/><circle cx="544.3" cy="776.7" r="2.35"/><circle cx="552.7" cy="779.7" r="2.35"/><circle cx="546.5" cy="788.9" r="2.35"/><circle cx="539.8" cy="792.9" r="2.35"/><circle cx="590.7" cy="778.5" r="2.35"/><circle cx="596.9" cy="780.2" r="2.35"/><circle cx="582.0" cy="788.9" r="2.35"/><circle cx="587.0" cy="792.9" r="2.35"/><circle cx="581.5" cy="795.9" r="2.35"/><circle cx="618.0" cy="784.7" r="2.35"/><circle cx="626.2" cy="783.4" r="2.35"/><circle cx="621.2" cy="790.9" r="2.35"/><circle cx="641.6" cy="777.2" r="2.35"/><circle cx="654.0" cy="787.7" r="2.35"/><circle cx="660.2" cy="795.9" r="2.35"/><circle cx="600.6" cy="799.6" r="2.35"/><circle cx="606.3" cy="798.8" r="2.35"/><circle cx="563.4" cy="805.8" r="2.35"/><circle cx="575.8" cy="807.0" r="2.35"/><circle cx="546.8" cy="808.3" r="2.35"/><circle cx="546.5" cy="812.7" r="2.35"/><circle cx="587.5" cy="813.2" r="2.35"/><circle cx="600.6" cy="814.5" r="2.35"/><circle cx="599.4" cy="818.2" r="2.35"/><circle cx="549.7" cy="819.4" r="2.35"/><circle cx="548.5" cy="821.9" r="2.35"/><circle cx="658.4" cy="807.0" r="2.35"/><circle cx="647.8" cy="811.2" r="2.35"/><circle cx="647.0" cy="820.7" r="2.35"/><circle cx="590.2" cy="821.9" r="2.35"/><circle cx="589.0" cy="823.9" r="2.35"/><circle cx="610.5" cy="822.4" r="2.35"/><circle cx="616.8" cy="826.4" r="2.35"/><circle cx="594.9" cy="827.4" r="2.35"/><circle cx="593.2" cy="830.1" r="2.35"/><circle cx="582.8" cy="830.1" r="2.35"/><circle cx="569.1" cy="826.9" r="2.35"/><circle cx="574.6" cy="825.1" r="2.35"/><circle cx="570.1" cy="830.6" r="2.35"/><circle cx="575.1" cy="829.4" r="2.35"/><circle cx="552.2" cy="828.9" r="2.35"/><circle cx="549.7" cy="830.6" r="2.35"/><circle cx="629.7" cy="828.9" r="2.35"/><circle cx="623.7" cy="832.6" r="2.35"/><circle cx="639.8" cy="835.6" r="2.35"/><circle cx="636.6" cy="838.5" r="2.35"/><circle cx="547.3" cy="836.8" r="2.35"/><circle cx="575.3" cy="835.6" r="2.35"/><circle cx="572.8" cy="836.8" r="2.35"/><circle cx="570.8" cy="840.5" r="2.35"/><circle cx="596.4" cy="834.3" r="2.35"/><circle cx="603.1" cy="835.6" r="2.35"/><circle cx="587.0" cy="836.8" r="2.35"/><circle cx="587.7" cy="839.3" r="2.35"/><circle cx="588.2" cy="841.8" r="2.35"/><circle cx="587.0" cy="845.0" r="2.35"/><circle cx="601.1" cy="840.0" r="2.35"/><circle cx="603.1" cy="842.5" r="2.35"/><circle cx="613.0" cy="837.5" r="2.35"/><circle cx="615.5" cy="839.3" r="2.35"/><circle cx="617.2" cy="841.8" r="2.35"/><circle cx="629.2" cy="839.3" r="2.35"/><circle cx="626.7" cy="843.0" r="2.35"/><circle cx="632.9" cy="845.0" r="2.35"/><circle cx="530.4" cy="842.5" r="2.35"/><circle cx="558.4" cy="843.8" r="2.35"/><circle cx="560.4" cy="843.0" r="2.35"/><circle cx="567.1" cy="846.2" r="2.35"/><circle cx="548.5" cy="850.5" r="2.35"/><circle cx="554.7" cy="856.2" r="2.35"/><circle cx="573.8" cy="858.4" r="2.35"/><circle cx="584.5" cy="859.1" r="2.35"/><circle cx="585.2" cy="860.4" r="2.35"/><circle cx="541.1" cy="864.1" r="2.35"/><circle cx="591.4" cy="864.1" r="2.35"/><circle cx="547.3" cy="870.3" r="2.35"/><circle cx="588.2" cy="849.2" r="2.35"/><circle cx="591.9" cy="850.5" r="2.35"/><circle cx="594.4" cy="848.0" r="2.35"/><circle cx="596.9" cy="846.2" r="2.35"/><circle cx="599.4" cy="848.0" r="2.35"/><circle cx="601.9" cy="846.7" r="2.35"/><circle cx="604.3" cy="848.7" r="2.35"/><circle cx="600.6" cy="850.5" r="2.35"/><circle cx="598.1" cy="851.7" r="2.35"/><circle cx="594.4" cy="852.9" r="2.35"/><circle cx="590.7" cy="854.2" r="2.35"/><circle cx="601.9" cy="852.9" r="2.35"/><circle cx="605.6" cy="850.5" r="2.35"/><circle cx="608.1" cy="851.7" r="2.35"/><circle cx="610.5" cy="849.2" r="2.35"/><circle cx="611.8" cy="848.0" r="2.35"/><circle cx="614.3" cy="850.5" r="2.35"/><circle cx="616.8" cy="852.4" r="2.35"/><circle cx="619.2" cy="850.5" r="2.35"/><circle cx="621.7" cy="848.7" r="2.35"/><circle cx="624.2" cy="851.2" r="2.35"/><circle cx="626.7" cy="850.0" r="2.35"/><circle cx="629.2" cy="848.0" r="2.35"/><circle cx="630.4" cy="851.7" r="2.35"/><circle cx="632.9" cy="850.5" r="2.35"/><circle cx="635.4" cy="850.0" r="2.35"/><circle cx="634.1" cy="853.4" r="2.35"/><circle cx="631.6" cy="854.9" r="2.35"/><circle cx="627.9" cy="854.2" r="2.35"/><circle cx="624.2" cy="854.9" r="2.35"/><circle cx="620.5" cy="855.4" r="2.35"/><circle cx="616.8" cy="854.9" r="2.35"/><circle cx="601.9" cy="856.7" r="2.35"/><circle cx="596.9" cy="856.7" r="2.35"/><circle cx="608.1" cy="855.9" r="2.35"/><circle cx="610.5" cy="857.9" r="2.35"/><circle cx="637.8" cy="857.4" r="2.35"/><circle cx="636.6" cy="852.9" r="2.35"/><circle cx="614.3" cy="860.4" r="2.35"/><circle cx="623.0" cy="860.4" r="2.35"/><circle cx="630.4" cy="863.6" r="2.35"/>
</g>
</g>
<g fill="none" stroke="#000" stroke-width="1.7">
<rect x="18.8" y="21.8" width="665.2" height="403.2"/>
<rect x="16.8" y="470.7" width="664.7" height="400.4"/>
</g>
<g stroke="#000" stroke-width="1.2">
<line x1="45.1" y1="425" x2="45.1" y2="428.8"/><line x1="96.1" y1="425" x2="96.1" y2="427.4"/><line x1="147.1" y1="425" x2="147.1" y2="428.8"/><line x1="198.1" y1="425" x2="198.1" y2="427.4"/><line x1="249.1" y1="425" x2="249.1" y2="428.8"/><line x1="300.2" y1="425" x2="300.2" y2="427.4"/><line x1="351.2" y1="425" x2="351.2" y2="428.8"/><line x1="402.2" y1="425" x2="402.2" y2="427.4"/><line x1="453.2" y1="425" x2="453.2" y2="428.8"/><line x1="504.3" y1="425" x2="504.3" y2="427.4"/><line x1="555.3" y1="425" x2="555.3" y2="428.8"/><line x1="606.3" y1="425" x2="606.3" y2="427.4"/><line x1="657.3" y1="425" x2="657.3" y2="428.8"/><line x1="16.4" y1="411.8" x2="18.8" y2="411.8"/><line x1="15.0" y1="389.1" x2="18.8" y2="389.1"/><line x1="16.4" y1="366.5" x2="18.8" y2="366.5"/><line x1="15.0" y1="343.9" x2="18.8" y2="343.9"/><line x1="16.4" y1="321.3" x2="18.8" y2="321.3"/><line x1="15.0" y1="298.8" x2="18.8" y2="298.8"/><line x1="16.4" y1="276.1" x2="18.8" y2="276.1"/><line x1="15.0" y1="253.5" x2="18.8" y2="253.5"/><line x1="16.4" y1="230.9" x2="18.8" y2="230.9"/><line x1="15.0" y1="208.3" x2="18.8" y2="208.3"/><line x1="16.4" y1="185.8" x2="18.8" y2="185.8"/><line x1="15.0" y1="163.2" x2="18.8" y2="163.2"/><line x1="16.4" y1="140.6" x2="18.8" y2="140.6"/><line x1="15.0" y1="118.0" x2="18.8" y2="118.0"/><line x1="16.4" y1="95.4" x2="18.8" y2="95.4"/><line x1="15.0" y1="72.8" x2="18.8" y2="72.8"/><line x1="16.4" y1="50.2" x2="18.8" y2="50.2"/><line x1="15.0" y1="27.6" x2="18.8" y2="27.6"/><line x1="60.6" y1="871" x2="60.6" y2="873.5"/><line x1="113.2" y1="871" x2="113.2" y2="874.9"/><line x1="165.8" y1="871" x2="165.8" y2="873.5"/><line x1="218.4" y1="871" x2="218.4" y2="874.9"/><line x1="271.0" y1="871" x2="271.0" y2="873.5"/><line x1="323.6" y1="871" x2="323.6" y2="874.9"/><line x1="376.2" y1="871" x2="376.2" y2="873.5"/><line x1="428.8" y1="871" x2="428.8" y2="874.9"/><line x1="481.4" y1="871" x2="481.4" y2="873.5"/><line x1="534.0" y1="871" x2="534.0" y2="874.9"/><line x1="586.7" y1="871" x2="586.7" y2="873.5"/><line x1="639.3" y1="871" x2="639.3" y2="874.9"/><line x1="13.0" y1="846.4" x2="16.8" y2="846.4"/><line x1="14.4" y1="818.1" x2="16.8" y2="818.1"/><line x1="13.0" y1="789.9" x2="16.8" y2="789.9"/><line x1="14.4" y1="761.6" x2="16.8" y2="761.6"/><line x1="13.0" y1="733.4" x2="16.8" y2="733.4"/><line x1="14.4" y1="705.1" x2="16.8" y2="705.1"/><line x1="13.0" y1="676.9" x2="16.8" y2="676.9"/><line x1="14.4" y1="648.7" x2="16.8" y2="648.7"/><line x1="13.0" y1="620.4" x2="16.8" y2="620.4"/><line x1="14.4" y1="592.2" x2="16.8" y2="592.2"/><line x1="13.0" y1="563.9" x2="16.8" y2="563.9"/><line x1="14.4" y1="535.7" x2="16.8" y2="535.7"/><line x1="13.0" y1="507.4" x2="16.8" y2="507.4"/><line x1="14.4" y1="479.2" x2="16.8" y2="479.2"/>
</g>
<g class="k" text-anchor="middle">
<text x="45.1" y="439.2">-60</text><text x="147.1" y="439.2">-40</text><text x="249.1" y="439.2">-20</text><text x="351.2" y="439.2">0</text><text x="453.2" y="439.2">20</text><text x="555.3" y="439.2">40</text><text x="657.3" y="439.2">60</text><text x="113.2" y="884.8">-4</text><text x="218.4" y="884.8">-2</text><text x="323.6" y="884.8">0</text><text x="428.8" y="884.8">2</text><text x="534.0" y="884.8">4</text><text x="639.3" y="884.8">6</text>
</g>
<g class="k" text-anchor="end">
<text x="13.2" y="392.4">-40</text><text x="13.2" y="347.2">-30</text><text x="13.2" y="302.1">-20</text><text x="13.2" y="256.8">-10</text><text x="13.2" y="211.7">0</text><text x="13.2" y="166.5">10</text><text x="13.2" y="121.2">20</text><text x="13.2" y="76.0">30</text><text x="13.2" y="30.9">40</text><text x="10.4" y="849.7">-3</text><text x="10.4" y="793.2">-2</text><text x="10.4" y="736.7">-1</text><text x="10.4" y="680.2">0</text><text x="10.4" y="623.7">1</text><text x="10.4" y="567.2">2</text><text x="10.4" y="510.7">3</text>
</g>
<text class="t" x="342.1" y="12.3" text-anchor="middle">t-SNE Visualization of FMD Triplet Embeddings</text>
<text class="t" x="342.3" y="461" text-anchor="middle">PCA Visualization of FMD Triplet Embeddings</text>
<circle cx="599.2" cy="37.6" r="5.2" fill="#ff0000"/><circle cx="599.2" cy="57.1" r="5.2" fill="#9800ff"/>
<text class="l" x="614.4" y="42.8">Negative</text><text class="l" x="614.4" y="62.6">Positive</text>
</svg>
</body></html>
